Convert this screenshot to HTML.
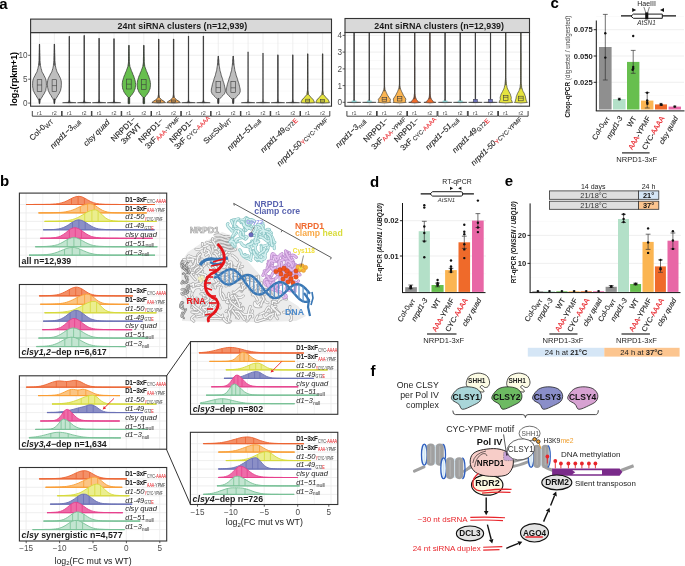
<!DOCTYPE html>
<html><head><meta charset="utf-8"><style>
html,body{margin:0;padding:0;background:#fff;width:685px;height:566px;overflow:hidden}
svg{display:block;will-change:transform;font-family:"Liberation Sans", sans-serif}
</style></head><body>
<svg width="685" height="566" viewBox="0 0 685 566">
<rect width="685" height="566" fill="#fff"/>
<text x="-0.8" y="8.7" font-size="15" font-weight="bold" text-anchor="start" fill="#000">a</text>
<rect x="30.6" y="32.6" width="300.9" height="73.6" fill="#fff" stroke="none" stroke-width="1"/>
<line x1="30.6" y1="103.1" x2="331.5" y2="103.1" stroke="#ebebeb" stroke-width="0.8"/>
<line x1="30.6" y1="91.1" x2="331.5" y2="91.1" stroke="#f2f2f2" stroke-width="0.5"/>
<line x1="30.6" y1="79.2" x2="331.5" y2="79.2" stroke="#ebebeb" stroke-width="0.8"/>
<line x1="30.6" y1="67.2" x2="331.5" y2="67.2" stroke="#f2f2f2" stroke-width="0.5"/>
<line x1="30.6" y1="55.3" x2="331.5" y2="55.3" stroke="#ebebeb" stroke-width="0.8"/>
<line x1="30.6" y1="43.3" x2="331.5" y2="43.3" stroke="#f2f2f2" stroke-width="0.5"/>
<line x1="39.5" y1="32.6" x2="39.5" y2="106.2" stroke="#ebebeb" stroke-width="0.8"/>
<line x1="54.4" y1="32.6" x2="54.4" y2="106.2" stroke="#ebebeb" stroke-width="0.8"/>
<line x1="69.3" y1="32.6" x2="69.3" y2="106.2" stroke="#ebebeb" stroke-width="0.8"/>
<line x1="84.2" y1="32.6" x2="84.2" y2="106.2" stroke="#ebebeb" stroke-width="0.8"/>
<line x1="99.1" y1="32.6" x2="99.1" y2="106.2" stroke="#ebebeb" stroke-width="0.8"/>
<line x1="114" y1="32.6" x2="114" y2="106.2" stroke="#ebebeb" stroke-width="0.8"/>
<line x1="128.9" y1="32.6" x2="128.9" y2="106.2" stroke="#ebebeb" stroke-width="0.8"/>
<line x1="143.8" y1="32.6" x2="143.8" y2="106.2" stroke="#ebebeb" stroke-width="0.8"/>
<line x1="158.7" y1="32.6" x2="158.7" y2="106.2" stroke="#ebebeb" stroke-width="0.8"/>
<line x1="173.6" y1="32.6" x2="173.6" y2="106.2" stroke="#ebebeb" stroke-width="0.8"/>
<line x1="188.5" y1="32.6" x2="188.5" y2="106.2" stroke="#ebebeb" stroke-width="0.8"/>
<line x1="203.4" y1="32.6" x2="203.4" y2="106.2" stroke="#ebebeb" stroke-width="0.8"/>
<line x1="218.3" y1="32.6" x2="218.3" y2="106.2" stroke="#ebebeb" stroke-width="0.8"/>
<line x1="233.2" y1="32.6" x2="233.2" y2="106.2" stroke="#ebebeb" stroke-width="0.8"/>
<line x1="248.1" y1="32.6" x2="248.1" y2="106.2" stroke="#ebebeb" stroke-width="0.8"/>
<line x1="263" y1="32.6" x2="263" y2="106.2" stroke="#ebebeb" stroke-width="0.8"/>
<line x1="277.9" y1="32.6" x2="277.9" y2="106.2" stroke="#ebebeb" stroke-width="0.8"/>
<line x1="292.8" y1="32.6" x2="292.8" y2="106.2" stroke="#ebebeb" stroke-width="0.8"/>
<line x1="307.7" y1="32.6" x2="307.7" y2="106.2" stroke="#ebebeb" stroke-width="0.8"/>
<line x1="322.6" y1="32.6" x2="322.6" y2="106.2" stroke="#ebebeb" stroke-width="0.8"/>
<path d="M39.6 44.1 L39.7 45.8 L39.7 47.4 L39.7 49.1 L39.8 50.7 L39.8 52.4 L39.9 54 L39.9 55.7 L40 57.3 L40 59 L40 60 L40 60.6 L40.2 62.3 L40.4 63.9 L40.5 65.6 L40.5 65.7 L40.8 67.2 L41.1 68.5 L41.2 68.9 L41.7 70.5 L41.9 71.5 L42.2 72.2 L43.2 73.8 L43.8 75 L44 75.5 L44.9 77.2 L45.5 78.5 L45.6 78.8 L46.1 80.5 L46.2 81 L46.3 82.1 L46.4 83.8 L46.4 84 L46.4 85.4 L46.3 87 L46.3 87.1 L46 88.7 L45.8 90.2 L45.8 90.4 L44.9 92 L44.5 93 L44.2 93.7 L43 95.3 L42.7 96 L42.1 97 L41.1 98.5 L41.1 98.6 L40.2 100.3 L40.1 100.7 L39.9 101.9 L39.6 103.6 L39.4 103.6 L39.1 101.9 L38.9 100.7 L38.8 100.3 L37.9 98.6 L37.9 98.5 L36.9 97 L36.3 96 L36 95.3 L34.8 93.7 L34.5 93 L34.1 92 L33.2 90.4 L33.2 90.2 L33 88.7 L32.7 87.1 L32.7 87 L32.6 85.4 L32.6 84 L32.6 83.8 L32.7 82.1 L32.8 81 L32.9 80.5 L33.4 78.8 L33.5 78.5 L34.1 77.2 L35 75.5 L35.2 75 L35.8 73.8 L36.8 72.2 L37.1 71.5 L37.3 70.5 L37.8 68.9 L37.9 68.5 L38.2 67.2 L38.5 65.7 L38.5 65.6 L38.6 63.9 L38.8 62.3 L39 60.6 L39 60 L39 59 L39 57.3 L39.1 55.7 L39.1 54 L39.2 52.4 L39.2 50.7 L39.3 49.1 L39.3 47.4 L39.3 45.8 L39.4 44.1 Z" fill="#bebebe" stroke="#2b2b2b" stroke-width="0.7" stroke-linejoin="round"/>
<line x1="39.5" y1="44.1" x2="39.5" y2="65.6" stroke="#3a3a3a" stroke-width="0.8"/>
<line x1="39.5" y1="98.6" x2="39.5" y2="103.6" stroke="#333" stroke-width="1.3"/>
<rect x="37.2" y="79.7" width="4.6" height="11.7" fill="none" stroke="#3a3a3a" stroke-width="0.6"/>
<line x1="37.2" y1="85" x2="41.8" y2="85" stroke="#3a3a3a" stroke-width="0.6"/>
<path d="M54.5 44.1 L54.6 45.8 L54.6 47.4 L54.6 49.1 L54.7 50.7 L54.7 52.4 L54.8 54 L54.8 55.7 L54.9 57.3 L54.9 59 L54.9 60 L54.9 60.6 L55.1 62.3 L55.3 63.9 L55.4 65.6 L55.4 65.7 L55.7 67.2 L56 68.5 L56.1 68.9 L56.6 70.5 L56.9 71.5 L57.2 72.2 L58.2 73.8 L58.8 75 L59 75.5 L59.9 77.2 L60.5 78.5 L60.6 78.8 L61.1 80.5 L61.2 81 L61.3 82.1 L61.4 83.8 L61.4 84.5 L61.3 85.4 L61.2 87.1 L61.2 87.5 L60.9 88.7 L60.6 90.2 L60.6 90.4 L59.8 92 L59.4 93 L59.1 93.7 L57.9 95.3 L57.6 96 L57 97 L56 98.5 L56 98.6 L55.1 100.3 L55 100.7 L54.8 101.9 L54.5 103.6 L54.2 103.6 L54 101.9 L53.8 100.7 L53.7 100.3 L52.8 98.6 L52.8 98.5 L51.8 97 L51.2 96 L50.9 95.3 L49.7 93.7 L49.4 93 L49 92 L48.2 90.4 L48.2 90.2 L47.9 88.7 L47.6 87.5 L47.6 87.1 L47.5 85.4 L47.4 84.5 L47.4 83.8 L47.5 82.1 L47.6 81 L47.7 80.5 L48.2 78.8 L48.3 78.5 L48.9 77.2 L49.8 75.5 L50 75 L50.6 73.8 L51.6 72.2 L51.9 71.5 L52.2 70.5 L52.7 68.9 L52.8 68.5 L53.1 67.2 L53.4 65.7 L53.4 65.6 L53.5 63.9 L53.7 62.3 L53.9 60.6 L53.9 60 L53.9 59 L53.9 57.3 L54 55.7 L54 54 L54.1 52.4 L54.1 50.7 L54.2 49.1 L54.2 47.4 L54.2 45.8 L54.2 44.1 Z" fill="#bebebe" stroke="#2b2b2b" stroke-width="0.7" stroke-linejoin="round"/>
<line x1="54.4" y1="44.1" x2="54.4" y2="65.6" stroke="#3a3a3a" stroke-width="0.8"/>
<line x1="54.4" y1="98.6" x2="54.4" y2="103.6" stroke="#333" stroke-width="1.3"/>
<rect x="52.1" y="79.7" width="4.6" height="11.7" fill="none" stroke="#3a3a3a" stroke-width="0.6"/>
<line x1="52.1" y1="85.6" x2="56.7" y2="85.6" stroke="#3a3a3a" stroke-width="0.6"/>
<path d="M69.5 36.3 L69.5 38.2 L69.5 40 L69.5 41.9 L69.5 43.7 L69.5 45.6 L69.5 47.4 L69.5 49.3 L69.5 51.1 L69.5 53 L69.5 54.8 L69.5 56.7 L69.5 58.5 L69.5 60.4 L69.5 62.2 L69.5 64.1 L69.5 65.9 L69.5 67.8 L69.5 69.7 L69.5 71.5 L69.5 73.4 L69.5 75.2 L69.5 77.1 L69.5 78.9 L69.5 80.8 L69.5 82.6 L69.5 84.5 L69.5 86.3 L69.5 88.2 L69.5 90 L69.5 91.9 L69.5 93.7 L69.5 95.6 L69.5 97.4 L69.5 98.7 L69.5 99.3 L69.8 101.1 L69.8 101.6 L70.8 102.3 L76.1 102.7 L69.3 103 L69.3 103 L62.5 102.7 L67.8 102.3 L68.8 101.6 L68.8 101.1 L69.1 99.3 L69.1 98.7 L69.1 97.4 L69.1 95.6 L69.1 93.7 L69.1 91.9 L69.1 90 L69.1 88.2 L69.1 86.3 L69.1 84.5 L69.1 82.6 L69.1 80.8 L69.1 78.9 L69.1 77.1 L69.1 75.2 L69.1 73.4 L69.1 71.5 L69.1 69.7 L69.1 67.8 L69.1 65.9 L69.1 64.1 L69.1 62.2 L69.1 60.4 L69.1 58.5 L69.1 56.7 L69.1 54.8 L69.1 53 L69.1 51.1 L69.1 49.3 L69.1 47.4 L69.1 45.6 L69.1 43.7 L69.1 41.9 L69.1 40 L69.1 38.2 L69.1 36.3 Z" fill="#444" stroke="#2b2b2b" stroke-width="0.5" stroke-linejoin="round"/>
<line x1="69.3" y1="36.3" x2="69.3" y2="102.3" stroke="#3a3a3a" stroke-width="0.8"/>
<path d="M84.4 35.4 L84.4 37.3 L84.4 39.2 L84.4 41 L84.4 42.9 L84.4 44.8 L84.4 46.7 L84.4 48.5 L84.4 50.4 L84.4 52.3 L84.4 54.2 L84.4 56.1 L84.4 57.9 L84.4 59.8 L84.4 61.7 L84.4 63.6 L84.4 65.4 L84.4 67.3 L84.4 69.2 L84.4 71.1 L84.4 73 L84.4 74.8 L84.4 76.7 L84.4 78.6 L84.4 80.5 L84.4 82.3 L84.4 84.2 L84.4 86.1 L84.4 88 L84.4 89.9 L84.4 91.7 L84.4 93.6 L84.4 95.5 L84.4 97.4 L84.4 98.7 L84.4 99.2 L84.7 101.1 L84.7 101.6 L85.7 102.3 L91 102.7 L84.2 103 L84.2 103 L77.4 102.7 L82.7 102.3 L83.7 101.6 L83.7 101.1 L84 99.2 L84 98.7 L84 97.4 L84 95.5 L84 93.6 L84 91.7 L84 89.9 L84 88 L84 86.1 L84 84.2 L84 82.3 L84 80.5 L84 78.6 L84 76.7 L84 74.8 L84 73 L84 71.1 L84 69.2 L84 67.3 L84 65.4 L84 63.6 L84 61.7 L84 59.8 L84 57.9 L84 56.1 L84 54.2 L84 52.3 L84 50.4 L84 48.5 L84 46.7 L84 44.8 L84 42.9 L84 41 L84 39.2 L84 37.3 L84 35.4 Z" fill="#444" stroke="#2b2b2b" stroke-width="0.5" stroke-linejoin="round"/>
<line x1="84.2" y1="35.4" x2="84.2" y2="102.3" stroke="#3a3a3a" stroke-width="0.8"/>
<path d="M99.2 38.2 L99.3 40 L99.3 41.8 L99.3 43.6 L99.3 45.4 L99.3 47.2 L99.3 49 L99.3 50.8 L99.3 52.6 L99.3 54.4 L99.3 56.2 L99.3 58 L99.3 59.8 L99.3 61.6 L99.3 63.4 L99.3 65.2 L99.3 67 L99.3 68.8 L99.3 70.6 L99.3 72.4 L99.3 74.2 L99.3 76 L99.3 77.8 L99.3 79.6 L99.3 81.4 L99.3 83.2 L99.3 85 L99.3 86.8 L99.3 88.6 L99.3 90.4 L99.3 92.2 L99.3 94 L99.3 95.8 L99.3 97.6 L99.3 98.7 L99.4 99.4 L99.6 101.2 L99.6 101.6 L100.6 102.3 L105.9 102.7 L99.1 103 L99.1 103 L92.3 102.7 L97.6 102.3 L98.6 101.6 L98.6 101.2 L98.8 99.4 L98.9 98.7 L98.9 97.6 L98.9 95.8 L98.9 94 L98.9 92.2 L98.9 90.4 L98.9 88.6 L98.9 86.8 L98.9 85 L98.9 83.2 L98.9 81.4 L98.9 79.6 L98.9 77.8 L98.9 76 L98.9 74.2 L98.9 72.4 L98.9 70.6 L98.9 68.8 L98.9 67 L98.9 65.2 L98.9 63.4 L98.9 61.6 L98.9 59.8 L98.9 58 L98.9 56.2 L98.9 54.4 L98.9 52.6 L98.9 50.8 L98.9 49 L98.9 47.2 L98.9 45.4 L98.9 43.6 L98.9 41.8 L98.9 40 L98.9 38.2 Z" fill="#444" stroke="#2b2b2b" stroke-width="0.5" stroke-linejoin="round"/>
<line x1="99.1" y1="38.2" x2="99.1" y2="102.3" stroke="#3a3a3a" stroke-width="0.8"/>
<path d="M114.2 38.7 L114.2 40.5 L114.2 42.3 L114.2 44.1 L114.2 45.8 L114.2 47.6 L114.2 49.4 L114.2 51.2 L114.2 53 L114.2 54.8 L114.2 56.6 L114.2 58.3 L114.2 60.1 L114.2 61.9 L114.2 63.7 L114.2 65.5 L114.2 67.3 L114.2 69.1 L114.2 70.8 L114.2 72.6 L114.2 74.4 L114.2 76.2 L114.2 78 L114.2 79.8 L114.2 81.6 L114.2 83.4 L114.2 85.1 L114.2 86.9 L114.2 88.7 L114.2 90.5 L114.2 92.3 L114.2 94.1 L114.2 95.9 L114.2 97.6 L114.2 98.7 L114.3 99.4 L114.5 101.2 L114.5 101.6 L115.5 102.3 L120.8 102.7 L114 103 L114 103 L107.2 102.7 L112.5 102.3 L113.5 101.6 L113.5 101.2 L113.7 99.4 L113.8 98.7 L113.8 97.6 L113.8 95.9 L113.8 94.1 L113.8 92.3 L113.8 90.5 L113.8 88.7 L113.8 86.9 L113.8 85.1 L113.8 83.4 L113.8 81.6 L113.8 79.8 L113.8 78 L113.8 76.2 L113.8 74.4 L113.8 72.6 L113.8 70.8 L113.8 69.1 L113.8 67.3 L113.8 65.5 L113.8 63.7 L113.8 61.9 L113.8 60.1 L113.8 58.3 L113.8 56.6 L113.8 54.8 L113.8 53 L113.8 51.2 L113.8 49.4 L113.8 47.6 L113.8 45.8 L113.8 44.1 L113.8 42.3 L113.8 40.5 L113.8 38.7 Z" fill="#444" stroke="#2b2b2b" stroke-width="0.5" stroke-linejoin="round"/>
<line x1="114" y1="38.7" x2="114" y2="102.3" stroke="#3a3a3a" stroke-width="0.8"/>
<path d="M188.7 36 L188.7 37.9 L188.7 39.7 L188.7 41.6 L188.7 43.4 L188.7 45.3 L188.7 47.2 L188.7 49 L188.7 50.9 L188.7 52.8 L188.7 54.6 L188.7 56.5 L188.7 58.3 L188.7 60.2 L188.7 62.1 L188.7 63.9 L188.7 65.8 L188.7 67.6 L188.7 69.5 L188.7 71.4 L188.7 73.2 L188.7 75.1 L188.7 76.9 L188.7 78.8 L188.7 80.7 L188.7 82.5 L188.7 84.4 L188.7 86.2 L188.7 88.1 L188.7 90 L188.7 91.8 L188.7 93.7 L188.7 95.6 L188.7 97.4 L188.7 98.7 L188.7 99.3 L189 101.1 L189 101.6 L190 102.3 L195.3 102.7 L188.5 103 L188.5 103 L181.7 102.7 L187 102.3 L188 101.6 L188 101.1 L188.3 99.3 L188.3 98.7 L188.3 97.4 L188.3 95.6 L188.3 93.7 L188.3 91.8 L188.3 90 L188.3 88.1 L188.3 86.2 L188.3 84.4 L188.3 82.5 L188.3 80.7 L188.3 78.8 L188.3 76.9 L188.3 75.1 L188.3 73.2 L188.3 71.4 L188.3 69.5 L188.3 67.6 L188.3 65.8 L188.3 63.9 L188.3 62.1 L188.3 60.2 L188.3 58.3 L188.3 56.5 L188.3 54.6 L188.3 52.8 L188.3 50.9 L188.3 49 L188.3 47.2 L188.3 45.3 L188.3 43.4 L188.3 41.6 L188.3 39.7 L188.3 37.9 L188.3 36 Z" fill="#444" stroke="#2b2b2b" stroke-width="0.5" stroke-linejoin="round"/>
<line x1="188.5" y1="36" x2="188.5" y2="102.3" stroke="#3a3a3a" stroke-width="0.8"/>
<path d="M203.6 36 L203.6 37.9 L203.6 39.7 L203.6 41.6 L203.6 43.4 L203.6 45.3 L203.6 47.2 L203.6 49 L203.6 50.9 L203.6 52.8 L203.6 54.6 L203.6 56.5 L203.6 58.3 L203.6 60.2 L203.6 62.1 L203.6 63.9 L203.6 65.8 L203.6 67.6 L203.6 69.5 L203.6 71.4 L203.6 73.2 L203.6 75.1 L203.6 76.9 L203.6 78.8 L203.6 80.7 L203.6 82.5 L203.6 84.4 L203.6 86.2 L203.6 88.1 L203.6 90 L203.6 91.8 L203.6 93.7 L203.6 95.6 L203.6 97.4 L203.6 98.7 L203.6 99.3 L203.9 101.1 L203.9 101.6 L204.9 102.3 L210.2 102.7 L203.4 103 L203.4 103 L196.6 102.7 L201.9 102.3 L202.9 101.6 L202.9 101.1 L203.2 99.3 L203.2 98.7 L203.2 97.4 L203.2 95.6 L203.2 93.7 L203.2 91.8 L203.2 90 L203.2 88.1 L203.2 86.2 L203.2 84.4 L203.2 82.5 L203.2 80.7 L203.2 78.8 L203.2 76.9 L203.2 75.1 L203.2 73.2 L203.2 71.4 L203.2 69.5 L203.2 67.6 L203.2 65.8 L203.2 63.9 L203.2 62.1 L203.2 60.2 L203.2 58.3 L203.2 56.5 L203.2 54.6 L203.2 52.8 L203.2 50.9 L203.2 49 L203.2 47.2 L203.2 45.3 L203.2 43.4 L203.2 41.6 L203.2 39.7 L203.2 37.9 L203.2 36 Z" fill="#444" stroke="#2b2b2b" stroke-width="0.5" stroke-linejoin="round"/>
<line x1="203.4" y1="36" x2="203.4" y2="102.3" stroke="#3a3a3a" stroke-width="0.8"/>
<path d="M248.2 51.9 L248.3 53.3 L248.3 54.7 L248.3 56.2 L248.3 57.6 L248.3 59 L248.3 60.4 L248.3 61.8 L248.3 63.3 L248.3 64.7 L248.3 66.1 L248.3 67.5 L248.3 68.9 L248.3 70.4 L248.3 71.8 L248.3 73.2 L248.3 74.6 L248.3 76 L248.3 77.5 L248.3 78.9 L248.3 80.3 L248.3 81.7 L248.3 83.1 L248.3 84.5 L248.3 86 L248.3 87.4 L248.3 88.8 L248.3 90.2 L248.3 91.6 L248.3 93.1 L248.3 94.5 L248.3 95.9 L248.3 97.3 L248.3 98.7 L248.3 98.7 L248.5 100.2 L248.6 101.6 L248.6 101.6 L249.6 102.3 L254.9 102.7 L248.1 103 L248.1 103 L241.3 102.7 L246.6 102.3 L247.6 101.6 L247.6 101.6 L247.7 100.2 L247.9 98.7 L247.9 98.7 L247.9 97.3 L247.9 95.9 L247.9 94.5 L247.9 93.1 L247.9 91.6 L247.9 90.2 L247.9 88.8 L247.9 87.4 L247.9 86 L247.9 84.5 L247.9 83.1 L247.9 81.7 L247.9 80.3 L247.9 78.9 L247.9 77.5 L247.9 76 L247.9 74.6 L247.9 73.2 L247.9 71.8 L247.9 70.4 L247.9 68.9 L247.9 67.5 L247.9 66.1 L247.9 64.7 L247.9 63.3 L247.9 61.8 L247.9 60.4 L247.9 59 L247.9 57.6 L247.9 56.2 L247.9 54.7 L247.9 53.3 L247.9 51.9 Z" fill="#444" stroke="#2b2b2b" stroke-width="0.5" stroke-linejoin="round"/>
<line x1="248.1" y1="51.9" x2="248.1" y2="102.3" stroke="#7a7a7a" stroke-width="0.8"/>
<path d="M263.1 53 L263.2 54.4 L263.2 55.8 L263.2 57.2 L263.2 58.6 L263.2 59.9 L263.2 61.3 L263.2 62.7 L263.2 64.1 L263.2 65.5 L263.2 66.9 L263.2 68.3 L263.2 69.7 L263.2 71.1 L263.2 72.4 L263.2 73.8 L263.2 75.2 L263.2 76.6 L263.2 78 L263.2 79.4 L263.2 80.8 L263.2 82.2 L263.2 83.6 L263.2 84.9 L263.2 86.3 L263.2 87.7 L263.2 89.1 L263.2 90.5 L263.2 91.9 L263.2 93.3 L263.2 94.7 L263.2 96.1 L263.2 97.4 L263.2 98.7 L263.2 98.8 L263.4 100.2 L263.5 101.6 L263.5 101.6 L264.5 102.3 L269.8 102.7 L263 103 L263 103 L256.2 102.7 L261.5 102.3 L262.5 101.6 L262.5 101.6 L262.6 100.2 L262.8 98.8 L262.8 98.7 L262.8 97.4 L262.8 96.1 L262.8 94.7 L262.8 93.3 L262.8 91.9 L262.8 90.5 L262.8 89.1 L262.8 87.7 L262.8 86.3 L262.8 84.9 L262.8 83.6 L262.8 82.2 L262.8 80.8 L262.8 79.4 L262.8 78 L262.8 76.6 L262.8 75.2 L262.8 73.8 L262.8 72.4 L262.8 71.1 L262.8 69.7 L262.8 68.3 L262.8 66.9 L262.8 65.5 L262.8 64.1 L262.8 62.7 L262.8 61.3 L262.8 59.9 L262.8 58.6 L262.8 57.2 L262.8 55.8 L262.8 54.4 L262.9 53 Z" fill="#444" stroke="#2b2b2b" stroke-width="0.5" stroke-linejoin="round"/>
<line x1="263" y1="53" x2="263" y2="102.3" stroke="#7a7a7a" stroke-width="0.8"/>
<path d="M278 54.8 L278.1 56.1 L278.1 57.5 L278.1 58.8 L278.1 60.2 L278.1 61.5 L278.1 62.8 L278.1 64.2 L278.1 65.5 L278.1 66.8 L278.1 68.2 L278.1 69.5 L278.1 70.9 L278.1 72.2 L278.1 73.5 L278.1 74.9 L278.1 76.2 L278.1 77.6 L278.1 78.9 L278.1 80.2 L278.1 81.6 L278.1 82.9 L278.1 84.3 L278.1 85.6 L278.1 86.9 L278.1 88.3 L278.1 89.6 L278.1 91 L278.1 92.3 L278.1 93.6 L278.1 95 L278.1 96.3 L278.1 97.6 L278.1 98.7 L278.1 99 L278.3 100.3 L278.4 101.6 L278.5 101.7 L279.4 102.3 L284.7 102.7 L277.9 103 L277.9 103 L271.1 102.7 L276.4 102.3 L277.3 101.7 L277.4 101.6 L277.5 100.3 L277.7 99 L277.7 98.7 L277.7 97.6 L277.7 96.3 L277.7 95 L277.7 93.6 L277.7 92.3 L277.7 91 L277.7 89.6 L277.7 88.3 L277.7 86.9 L277.7 85.6 L277.7 84.3 L277.7 82.9 L277.7 81.6 L277.7 80.2 L277.7 78.9 L277.7 77.6 L277.7 76.2 L277.7 74.9 L277.7 73.5 L277.7 72.2 L277.7 70.9 L277.7 69.5 L277.7 68.2 L277.7 66.8 L277.7 65.5 L277.7 64.2 L277.7 62.8 L277.7 61.5 L277.7 60.2 L277.7 58.8 L277.7 57.5 L277.7 56.1 L277.8 54.8 Z" fill="#444" stroke="#2b2b2b" stroke-width="0.5" stroke-linejoin="round"/>
<line x1="277.9" y1="54.8" x2="277.9" y2="102.3" stroke="#3a3a3a" stroke-width="0.8"/>
<path d="M292.9 54.8 L293 56.1 L293 57.5 L293 58.8 L293 60.2 L293 61.5 L293 62.8 L293 64.2 L293 65.5 L293 66.8 L293 68.2 L293 69.5 L293 70.9 L293 72.2 L293 73.5 L293 74.9 L293 76.2 L293 77.6 L293 78.9 L293 80.2 L293 81.6 L293 82.9 L293 84.3 L293 85.6 L293 86.9 L293 88.3 L293 89.6 L293 91 L293 92.3 L293 93.6 L293 95 L293 96.3 L293 97.6 L293 98.7 L293 99 L293.2 100.3 L293.3 101.6 L293.4 101.7 L294.3 102.3 L299.6 102.7 L292.8 103 L292.8 103 L286 102.7 L291.3 102.3 L292.2 101.7 L292.3 101.6 L292.4 100.3 L292.6 99 L292.6 98.7 L292.6 97.6 L292.6 96.3 L292.6 95 L292.6 93.6 L292.6 92.3 L292.6 91 L292.6 89.6 L292.6 88.3 L292.6 86.9 L292.6 85.6 L292.6 84.3 L292.6 82.9 L292.6 81.6 L292.6 80.2 L292.6 78.9 L292.6 77.6 L292.6 76.2 L292.6 74.9 L292.6 73.5 L292.6 72.2 L292.6 70.9 L292.6 69.5 L292.6 68.2 L292.6 66.8 L292.6 65.5 L292.6 64.2 L292.6 62.8 L292.6 61.5 L292.6 60.2 L292.6 58.8 L292.6 57.5 L292.6 56.1 L292.7 54.8 Z" fill="#444" stroke="#2b2b2b" stroke-width="0.5" stroke-linejoin="round"/>
<line x1="292.8" y1="54.8" x2="292.8" y2="102.3" stroke="#3a3a3a" stroke-width="0.8"/>
<path d="M129.1 45.3 L129.1 46.9 L129.1 48.5 L129.1 50.2 L129.1 51.8 L129.2 53.4 L129.2 55 L129.2 56.6 L129.3 58.3 L129.3 59.9 L129.3 61.5 L129.3 62 L129.4 63.1 L129.7 64.7 L129.9 66.3 L129.9 66.4 L130.4 68 L131.1 69.6 L131.3 70.4 L131.6 71.2 L132.4 72.8 L132.8 74 L132.9 74.4 L133.7 76.1 L134.2 77.4 L134.2 77.7 L134.7 79.3 L135.2 80.9 L135.2 81 L135.4 82.5 L135.6 84.2 L135.6 84.5 L135.5 85.8 L135.3 87.4 L135.3 88 L135 89 L134.3 90.6 L134.1 91.4 L133.6 92.3 L132.5 93.9 L132.5 94 L131.2 95.5 L130.9 96 L129.9 97.1 L129.7 97.4 L129.7 98.7 L129.7 100.4 L129.7 102 L129.7 103.6 L128.1 103.6 L128.1 102 L128.1 100.4 L128.1 98.7 L128.1 97.4 L127.9 97.1 L126.9 96 L126.6 95.5 L125.3 94 L125.3 93.9 L124.2 92.3 L123.7 91.4 L123.5 90.6 L122.8 89 L122.5 88 L122.5 87.4 L122.3 85.8 L122.2 84.5 L122.2 84.2 L122.4 82.5 L122.6 81 L122.6 80.9 L123.1 79.3 L123.6 77.7 L123.6 77.4 L124.1 76.1 L124.9 74.4 L125 74 L125.4 72.8 L126.2 71.2 L126.5 70.4 L126.7 69.6 L127.4 68 L127.9 66.4 L127.9 66.3 L128.1 64.7 L128.4 63.1 L128.5 62 L128.5 61.5 L128.5 59.9 L128.5 58.3 L128.6 56.6 L128.6 55 L128.6 53.4 L128.7 51.8 L128.7 50.2 L128.7 48.5 L128.7 46.9 L128.8 45.3 Z" fill="#67bf4e" stroke="#2b2b2b" stroke-width="0.7" stroke-linejoin="round"/>
<line x1="128.9" y1="45.3" x2="128.9" y2="66.3" stroke="#3a3a3a" stroke-width="0.8"/>
<line x1="128.9" y1="97.1" x2="128.9" y2="103.6" stroke="#333" stroke-width="1.3"/>
<rect x="126.6" y="79.1" width="4.6" height="9.9" fill="none" stroke="#3a3a3a" stroke-width="0.6"/>
<line x1="126.6" y1="84.2" x2="131.2" y2="84.2" stroke="#3a3a3a" stroke-width="0.6"/>
<path d="M144 45.3 L144 46.9 L144 48.5 L144 50.2 L144 51.8 L144.1 53.4 L144.1 55 L144.1 56.6 L144.2 58.3 L144.2 59.9 L144.2 61.5 L144.2 62 L144.3 63.1 L144.6 64.7 L144.8 66.3 L144.8 66.4 L145.3 68 L146 69.6 L146.2 70.4 L146.5 71.2 L147.3 72.8 L147.7 74 L147.8 74.4 L148.6 76.1 L149.1 77.4 L149.1 77.7 L149.6 79.3 L150.1 80.9 L150.1 81 L150.3 82.5 L150.5 84.2 L150.5 84.5 L150.4 85.8 L150.2 87.4 L150.2 88 L149.9 89 L149.2 90.6 L149 91.4 L148.5 92.3 L147.4 93.9 L147.4 94 L146.1 95.5 L145.8 96 L144.8 97.1 L144.6 97.4 L144.6 98.7 L144.6 100.4 L144.6 102 L144.6 103.6 L143 103.6 L143 102 L143 100.4 L143 98.7 L143 97.4 L142.8 97.1 L141.8 96 L141.5 95.5 L140.2 94 L140.2 93.9 L139.1 92.3 L138.6 91.4 L138.4 90.6 L137.7 89 L137.4 88 L137.4 87.4 L137.2 85.8 L137.1 84.5 L137.1 84.2 L137.3 82.5 L137.5 81 L137.5 80.9 L138 79.3 L138.5 77.7 L138.5 77.4 L139 76.1 L139.8 74.4 L139.9 74 L140.3 72.8 L141.1 71.2 L141.4 70.4 L141.6 69.6 L142.3 68 L142.8 66.4 L142.8 66.3 L143 64.7 L143.3 63.1 L143.4 62 L143.4 61.5 L143.4 59.9 L143.4 58.3 L143.5 56.6 L143.5 55 L143.5 53.4 L143.6 51.8 L143.6 50.2 L143.6 48.5 L143.6 46.9 L143.7 45.3 Z" fill="#67bf4e" stroke="#2b2b2b" stroke-width="0.7" stroke-linejoin="round"/>
<line x1="143.8" y1="45.3" x2="143.8" y2="66.3" stroke="#3a3a3a" stroke-width="0.8"/>
<line x1="143.8" y1="97.1" x2="143.8" y2="103.6" stroke="#333" stroke-width="1.3"/>
<rect x="141.5" y="79.5" width="4.6" height="9.9" fill="none" stroke="#3a3a3a" stroke-width="0.6"/>
<line x1="141.5" y1="84.6" x2="146.1" y2="84.6" stroke="#3a3a3a" stroke-width="0.6"/>
<path d="M158.8 39 L158.9 40.8 L158.9 42.6 L158.9 44.3 L158.9 46.1 L158.9 47.9 L158.9 49.7 L158.9 51.5 L158.9 53.2 L158.9 55 L158.9 56.8 L158.9 58.6 L158.9 60.4 L158.9 62.1 L158.9 63.9 L158.9 65.7 L158.9 67.5 L158.9 69.3 L158.9 71 L158.9 72.8 L158.9 74.6 L158.9 76.4 L158.9 78.2 L158.9 80 L158.9 81.7 L158.9 83.5 L158.9 85.3 L158.9 87.1 L158.9 88.9 L158.9 90.6 L158.9 92.4 L158.9 94 L158.9 94.2 L159.2 96 L159.5 97.5 L159.6 97.8 L161.4 99.5 L161.5 99.8 L164.1 101.3 L164.3 101.5 L165.5 102.6 L158.7 103.1 L158.7 103.1 L151.9 102.6 L153.1 101.5 L153.3 101.3 L155.9 99.8 L156 99.5 L157.8 97.8 L157.9 97.5 L158.2 96 L158.5 94.2 L158.5 94 L158.5 92.4 L158.5 90.6 L158.5 88.9 L158.5 87.1 L158.5 85.3 L158.5 83.5 L158.5 81.7 L158.5 80 L158.5 78.2 L158.5 76.4 L158.5 74.6 L158.5 72.8 L158.5 71 L158.5 69.3 L158.5 67.5 L158.5 65.7 L158.5 63.9 L158.5 62.1 L158.5 60.4 L158.5 58.6 L158.5 56.8 L158.5 55 L158.5 53.2 L158.5 51.5 L158.5 49.7 L158.5 47.9 L158.5 46.1 L158.5 44.3 L158.5 42.6 L158.5 40.8 L158.5 39 Z" fill="#e9a352" stroke="#2b2b2b" stroke-width="0.7" stroke-linejoin="round"/>
<line x1="158.7" y1="39" x2="158.7" y2="97.8" stroke="#3a3a3a" stroke-width="0.8"/>
<rect x="156.7" y="100.2" width="4" height="2.4" fill="none" stroke="#3a3a3a" stroke-width="0.6"/>
<line x1="156.7" y1="101.4" x2="160.7" y2="101.4" stroke="#3a3a3a" stroke-width="0.6"/>
<path d="M173.8 39 L173.8 40.8 L173.8 42.6 L173.8 44.3 L173.8 46.1 L173.8 47.9 L173.8 49.7 L173.8 51.5 L173.8 53.2 L173.8 55 L173.8 56.8 L173.8 58.6 L173.8 60.4 L173.8 62.1 L173.8 63.9 L173.8 65.7 L173.8 67.5 L173.8 69.3 L173.8 71 L173.8 72.8 L173.8 74.6 L173.8 76.4 L173.8 78.2 L173.8 80 L173.8 81.7 L173.8 83.5 L173.8 85.3 L173.8 87.1 L173.8 88.9 L173.8 90.6 L173.8 92.4 L173.8 94 L173.8 94.2 L174.1 96 L174.4 97.5 L174.5 97.8 L176.3 99.5 L176.4 99.8 L179 101.3 L179.2 101.5 L180.4 102.6 L173.6 103.1 L173.6 103.1 L166.8 102.6 L168 101.5 L168.2 101.3 L170.8 99.8 L170.9 99.5 L172.7 97.8 L172.8 97.5 L173.1 96 L173.4 94.2 L173.4 94 L173.4 92.4 L173.4 90.6 L173.4 88.9 L173.4 87.1 L173.4 85.3 L173.4 83.5 L173.4 81.7 L173.4 80 L173.4 78.2 L173.4 76.4 L173.4 74.6 L173.4 72.8 L173.4 71 L173.4 69.3 L173.4 67.5 L173.4 65.7 L173.4 63.9 L173.4 62.1 L173.4 60.4 L173.4 58.6 L173.4 56.8 L173.4 55 L173.4 53.2 L173.4 51.5 L173.4 49.7 L173.4 47.9 L173.4 46.1 L173.4 44.3 L173.4 42.6 L173.4 40.8 L173.4 39 Z" fill="#e9a352" stroke="#2b2b2b" stroke-width="0.7" stroke-linejoin="round"/>
<line x1="173.6" y1="39" x2="173.6" y2="97.8" stroke="#3a3a3a" stroke-width="0.8"/>
<rect x="171.6" y="100" width="4" height="2.6" fill="none" stroke="#3a3a3a" stroke-width="0.6"/>
<line x1="171.6" y1="101.2" x2="175.6" y2="101.2" stroke="#3a3a3a" stroke-width="0.6"/>
<path d="M218.5 56.1 L218.5 57.4 L218.6 58.7 L218.8 60 L218.9 61.4 L218.9 62 L218.9 62.7 L219.1 64 L219.2 65.3 L219.3 66 L219.4 66.6 L219.6 67.9 L219.8 69.2 L219.9 69.8 L220 70.6 L220.4 71.9 L220.8 73.2 L221.1 74.5 L221.1 74.5 L221.4 75.8 L221.9 77.1 L222.4 78.4 L222.7 79.6 L222.7 79.8 L223.1 81.1 L223.6 82.4 L224 83.7 L224.2 84.5 L224.3 85 L224.6 86.3 L224.9 87.6 L225.2 88.9 L225.2 89 L225.3 90.3 L225.3 91.5 L225.3 91.6 L224.8 92.9 L224.6 93.5 L224.1 94.2 L222.9 95.5 L222.9 95.5 L221.5 96.8 L220.9 97.5 L220.4 98.1 L219.1 99.4 L219.1 99.5 L219 100.8 L218.9 102.1 L218.8 103.4 L217.8 103.4 L217.7 102.1 L217.6 100.8 L217.5 99.5 L217.5 99.4 L216.2 98.1 L215.7 97.5 L215.1 96.8 L213.7 95.5 L213.7 95.5 L212.5 94.2 L212 93.5 L211.8 92.9 L211.3 91.6 L211.3 91.5 L211.3 90.3 L211.4 89 L211.4 88.9 L211.7 87.6 L212 86.3 L212.3 85 L212.4 84.5 L212.6 83.7 L213 82.4 L213.5 81.1 L213.9 79.8 L213.9 79.6 L214.2 78.4 L214.7 77.1 L215.2 75.8 L215.5 74.5 L215.5 74.5 L215.8 73.2 L216.2 71.9 L216.6 70.6 L216.7 69.8 L216.8 69.2 L217 67.9 L217.2 66.6 L217.3 66 L217.4 65.3 L217.5 64 L217.7 62.7 L217.7 62 L217.7 61.4 L217.8 60 L218 58.7 L218.1 57.4 L218.2 56.1 Z" fill="#bebebe" stroke="#2b2b2b" stroke-width="0.7" stroke-linejoin="round"/>
<line x1="218.3" y1="56.1" x2="218.3" y2="65.3" stroke="#3a3a3a" stroke-width="0.8"/>
<line x1="218.3" y1="98.1" x2="218.3" y2="103.4" stroke="#333" stroke-width="1.3"/>
<rect x="216" y="81.6" width="4.6" height="10.7" fill="none" stroke="#3a3a3a" stroke-width="0.6"/>
<line x1="216" y1="87.6" x2="220.6" y2="87.6" stroke="#3a3a3a" stroke-width="0.6"/>
<path d="M233.4 56.1 L233.4 57.4 L233.5 58.7 L233.7 60 L233.8 61.4 L233.8 62 L233.8 62.7 L234 64 L234.1 65.3 L234.2 66 L234.3 66.6 L234.5 67.9 L234.7 69.2 L234.8 69.8 L234.9 70.6 L235.3 71.9 L235.7 73.2 L236 74.5 L236 74.5 L236.3 75.8 L236.8 77.1 L237.3 78.4 L237.6 79.6 L237.6 79.8 L238 81.1 L238.5 82.4 L238.9 83.7 L239.1 84.5 L239.2 85 L239.5 86.3 L239.8 87.6 L240.1 88.9 L240.1 89 L240.2 90.3 L240.2 91.5 L240.2 91.6 L239.7 92.9 L239.5 93.5 L239 94.2 L237.8 95.5 L237.8 95.5 L236.4 96.8 L235.8 97.5 L235.3 98.1 L234 99.4 L234 99.5 L233.9 100.8 L233.8 102.1 L233.7 103.4 L232.7 103.4 L232.6 102.1 L232.5 100.8 L232.4 99.5 L232.4 99.4 L231.1 98.1 L230.6 97.5 L230 96.8 L228.6 95.5 L228.6 95.5 L227.4 94.2 L226.9 93.5 L226.7 92.9 L226.2 91.6 L226.2 91.5 L226.2 90.3 L226.3 89 L226.3 88.9 L226.6 87.6 L226.9 86.3 L227.2 85 L227.3 84.5 L227.5 83.7 L227.9 82.4 L228.4 81.1 L228.8 79.8 L228.8 79.6 L229.1 78.4 L229.6 77.1 L230.1 75.8 L230.4 74.5 L230.4 74.5 L230.7 73.2 L231.1 71.9 L231.5 70.6 L231.6 69.8 L231.7 69.2 L231.9 67.9 L232.1 66.6 L232.2 66 L232.3 65.3 L232.4 64 L232.6 62.7 L232.6 62 L232.6 61.4 L232.7 60 L232.9 58.7 L233 57.4 L233.1 56.1 Z" fill="#bebebe" stroke="#2b2b2b" stroke-width="0.7" stroke-linejoin="round"/>
<line x1="233.2" y1="56.1" x2="233.2" y2="65.3" stroke="#3a3a3a" stroke-width="0.8"/>
<line x1="233.2" y1="98.1" x2="233.2" y2="103.4" stroke="#333" stroke-width="1.3"/>
<rect x="230.9" y="81.6" width="4.6" height="10.7" fill="none" stroke="#3a3a3a" stroke-width="0.6"/>
<line x1="230.9" y1="87.8" x2="235.5" y2="87.8" stroke="#3a3a3a" stroke-width="0.6"/>
<path d="M307.8 53.8 L307.9 55.2 L307.9 56.5 L307.9 57.9 L307.9 59.3 L307.9 60.6 L307.9 62 L307.9 63.4 L307.9 64.8 L307.9 66.1 L307.9 67.5 L307.9 68.9 L307.9 70.2 L307.9 71.6 L307.9 73 L307.9 74.3 L307.9 75.7 L307.9 77.1 L307.9 78.4 L307.9 79.8 L307.9 81.2 L307.9 82.6 L307.9 83.9 L307.9 85.3 L307.9 86.7 L307.9 88 L307.9 89.4 L307.9 90 L308 90.8 L308.2 92.1 L308.5 93.5 L308.6 94.5 L308.8 94.9 L310.1 96.3 L311.1 97.5 L311.2 97.6 L312.6 99 L313.5 100 L313.6 100.4 L314.2 101.7 L314.5 102.7 L307.7 103.1 L307.7 103.1 L300.9 102.7 L301.2 101.7 L301.8 100.4 L301.9 100 L302.8 99 L304.2 97.6 L304.3 97.5 L305.3 96.3 L306.6 94.9 L306.8 94.5 L306.9 93.5 L307.2 92.1 L307.4 90.8 L307.5 90 L307.5 89.4 L307.5 88 L307.5 86.7 L307.5 85.3 L307.5 83.9 L307.5 82.6 L307.5 81.2 L307.5 79.8 L307.5 78.4 L307.5 77.1 L307.5 75.7 L307.5 74.3 L307.5 73 L307.5 71.6 L307.5 70.2 L307.5 68.9 L307.5 67.5 L307.5 66.1 L307.5 64.8 L307.5 63.4 L307.5 62 L307.5 60.6 L307.5 59.3 L307.5 57.9 L307.5 56.5 L307.5 55.2 L307.6 53.8 Z" fill="#e5e33f" stroke="#2b2b2b" stroke-width="0.7" stroke-linejoin="round"/>
<line x1="307.7" y1="53.8" x2="307.7" y2="94.9" stroke="#3a3a3a" stroke-width="0.8"/>
<rect x="305.7" y="99.2" width="4" height="3.2" fill="none" stroke="#3a3a3a" stroke-width="0.6"/>
<line x1="305.7" y1="100.9" x2="309.7" y2="100.9" stroke="#3a3a3a" stroke-width="0.6"/>
<path d="M322.8 53.8 L322.8 55.2 L322.8 56.5 L322.8 57.9 L322.8 59.3 L322.8 60.6 L322.8 62 L322.8 63.4 L322.8 64.8 L322.8 66.1 L322.8 67.5 L322.8 68.9 L322.8 70.2 L322.8 71.6 L322.8 73 L322.8 74.3 L322.8 75.7 L322.8 77.1 L322.8 78.4 L322.8 79.8 L322.8 81.2 L322.8 82.6 L322.8 83.9 L322.8 85.3 L322.8 86.7 L322.8 88 L322.8 89.4 L322.8 90 L322.9 90.8 L323.1 92.1 L323.4 93.5 L323.5 94.5 L323.7 94.9 L325 96.3 L326 97.5 L326.1 97.6 L327.5 99 L328.4 100 L328.5 100.4 L329.1 101.7 L329.4 102.7 L322.6 103.1 L322.6 103.1 L315.8 102.7 L316.1 101.7 L316.7 100.4 L316.8 100 L317.7 99 L319.1 97.6 L319.2 97.5 L320.2 96.3 L321.5 94.9 L321.7 94.5 L321.8 93.5 L322.1 92.1 L322.3 90.8 L322.4 90 L322.4 89.4 L322.4 88 L322.4 86.7 L322.4 85.3 L322.4 83.9 L322.4 82.6 L322.4 81.2 L322.4 79.8 L322.4 78.4 L322.4 77.1 L322.4 75.7 L322.4 74.3 L322.4 73 L322.4 71.6 L322.4 70.2 L322.4 68.9 L322.4 67.5 L322.4 66.1 L322.4 64.8 L322.4 63.4 L322.4 62 L322.4 60.6 L322.4 59.3 L322.4 57.9 L322.4 56.5 L322.4 55.2 L322.5 53.8 Z" fill="#e5e33f" stroke="#2b2b2b" stroke-width="0.7" stroke-linejoin="round"/>
<line x1="322.6" y1="53.8" x2="322.6" y2="94.9" stroke="#3a3a3a" stroke-width="0.8"/>
<rect x="320.6" y="99.4" width="4" height="3" fill="none" stroke="#3a3a3a" stroke-width="0.6"/>
<line x1="320.6" y1="101" x2="324.6" y2="101" stroke="#3a3a3a" stroke-width="0.6"/>
<rect x="30.6" y="32.6" width="300.9" height="73.6" fill="none" stroke="#333" stroke-width="1.1"/>
<rect x="30.6" y="19.1" width="300.9" height="13.5" fill="#d9d9d9" stroke="#333" stroke-width="1.1"/>
<text x="182.4" y="29.2" font-size="8.9" font-weight="bold" text-anchor="middle" fill="#1a1a1a">24nt siRNA clusters (n=12,939)</text>
<line x1="28.2" y1="103.1" x2="30.6" y2="103.1" stroke="#333" stroke-width="0.8"/>
<text x="27.6" y="106" font-size="8.2" text-anchor="end" fill="#4d4d4d">0</text>
<line x1="28.2" y1="79.2" x2="30.6" y2="79.2" stroke="#333" stroke-width="0.8"/>
<text x="27.6" y="82.1" font-size="8.2" text-anchor="end" fill="#4d4d4d">5</text>
<line x1="28.2" y1="55.3" x2="30.6" y2="55.3" stroke="#333" stroke-width="0.8"/>
<text x="27.6" y="58.2" font-size="8.2" text-anchor="end" fill="#4d4d4d">10</text>
<text x="16.6" y="79" font-size="8.8" font-weight="bold" text-anchor="middle" transform="rotate(-90 16.6 79)">log<tspan font-size="6" dy="1.5">2</tspan><tspan dy="-1.5">(rpkm+1)</tspan></text>
<path d="M32.3 111 L32.3 116.2 L61.6 116.2 L61.6 111" fill="none" stroke="#333" stroke-width="0.9"/>
<text x="39.5" y="115" font-size="5.4" text-anchor="middle" fill="#4d4d4d">r1</text>
<text x="54.4" y="115" font-size="5.4" text-anchor="middle" fill="#4d4d4d">r2</text>
<path d="M62.1 111 L62.1 116.2 L91.4 116.2 L91.4 111" fill="none" stroke="#333" stroke-width="0.9"/>
<text x="69.3" y="115" font-size="5.4" text-anchor="middle" fill="#4d4d4d">r1</text>
<text x="84.2" y="115" font-size="5.4" text-anchor="middle" fill="#4d4d4d">r2</text>
<path d="M91.9 111 L91.9 116.2 L121.2 116.2 L121.2 111" fill="none" stroke="#333" stroke-width="0.9"/>
<text x="99.1" y="115" font-size="5.4" text-anchor="middle" fill="#4d4d4d">r1</text>
<text x="114" y="115" font-size="5.4" text-anchor="middle" fill="#4d4d4d">r2</text>
<path d="M121.7 111 L121.7 116.2 L151 116.2 L151 111" fill="none" stroke="#333" stroke-width="0.9"/>
<text x="128.9" y="115" font-size="5.4" text-anchor="middle" fill="#4d4d4d">r1</text>
<text x="143.8" y="115" font-size="5.4" text-anchor="middle" fill="#4d4d4d">r2</text>
<path d="M151.5 111 L151.5 116.2 L180.8 116.2 L180.8 111" fill="none" stroke="#333" stroke-width="0.9"/>
<text x="158.7" y="115" font-size="5.4" text-anchor="middle" fill="#4d4d4d">r1</text>
<text x="173.6" y="115" font-size="5.4" text-anchor="middle" fill="#4d4d4d">r2</text>
<path d="M181.3 111 L181.3 116.2 L210.6 116.2 L210.6 111" fill="none" stroke="#333" stroke-width="0.9"/>
<text x="188.5" y="115" font-size="5.4" text-anchor="middle" fill="#4d4d4d">r1</text>
<text x="203.4" y="115" font-size="5.4" text-anchor="middle" fill="#4d4d4d">r2</text>
<path d="M211.1 111 L211.1 116.2 L240.4 116.2 L240.4 111" fill="none" stroke="#333" stroke-width="0.9"/>
<text x="218.3" y="115" font-size="5.4" text-anchor="middle" fill="#4d4d4d">r1</text>
<text x="233.2" y="115" font-size="5.4" text-anchor="middle" fill="#4d4d4d">r2</text>
<path d="M240.9 111 L240.9 116.2 L270.2 116.2 L270.2 111" fill="none" stroke="#333" stroke-width="0.9"/>
<text x="248.1" y="115" font-size="5.4" text-anchor="middle" fill="#4d4d4d">r1</text>
<text x="263" y="115" font-size="5.4" text-anchor="middle" fill="#4d4d4d">r2</text>
<path d="M270.7 111 L270.7 116.2 L300 116.2 L300 111" fill="none" stroke="#333" stroke-width="0.9"/>
<text x="277.9" y="115" font-size="5.4" text-anchor="middle" fill="#4d4d4d">r1</text>
<text x="292.8" y="115" font-size="5.4" text-anchor="middle" fill="#4d4d4d">r2</text>
<path d="M300.5 111 L300.5 116.2 L329.8 116.2 L329.8 111" fill="none" stroke="#333" stroke-width="0.9"/>
<text x="307.7" y="115" font-size="5.4" text-anchor="middle" fill="#4d4d4d">r1</text>
<text x="322.6" y="115" font-size="5.4" text-anchor="middle" fill="#4d4d4d">r2</text>
<text x="52.5" y="121" font-size="7.9" text-anchor="end" fill="#1c1c1c" stroke="#1c1c1c" stroke-width="0.12" transform="rotate(-45 52.5 121)">Col-0<tspan font-size="6.0" dy="1.8" fill="#333" stroke="#333">WT</tspan></text>
<text x="80.4" y="121.8" font-size="7.9" text-anchor="end" fill="#1c1c1c" stroke="#1c1c1c" stroke-width="0.12" transform="rotate(-45 80.4 121.8)"><tspan font-style="italic">nrpd1−3</tspan><tspan font-size="6.0" dy="1.8" fill="#333" stroke="#333">null</tspan></text>
<text x="110.2" y="123" font-size="7.9" text-anchor="end" fill="#1c1c1c" stroke="#1c1c1c" stroke-width="0.12" transform="rotate(-45 110.2 123)"><tspan font-style="italic">clsy quad</tspan></text>
<text x="136.3" y="119.8" font-size="7.9" text-anchor="end" fill="#1c1c1c" stroke="#1c1c1c" stroke-width="0.12" transform="rotate(-45 136.3 119.8)">NRPD1−</text>
<text x="141.9" y="126.6" font-size="7.9" text-anchor="end" fill="#1c1c1c" stroke="#1c1c1c" stroke-width="0.12" transform="rotate(-45 141.9 126.6)">3xFWT</text>
<text x="163.8" y="121.2" font-size="7.9" text-anchor="end" fill="#1c1c1c" stroke="#1c1c1c" stroke-width="0.12" transform="rotate(-45 163.8 121.2)">NRPD1−</text>
<text x="179.2" y="118.2" font-size="7.9" text-anchor="end" fill="#1c1c1c" stroke="#1c1c1c" stroke-width="0.12" transform="rotate(-45 179.2 118.2)">3xF<tspan font-size="6.0" dy="1.2" fill="#333" stroke="#333"><tspan fill="#e8262c" stroke="#e8262c" font-size="6">AAA</tspan>-YPMF</tspan></text>
<text x="194.6" y="121.2" font-size="7.9" text-anchor="end" fill="#1c1c1c" stroke="#1c1c1c" stroke-width="0.12" transform="rotate(-45 194.6 121.2)">NRPD1−</text>
<text x="209.6" y="117.6" font-size="7.9" text-anchor="end" fill="#1c1c1c" stroke="#1c1c1c" stroke-width="0.12" transform="rotate(-45 209.6 117.6)">3xF<tspan font-size="6.0" dy="1.2" fill="#333" stroke="#333"> CYC-<tspan fill="#e8262c" stroke="#e8262c" font-size="6">AAAA</tspan></tspan></text>
<text x="230.9" y="120" font-size="7.9" text-anchor="end" fill="#1c1c1c" stroke="#1c1c1c" stroke-width="0.12" transform="rotate(-45 230.9 120)">SucSul<tspan font-size="6.0" dy="1.8" fill="#333" stroke="#333">WT</tspan></text>
<text x="260.5" y="120.6" font-size="7.9" text-anchor="end" fill="#1c1c1c" stroke="#1c1c1c" stroke-width="0.12" transform="rotate(-45 260.5 120.6)"><tspan font-style="italic">nrpd1−51</tspan><tspan font-size="6.0" dy="1.8" fill="#333" stroke="#333">null</tspan></text>
<text x="297" y="119.6" font-size="7.9" text-anchor="end" fill="#1c1c1c" stroke="#1c1c1c" stroke-width="0.12" transform="rotate(-45 297 119.6)"><tspan font-style="italic">nrpd1-49</tspan><tspan font-size="6.0" dy="1.8" fill="#333" stroke="#333">G72</tspan><tspan fill="#e8262c" stroke="#e8262c" font-size="6.6">E</tspan></text>
<text x="327.4" y="119.2" font-size="7.9" text-anchor="end" fill="#1c1c1c" stroke="#1c1c1c" stroke-width="0.12" transform="rotate(-45 327.4 119.2)"><tspan font-style="italic">nrpd1-50</tspan><tspan font-size="6.0" dy="1.2" fill="#333" stroke="#333"><tspan fill="#e8262c" stroke="#e8262c" font-size="6">Y</tspan>CYC-YPMF</tspan></text>
<rect x="345" y="32.5" width="184.5" height="73.7" fill="#fff" stroke="none" stroke-width="1"/>
<line x1="345" y1="102.3" x2="529.5" y2="102.3" stroke="#ebebeb" stroke-width="0.8"/>
<line x1="345" y1="93.9" x2="529.5" y2="93.9" stroke="#f2f2f2" stroke-width="0.5"/>
<line x1="345" y1="85.6" x2="529.5" y2="85.6" stroke="#ebebeb" stroke-width="0.8"/>
<line x1="345" y1="77.2" x2="529.5" y2="77.2" stroke="#f2f2f2" stroke-width="0.5"/>
<line x1="345" y1="68.9" x2="529.5" y2="68.9" stroke="#ebebeb" stroke-width="0.8"/>
<line x1="345" y1="60.5" x2="529.5" y2="60.5" stroke="#f2f2f2" stroke-width="0.5"/>
<line x1="345" y1="52.1" x2="529.5" y2="52.1" stroke="#ebebeb" stroke-width="0.8"/>
<line x1="345" y1="43.8" x2="529.5" y2="43.8" stroke="#f2f2f2" stroke-width="0.5"/>
<line x1="345" y1="35.4" x2="529.5" y2="35.4" stroke="#ebebeb" stroke-width="0.8"/>
<line x1="354.1" y1="32.5" x2="354.1" y2="106.2" stroke="#ebebeb" stroke-width="0.8"/>
<line x1="369.3" y1="32.5" x2="369.3" y2="106.2" stroke="#ebebeb" stroke-width="0.8"/>
<line x1="384.4" y1="32.5" x2="384.4" y2="106.2" stroke="#ebebeb" stroke-width="0.8"/>
<line x1="399.6" y1="32.5" x2="399.6" y2="106.2" stroke="#ebebeb" stroke-width="0.8"/>
<line x1="414.7" y1="32.5" x2="414.7" y2="106.2" stroke="#ebebeb" stroke-width="0.8"/>
<line x1="429.9" y1="32.5" x2="429.9" y2="106.2" stroke="#ebebeb" stroke-width="0.8"/>
<line x1="445.1" y1="32.5" x2="445.1" y2="106.2" stroke="#ebebeb" stroke-width="0.8"/>
<line x1="460.2" y1="32.5" x2="460.2" y2="106.2" stroke="#ebebeb" stroke-width="0.8"/>
<line x1="475.4" y1="32.5" x2="475.4" y2="106.2" stroke="#ebebeb" stroke-width="0.8"/>
<line x1="490.5" y1="32.5" x2="490.5" y2="106.2" stroke="#ebebeb" stroke-width="0.8"/>
<line x1="505.7" y1="32.5" x2="505.7" y2="106.2" stroke="#ebebeb" stroke-width="0.8"/>
<line x1="520.9" y1="32.5" x2="520.9" y2="106.2" stroke="#ebebeb" stroke-width="0.8"/>
<path d="M354.2 32.6 L354.3 34.5 L354.3 36.5 L354.3 38.4 L354.3 40.4 L354.3 42.3 L354.3 44.3 L354.3 46.2 L354.3 48.2 L354.3 50.1 L354.3 52.1 L354.3 54 L354.3 56 L354.3 57.9 L354.3 59.9 L354.3 61.8 L354.3 63.8 L354.3 65.7 L354.3 67.7 L354.3 69.6 L354.3 71.5 L354.3 73.5 L354.3 75.4 L354.3 77.4 L354.3 79.3 L354.3 81.3 L354.3 83.2 L354.3 85.2 L354.3 87.1 L354.3 89.1 L354.3 91 L354.3 93 L354.3 94.9 L354.3 96.9 L354.3 98.4 L354.3 98.8 L354.6 100.8 L354.6 101.3 L355.6 102 L360.9 102.4 L354.1 102.7 L354.1 102.7 L354.1 102.7 L354.1 102.7 L347.3 102.4 L352.6 102 L353.6 101.3 L353.6 100.8 L353.9 98.8 L353.9 98.4 L353.9 96.9 L353.9 94.9 L353.9 93 L353.9 91 L353.9 89.1 L353.9 87.1 L353.9 85.2 L353.9 83.2 L353.9 81.3 L353.9 79.3 L353.9 77.4 L353.9 75.4 L353.9 73.5 L353.9 71.5 L353.9 69.6 L353.9 67.7 L353.9 65.7 L353.9 63.8 L353.9 61.8 L353.9 59.9 L353.9 57.9 L353.9 56 L353.9 54 L353.9 52.1 L353.9 50.1 L353.9 48.2 L353.9 46.2 L353.9 44.3 L353.9 42.3 L353.9 40.4 L353.9 38.4 L353.9 36.5 L353.9 34.5 L354 32.6 Z" fill="#444" stroke="#2b2b2b" stroke-width="0.5" stroke-linejoin="round"/>
<line x1="354.1" y1="32.6" x2="354.1" y2="102" stroke="#3a3a3a" stroke-width="0.8"/>
<path d="M369.4 32.6 L369.4 34.5 L369.4 36.5 L369.4 38.4 L369.4 40.4 L369.4 42.3 L369.4 44.3 L369.4 46.2 L369.4 48.2 L369.4 50.1 L369.4 52.1 L369.4 54 L369.4 56 L369.4 57.9 L369.4 59.9 L369.4 61.8 L369.4 63.8 L369.4 65.7 L369.4 67.7 L369.4 69.6 L369.4 71.5 L369.4 73.5 L369.4 75.4 L369.4 77.4 L369.4 79.3 L369.4 81.3 L369.5 83.2 L369.5 85.2 L369.5 87.1 L369.5 89.1 L369.5 91 L369.5 93 L369.5 94.9 L369.5 96.9 L369.5 98.4 L369.5 98.8 L369.7 100.8 L369.8 101.3 L370.8 102 L376.1 102.4 L369.3 102.7 L369.3 102.7 L369.3 102.7 L369.3 102.7 L362.5 102.4 L367.8 102 L368.8 101.3 L368.8 100.8 L369 98.8 L369.1 98.4 L369.1 96.9 L369.1 94.9 L369.1 93 L369.1 91 L369.1 89.1 L369.1 87.1 L369.1 85.2 L369.1 83.2 L369.1 81.3 L369.1 79.3 L369.1 77.4 L369.1 75.4 L369.1 73.5 L369.1 71.5 L369.1 69.6 L369.1 67.7 L369.1 65.7 L369.1 63.8 L369.1 61.8 L369.1 59.9 L369.1 57.9 L369.1 56 L369.1 54 L369.1 52.1 L369.1 50.1 L369.1 48.2 L369.1 46.2 L369.1 44.3 L369.1 42.3 L369.1 40.4 L369.1 38.4 L369.1 36.5 L369.1 34.5 L369.1 32.6 Z" fill="#444" stroke="#2b2b2b" stroke-width="0.5" stroke-linejoin="round"/>
<line x1="369.3" y1="32.6" x2="369.3" y2="102" stroke="#3a3a3a" stroke-width="0.8"/>
<path d="M445.2 32.6 L445.2 34.5 L445.2 36.5 L445.2 38.4 L445.2 40.4 L445.2 42.3 L445.2 44.3 L445.2 46.2 L445.2 48.2 L445.2 50.1 L445.2 52.1 L445.2 54 L445.2 56 L445.2 57.9 L445.2 59.9 L445.2 61.8 L445.2 63.8 L445.2 65.7 L445.2 67.7 L445.2 69.6 L445.2 71.5 L445.2 73.5 L445.2 75.4 L445.2 77.4 L445.2 79.3 L445.2 81.3 L445.3 83.2 L445.3 85.2 L445.3 87.1 L445.3 89.1 L445.3 91 L445.3 93 L445.3 94.9 L445.3 96.9 L445.3 98.4 L445.3 98.8 L445.5 100.8 L445.6 101.3 L446.6 102 L451.9 102.4 L445.1 102.7 L445.1 102.7 L445.1 102.7 L445.1 102.7 L438.3 102.4 L443.6 102 L444.6 101.3 L444.6 100.8 L444.8 98.8 L444.9 98.4 L444.9 96.9 L444.9 94.9 L444.9 93 L444.9 91 L444.9 89.1 L444.9 87.1 L444.9 85.2 L444.9 83.2 L444.9 81.3 L444.9 79.3 L444.9 77.4 L444.9 75.4 L444.9 73.5 L444.9 71.5 L444.9 69.6 L444.9 67.7 L444.9 65.7 L444.9 63.8 L444.9 61.8 L444.9 59.9 L444.9 57.9 L444.9 56 L444.9 54 L444.9 52.1 L444.9 50.1 L444.9 48.2 L444.9 46.2 L444.9 44.3 L444.9 42.3 L444.9 40.4 L444.9 38.4 L444.9 36.5 L444.9 34.5 L444.9 32.6 Z" fill="#444" stroke="#2b2b2b" stroke-width="0.5" stroke-linejoin="round"/>
<line x1="445.1" y1="32.6" x2="445.1" y2="102" stroke="#3a3a3a" stroke-width="0.8"/>
<path d="M460.4 32.6 L460.4 34.5 L460.4 36.5 L460.4 38.4 L460.4 40.4 L460.4 42.3 L460.4 44.3 L460.4 46.2 L460.4 48.2 L460.4 50.1 L460.4 52.1 L460.4 54 L460.4 56 L460.4 57.9 L460.4 59.9 L460.4 61.8 L460.4 63.8 L460.4 65.7 L460.4 67.7 L460.4 69.6 L460.4 71.5 L460.4 73.5 L460.4 75.4 L460.4 77.4 L460.4 79.3 L460.4 81.3 L460.4 83.2 L460.4 85.2 L460.4 87.1 L460.4 89.1 L460.4 91 L460.4 93 L460.4 94.9 L460.4 96.9 L460.4 98.4 L460.4 98.8 L460.7 100.8 L460.7 101.3 L461.7 102 L467 102.4 L460.2 102.7 L460.2 102.7 L460.2 102.7 L460.2 102.7 L453.4 102.4 L458.7 102 L459.7 101.3 L459.8 100.8 L460 98.8 L460 98.4 L460 96.9 L460 94.9 L460 93 L460 91 L460 89.1 L460 87.1 L460 85.2 L460 83.2 L460 81.3 L460 79.3 L460 77.4 L460 75.4 L460 73.5 L460 71.5 L460 69.6 L460 67.7 L460 65.7 L460 63.8 L460 61.8 L460.1 59.9 L460.1 57.9 L460.1 56 L460.1 54 L460.1 52.1 L460.1 50.1 L460.1 48.2 L460.1 46.2 L460.1 44.3 L460.1 42.3 L460.1 40.4 L460.1 38.4 L460.1 36.5 L460.1 34.5 L460.1 32.6 Z" fill="#444" stroke="#2b2b2b" stroke-width="0.5" stroke-linejoin="round"/>
<line x1="460.2" y1="32.6" x2="460.2" y2="102" stroke="#3a3a3a" stroke-width="0.8"/>
<path d="M475.5 32.6 L475.5 34.5 L475.5 36.5 L475.5 38.4 L475.5 40.4 L475.5 42.3 L475.5 44.3 L475.5 46.2 L475.5 48.2 L475.5 50.1 L475.5 52.1 L475.5 54 L475.5 56 L475.5 57.9 L475.5 59.9 L475.6 61.8 L475.6 63.8 L475.6 65.7 L475.6 67.7 L475.6 69.6 L475.6 71.5 L475.6 73.5 L475.6 75.4 L475.6 77.4 L475.6 79.3 L475.6 81.3 L475.6 83.2 L475.6 85.2 L475.6 87.1 L475.6 89.1 L475.6 91 L475.6 93 L475.6 94.9 L475.6 96.9 L475.6 98.4 L475.6 98.8 L475.8 100.8 L475.9 101.3 L476.9 102 L482.2 102.4 L475.4 102.7 L475.4 102.7 L475.4 102.7 L475.4 102.7 L468.6 102.4 L473.9 102 L474.9 101.3 L474.9 100.8 L475.2 98.8 L475.2 98.4 L475.2 96.9 L475.2 94.9 L475.2 93 L475.2 91 L475.2 89.1 L475.2 87.1 L475.2 85.2 L475.2 83.2 L475.2 81.3 L475.2 79.3 L475.2 77.4 L475.2 75.4 L475.2 73.5 L475.2 71.5 L475.2 69.6 L475.2 67.7 L475.2 65.7 L475.2 63.8 L475.2 61.8 L475.2 59.9 L475.2 57.9 L475.2 56 L475.2 54 L475.2 52.1 L475.2 50.1 L475.2 48.2 L475.2 46.2 L475.2 44.3 L475.2 42.3 L475.2 40.4 L475.2 38.4 L475.2 36.5 L475.2 34.5 L475.2 32.6 Z" fill="#444" stroke="#2b2b2b" stroke-width="0.5" stroke-linejoin="round"/>
<line x1="475.4" y1="32.6" x2="475.4" y2="102" stroke="#3a3a3a" stroke-width="0.8"/>
<path d="M490.7 32.6 L490.7 34.5 L490.7 36.5 L490.7 38.4 L490.7 40.4 L490.7 42.3 L490.7 44.3 L490.7 46.2 L490.7 48.2 L490.7 50.1 L490.7 52.1 L490.7 54 L490.7 56 L490.7 57.9 L490.7 59.9 L490.7 61.8 L490.7 63.8 L490.7 65.7 L490.7 67.7 L490.7 69.6 L490.7 71.5 L490.7 73.5 L490.7 75.4 L490.7 77.4 L490.7 79.3 L490.7 81.3 L490.7 83.2 L490.7 85.2 L490.7 87.1 L490.7 89.1 L490.7 91 L490.7 93 L490.7 94.9 L490.7 96.9 L490.7 98.4 L490.8 98.8 L491 100.8 L491 101.3 L492 102 L497.3 102.4 L490.5 102.7 L490.5 102.7 L490.5 102.7 L490.5 102.7 L483.7 102.4 L489 102 L490 101.3 L490.1 100.8 L490.3 98.8 L490.3 98.4 L490.3 96.9 L490.3 94.9 L490.3 93 L490.3 91 L490.3 89.1 L490.3 87.1 L490.3 85.2 L490.3 83.2 L490.4 81.3 L490.4 79.3 L490.4 77.4 L490.4 75.4 L490.4 73.5 L490.4 71.5 L490.4 69.6 L490.4 67.7 L490.4 65.7 L490.4 63.8 L490.4 61.8 L490.4 59.9 L490.4 57.9 L490.4 56 L490.4 54 L490.4 52.1 L490.4 50.1 L490.4 48.2 L490.4 46.2 L490.4 44.3 L490.4 42.3 L490.4 40.4 L490.4 38.4 L490.4 36.5 L490.4 34.5 L490.4 32.6 Z" fill="#444" stroke="#2b2b2b" stroke-width="0.5" stroke-linejoin="round"/>
<line x1="490.5" y1="32.6" x2="490.5" y2="102" stroke="#3a3a3a" stroke-width="0.8"/>
<rect x="351.7" y="100.6" width="4.8" height="1.6" fill="#86c9c9" stroke="none" stroke-width="1"/>
<rect x="366.9" y="100.6" width="4.8" height="1.6" fill="#86c9c9" stroke="none" stroke-width="1"/>
<rect x="442.7" y="100.6" width="4.8" height="1.6" fill="#86c9c9" stroke="none" stroke-width="1"/>
<rect x="457.8" y="100.6" width="4.8" height="1.6" fill="#86c9c9" stroke="none" stroke-width="1"/>
<rect x="473.2" y="99.2" width="4.4" height="3" fill="#6c70b8" stroke="#333" stroke-width="0.4"/>
<rect x="488.3" y="99.2" width="4.4" height="3" fill="#6c70b8" stroke="#333" stroke-width="0.4"/>
<path d="M384.6 32.6 L384.6 34.6 L384.6 36.5 L384.6 38.5 L384.6 40.4 L384.6 42.4 L384.6 44.3 L384.6 46.3 L384.6 48.2 L384.6 50.2 L384.6 52.2 L384.6 54.1 L384.6 56.1 L384.6 58 L384.6 60 L384.6 61.9 L384.6 63.9 L384.6 65.8 L384.6 67.8 L384.6 69.8 L384.6 71.7 L384.6 73.7 L384.6 75.6 L384.6 77.6 L384.6 79.5 L384.6 81.5 L384.6 83.4 L384.6 85.4 L384.6 86 L384.8 87.4 L385 89.3 L385 89.5 L385.8 91.3 L386 92 L386.6 93.2 L387.4 95 L387.5 95.2 L388.9 97.1 L389 97.5 L390.3 99.1 L390.5 99.4 L390.1 101 L390 101.3 L391 102.4 L384.4 103 L384.4 103 L377.8 102.4 L378.8 101.3 L378.8 101 L378.3 99.4 L378.5 99.1 L379.8 97.5 L380 97.1 L381.4 95.2 L381.4 95 L382.3 93.2 L382.8 92 L383.1 91.3 L383.8 89.5 L383.8 89.3 L384.1 87.4 L384.2 86 L384.2 85.4 L384.2 83.4 L384.2 81.5 L384.2 79.5 L384.2 77.6 L384.2 75.6 L384.2 73.7 L384.2 71.7 L384.2 69.8 L384.2 67.8 L384.2 65.8 L384.2 63.9 L384.2 61.9 L384.2 60 L384.2 58 L384.2 56.1 L384.3 54.1 L384.3 52.2 L384.3 50.2 L384.3 48.2 L384.3 46.3 L384.3 44.3 L384.3 42.4 L384.3 40.4 L384.3 38.5 L384.3 36.5 L384.3 34.6 L384.3 32.6 Z" fill="#fbb552" stroke="#2b2b2b" stroke-width="0.6" stroke-linejoin="round"/>
<line x1="384.4" y1="32.6" x2="384.4" y2="91.3" stroke="#3a3a3a" stroke-width="0.8"/>
<rect x="382.1" y="97.5" width="4.6" height="3.7" fill="none" stroke="#3a3a3a" stroke-width="0.6"/>
<line x1="382.1" y1="99.4" x2="386.7" y2="99.4" stroke="#3a3a3a" stroke-width="0.6"/>
<path d="M399.7 32.6 L399.7 34.6 L399.7 36.5 L399.7 38.5 L399.7 40.4 L399.7 42.4 L399.7 44.3 L399.7 46.3 L399.7 48.2 L399.7 50.2 L399.7 52.2 L399.7 54.1 L399.8 56.1 L399.8 58 L399.8 60 L399.8 61.9 L399.8 63.9 L399.8 65.8 L399.8 67.8 L399.8 69.8 L399.8 71.7 L399.8 73.7 L399.8 75.6 L399.8 77.6 L399.8 79.5 L399.8 81.5 L399.8 83.4 L399.8 84 L399.9 85.4 L400.2 87.4 L400.3 88 L400.7 89.3 L401.4 91 L401.5 91.3 L402.5 93.2 L402.8 94 L403.4 95.2 L404.6 97 L404.6 97.1 L405.9 99 L405.9 99.1 L405.4 101 L405.4 101.3 L406.2 102.4 L399.6 103 L399.6 103 L393 102.4 L393.8 101.3 L393.7 101 L393.3 99.1 L393.3 99 L394.5 97.1 L394.6 97 L395.7 95.2 L396.4 94 L396.7 93.2 L397.7 91.3 L397.8 91 L398.4 89.3 L398.9 88 L398.9 87.4 L399.2 85.4 L399.4 84 L399.4 83.4 L399.4 81.5 L399.4 79.5 L399.4 77.6 L399.4 75.6 L399.4 73.7 L399.4 71.7 L399.4 69.8 L399.4 67.8 L399.4 65.8 L399.4 63.9 L399.4 61.9 L399.4 60 L399.4 58 L399.4 56.1 L399.4 54.1 L399.4 52.2 L399.4 50.2 L399.4 48.2 L399.4 46.3 L399.4 44.3 L399.4 42.4 L399.4 40.4 L399.4 38.5 L399.4 36.5 L399.4 34.6 L399.4 32.6 Z" fill="#fbb552" stroke="#2b2b2b" stroke-width="0.6" stroke-linejoin="round"/>
<line x1="399.6" y1="32.6" x2="399.6" y2="89.3" stroke="#3a3a3a" stroke-width="0.8"/>
<rect x="397.3" y="96.5" width="4.6" height="4.5" fill="none" stroke="#3a3a3a" stroke-width="0.6"/>
<line x1="397.3" y1="98.6" x2="401.9" y2="98.6" stroke="#3a3a3a" stroke-width="0.6"/>
<path d="M414.9 32.6 L414.9 34.6 L414.9 36.5 L414.9 38.5 L414.9 40.4 L414.9 42.4 L414.9 44.3 L414.9 46.3 L414.9 48.2 L414.9 50.2 L414.9 52.2 L414.9 54.1 L414.9 56.1 L414.9 58 L414.9 60 L414.9 61.9 L414.9 63.9 L414.9 65.8 L415 67.8 L415 69.8 L415 71.7 L415 73.7 L415 75.6 L415 77.6 L415 79.5 L415 81.5 L415 83.4 L415 85.4 L415 87.4 L415 89.3 L415 91.3 L415 93 L415 93.2 L415.2 95.2 L415.4 97 L415.5 97.1 L416.3 99.1 L416.3 99.3 L417.5 100.7 L417.7 101 L418.1 101.8 L420.7 102.4 L414.7 103 L414.7 103 L408.7 102.4 L411.3 101.8 L411.8 101 L411.9 100.7 L413.1 99.3 L413.2 99.1 L414 97.1 L414 97 L414.2 95.2 L414.5 93.2 L414.5 93 L414.5 91.3 L414.5 89.3 L414.5 87.4 L414.5 85.4 L414.5 83.4 L414.5 81.5 L414.5 79.5 L414.5 77.6 L414.5 75.6 L414.5 73.7 L414.5 71.7 L414.5 69.8 L414.5 67.8 L414.5 65.8 L414.5 63.9 L414.5 61.9 L414.5 60 L414.5 58 L414.6 56.1 L414.6 54.1 L414.6 52.2 L414.6 50.2 L414.6 48.2 L414.6 46.3 L414.6 44.3 L414.6 42.4 L414.6 40.4 L414.6 38.5 L414.6 36.5 L414.6 34.6 L414.6 32.6 Z" fill="#ef6a2a" stroke="#2b2b2b" stroke-width="0.6" stroke-linejoin="round"/>
<line x1="414.7" y1="32.6" x2="414.7" y2="99.1" stroke="#3a3a3a" stroke-width="0.8"/>
<path d="M430.1 32.6 L430.1 34.6 L430.1 36.5 L430.1 38.5 L430.1 40.4 L430.1 42.4 L430.1 44.3 L430.1 46.3 L430.1 48.2 L430.1 50.2 L430.1 52.2 L430.1 54.1 L430.1 56.1 L430.1 58 L430.1 60 L430.1 61.9 L430.1 63.9 L430.1 65.8 L430.1 67.8 L430.1 69.8 L430.1 71.7 L430.1 73.7 L430.1 75.6 L430.1 77.6 L430.1 79.5 L430.1 81.5 L430.1 83.4 L430.1 85.4 L430.1 87.4 L430.1 89.3 L430.1 91.3 L430.2 93 L430.2 93.2 L430.4 95.2 L430.6 97 L430.6 97.1 L431.4 99.1 L431.5 99.3 L432.7 100.7 L432.9 101 L433.3 101.8 L435.9 102.4 L429.9 103 L429.9 103 L423.9 102.4 L426.5 101.8 L426.9 101 L427.1 100.7 L428.3 99.3 L428.4 99.1 L429.2 97.1 L429.2 97 L429.4 95.2 L429.6 93.2 L429.7 93 L429.7 91.3 L429.7 89.3 L429.7 87.4 L429.7 85.4 L429.7 83.4 L429.7 81.5 L429.7 79.5 L429.7 77.6 L429.7 75.6 L429.7 73.7 L429.7 71.7 L429.7 69.8 L429.7 67.8 L429.7 65.8 L429.7 63.9 L429.7 61.9 L429.7 60 L429.7 58 L429.7 56.1 L429.7 54.1 L429.7 52.2 L429.7 50.2 L429.7 48.2 L429.7 46.3 L429.7 44.3 L429.7 42.4 L429.7 40.4 L429.7 38.5 L429.7 36.5 L429.7 34.6 L429.8 32.6 Z" fill="#ef6a2a" stroke="#2b2b2b" stroke-width="0.6" stroke-linejoin="round"/>
<line x1="429.9" y1="32.6" x2="429.9" y2="99.1" stroke="#3a3a3a" stroke-width="0.8"/>
<path d="M505.9 32.6 L505.9 34.6 L505.9 36.5 L505.9 38.5 L505.9 40.4 L505.9 42.4 L505.9 44.3 L505.9 46.3 L505.9 48.2 L505.9 50.2 L505.9 52.2 L505.9 54.1 L505.9 56.1 L505.9 58 L505.9 60 L505.9 61.9 L505.9 63.9 L505.9 65.8 L505.9 67.8 L505.9 69.8 L505.9 71.7 L505.9 73.7 L505.9 75.6 L505.9 77.6 L506 78 L506 79.5 L506.2 81.5 L506.4 83.4 L506.4 84 L506.7 85.4 L507.1 87.4 L507.2 88 L507.8 89.3 L508.8 91.3 L508.9 91.5 L509.8 93.2 L510.5 94.5 L510.6 95.2 L511.2 97.1 L511.3 97.5 L511.1 99.1 L511.1 99.5 L511.9 101 L511.9 101.2 L512.5 102.5 L505.7 103 L505.7 103 L498.9 102.5 L499.5 101.2 L499.5 101 L500.3 99.5 L500.3 99.1 L500.1 97.5 L500.2 97.1 L500.8 95.2 L500.9 94.5 L501.6 93.2 L502.5 91.5 L502.6 91.3 L503.6 89.3 L504.2 88 L504.3 87.4 L504.7 85.4 L505 84 L505 83.4 L505.2 81.5 L505.4 79.5 L505.5 78 L505.5 77.6 L505.5 75.6 L505.5 73.7 L505.5 71.7 L505.5 69.8 L505.5 67.8 L505.5 65.8 L505.5 63.9 L505.5 61.9 L505.5 60 L505.5 58 L505.5 56.1 L505.5 54.1 L505.5 52.2 L505.5 50.2 L505.5 48.2 L505.5 46.3 L505.5 44.3 L505.5 42.4 L505.5 40.4 L505.5 38.5 L505.5 36.5 L505.5 34.6 L505.6 32.6 Z" fill="#e5e33f" stroke="#2b2b2b" stroke-width="0.6" stroke-linejoin="round"/>
<line x1="505.7" y1="32.6" x2="505.7" y2="85.4" stroke="#3a3a3a" stroke-width="0.8"/>
<rect x="503.4" y="95.4" width="4.6" height="5.2" fill="none" stroke="#3a3a3a" stroke-width="0.6"/>
<line x1="503.4" y1="97.3" x2="508" y2="97.3" stroke="#3a3a3a" stroke-width="0.6"/>
<path d="M521 32.6 L521 34.6 L521 36.5 L521 38.5 L521 40.4 L521 42.4 L521 44.3 L521 46.3 L521 48.2 L521 50.2 L521 52.2 L521.1 54.1 L521.1 56.1 L521.1 58 L521.1 60 L521.1 61.9 L521.1 63.9 L521.1 65.8 L521.1 67.8 L521.1 69.8 L521.1 71.7 L521.1 73.7 L521.1 75.6 L521.1 77.6 L521.1 79.5 L521.1 81.5 L521.1 82 L521.2 83.4 L521.5 85.4 L521.7 87 L521.7 87.4 L522.4 89.3 L522.7 90.5 L523 91.3 L524.2 93.2 L524.3 93.5 L524.9 95.2 L525.5 96.5 L525.5 97.1 L525.9 99 L525.9 99.1 L526.4 101 L526.5 101.2 L527.3 102.5 L520.9 103 L520.9 103 L514.5 102.5 L515.3 101.2 L515.3 101 L515.8 99.1 L515.9 99 L516.2 97.1 L516.3 96.5 L516.8 95.2 L517.5 93.5 L517.6 93.2 L518.7 91.3 L519.1 90.5 L519.4 89.3 L520 87.4 L520.1 87 L520.2 85.4 L520.5 83.4 L520.6 82 L520.6 81.5 L520.6 79.5 L520.6 77.6 L520.6 75.6 L520.6 73.7 L520.6 71.7 L520.6 69.8 L520.6 67.8 L520.6 65.8 L520.6 63.9 L520.6 61.9 L520.7 60 L520.7 58 L520.7 56.1 L520.7 54.1 L520.7 52.2 L520.7 50.2 L520.7 48.2 L520.7 46.3 L520.7 44.3 L520.7 42.4 L520.7 40.4 L520.7 38.5 L520.7 36.5 L520.7 34.6 L520.7 32.6 Z" fill="#e5e33f" stroke="#2b2b2b" stroke-width="0.6" stroke-linejoin="round"/>
<line x1="520.9" y1="32.6" x2="520.9" y2="89.3" stroke="#3a3a3a" stroke-width="0.8"/>
<rect x="518.6" y="96.2" width="4.6" height="4.6" fill="none" stroke="#3a3a3a" stroke-width="0.6"/>
<line x1="518.6" y1="98.2" x2="523.2" y2="98.2" stroke="#3a3a3a" stroke-width="0.6"/>
<rect x="345" y="32.5" width="184.5" height="73.7" fill="none" stroke="#333" stroke-width="1.1"/>
<rect x="345" y="18.5" width="184.5" height="14" fill="#d9d9d9" stroke="#333" stroke-width="1.1"/>
<text x="439.2" y="28.8" font-size="8.9" font-weight="bold" text-anchor="middle" fill="#1a1a1a">24nt siRNA clusters (n=12,939)</text>
<line x1="342.6" y1="102.3" x2="345" y2="102.3" stroke="#333" stroke-width="0.8"/>
<text x="342" y="105.2" font-size="8.2" text-anchor="end" fill="#4d4d4d">0</text>
<line x1="342.6" y1="85.6" x2="345" y2="85.6" stroke="#333" stroke-width="0.8"/>
<text x="342" y="88.5" font-size="8.2" text-anchor="end" fill="#4d4d4d">1</text>
<line x1="342.6" y1="68.9" x2="345" y2="68.9" stroke="#333" stroke-width="0.8"/>
<text x="342" y="71.8" font-size="8.2" text-anchor="end" fill="#4d4d4d">2</text>
<line x1="342.6" y1="52.1" x2="345" y2="52.1" stroke="#333" stroke-width="0.8"/>
<text x="342" y="55" font-size="8.2" text-anchor="end" fill="#4d4d4d">3</text>
<line x1="342.6" y1="35.4" x2="345" y2="35.4" stroke="#333" stroke-width="0.8"/>
<text x="342" y="38.3" font-size="8.2" text-anchor="end" fill="#4d4d4d">4</text>
<path d="M346.9 111 L346.9 116.2 L376.5 116.2 L376.5 111" fill="none" stroke="#333" stroke-width="0.9"/>
<text x="354.1" y="115" font-size="5.4" text-anchor="middle" fill="#4d4d4d">r1</text>
<text x="369.3" y="115" font-size="5.4" text-anchor="middle" fill="#4d4d4d">r2</text>
<path d="M377.2 111 L377.2 116.2 L406.8 116.2 L406.8 111" fill="none" stroke="#333" stroke-width="0.9"/>
<text x="384.4" y="115" font-size="5.4" text-anchor="middle" fill="#4d4d4d">r1</text>
<text x="399.6" y="115" font-size="5.4" text-anchor="middle" fill="#4d4d4d">r2</text>
<path d="M407.5 111 L407.5 116.2 L437.1 116.2 L437.1 111" fill="none" stroke="#333" stroke-width="0.9"/>
<text x="414.7" y="115" font-size="5.4" text-anchor="middle" fill="#4d4d4d">r1</text>
<text x="429.9" y="115" font-size="5.4" text-anchor="middle" fill="#4d4d4d">r2</text>
<path d="M437.9 111 L437.9 116.2 L467.4 116.2 L467.4 111" fill="none" stroke="#333" stroke-width="0.9"/>
<text x="445.1" y="115" font-size="5.4" text-anchor="middle" fill="#4d4d4d">r1</text>
<text x="460.2" y="115" font-size="5.4" text-anchor="middle" fill="#4d4d4d">r2</text>
<path d="M468.2 111 L468.2 116.2 L497.7 116.2 L497.7 111" fill="none" stroke="#333" stroke-width="0.9"/>
<text x="475.4" y="115" font-size="5.4" text-anchor="middle" fill="#4d4d4d">r1</text>
<text x="490.5" y="115" font-size="5.4" text-anchor="middle" fill="#4d4d4d">r2</text>
<path d="M498.5 111 L498.5 116.2 L528.1 116.2 L528.1 111" fill="none" stroke="#333" stroke-width="0.9"/>
<text x="505.7" y="115" font-size="5.4" text-anchor="middle" fill="#4d4d4d">r1</text>
<text x="520.9" y="115" font-size="5.4" text-anchor="middle" fill="#4d4d4d">r2</text>
<text x="365.8" y="121" font-size="7.9" text-anchor="end" fill="#1c1c1c" stroke="#1c1c1c" stroke-width="0.12" transform="rotate(-45 365.8 121)"><tspan font-style="italic">nrpd1−3</tspan><tspan font-size="6.0" dy="1.8" fill="#333" stroke="#333">null</tspan></text>
<text x="388.8" y="120.6" font-size="7.9" text-anchor="end" fill="#1c1c1c" stroke="#1c1c1c" stroke-width="0.12" transform="rotate(-45 388.8 120.6)">NRPD1−</text>
<text x="405.4" y="118.9" font-size="7.9" text-anchor="end" fill="#1c1c1c" stroke="#1c1c1c" stroke-width="0.12" transform="rotate(-45 405.4 118.9)">3xF<tspan font-size="6.0" dy="1.2" fill="#333" stroke="#333"><tspan fill="#e8262c" stroke="#e8262c" font-size="6">AAA</tspan>-YPMF</tspan></text>
<text x="419.4" y="120.6" font-size="7.9" text-anchor="end" fill="#1c1c1c" stroke="#1c1c1c" stroke-width="0.12" transform="rotate(-45 419.4 120.6)">NRPD1−</text>
<text x="435.8" y="118.8" font-size="7.9" text-anchor="end" fill="#1c1c1c" stroke="#1c1c1c" stroke-width="0.12" transform="rotate(-45 435.8 118.8)">3xF<tspan font-size="6.0" dy="1.2" fill="#333" stroke="#333"> CYC-<tspan fill="#e8262c" stroke="#e8262c" font-size="6">AAAA</tspan></tspan></text>
<text x="458.8" y="119.9" font-size="7.9" text-anchor="end" fill="#1c1c1c" stroke="#1c1c1c" stroke-width="0.12" transform="rotate(-45 458.8 119.9)"><tspan font-style="italic">nrpd1−51</tspan><tspan font-size="6.0" dy="1.8" fill="#333" stroke="#333">null</tspan></text>
<text x="488.8" y="119.8" font-size="7.9" text-anchor="end" fill="#1c1c1c" stroke="#1c1c1c" stroke-width="0.12" transform="rotate(-45 488.8 119.8)"><tspan font-style="italic">nrpd1-49</tspan><tspan font-size="6.0" dy="1.8" fill="#333" stroke="#333">G72</tspan><tspan fill="#e8262c" stroke="#e8262c" font-size="6.6">E</tspan></text>
<text x="521.4" y="118.6" font-size="7.9" text-anchor="end" fill="#1c1c1c" stroke="#1c1c1c" stroke-width="0.12" transform="rotate(-45 521.4 118.6)"><tspan font-style="italic">nrpd1-50</tspan><tspan font-size="6.0" dy="1.2" fill="#333" stroke="#333"><tspan fill="#e8262c" stroke="#e8262c" font-size="6">Y</tspan>CYC-YPMF</tspan></text>
<text x="0" y="186" font-size="15" font-weight="bold" text-anchor="start" fill="#000">b</text>
<rect x="19.4" y="193.1" width="147.3" height="73.7" fill="#fff" stroke="none" stroke-width="1"/>
<line x1="26.1" y1="193.1" x2="26.1" y2="266.8" stroke="#ebebeb" stroke-width="0.8"/>
<line x1="42.8" y1="193.1" x2="42.8" y2="266.8" stroke="#ebebeb" stroke-width="0.5"/>
<line x1="59.5" y1="193.1" x2="59.5" y2="266.8" stroke="#ebebeb" stroke-width="0.8"/>
<line x1="76.2" y1="193.1" x2="76.2" y2="266.8" stroke="#ebebeb" stroke-width="0.5"/>
<line x1="92.9" y1="193.1" x2="92.9" y2="266.8" stroke="#ebebeb" stroke-width="0.8"/>
<line x1="109.6" y1="193.1" x2="109.6" y2="266.8" stroke="#ebebeb" stroke-width="0.5"/>
<line x1="126.3" y1="193.1" x2="126.3" y2="266.8" stroke="#ebebeb" stroke-width="0.8"/>
<line x1="143" y1="193.1" x2="143" y2="266.8" stroke="#ebebeb" stroke-width="0.5"/>
<line x1="159.7" y1="193.1" x2="159.7" y2="266.8" stroke="#ebebeb" stroke-width="0.8"/>
<line x1="19.4" y1="204.5" x2="166.7" y2="204.5" stroke="#ebebeb" stroke-width="0.8"/>
<line x1="19.4" y1="212.9" x2="166.7" y2="212.9" stroke="#ebebeb" stroke-width="0.8"/>
<line x1="19.4" y1="221.4" x2="166.7" y2="221.4" stroke="#ebebeb" stroke-width="0.8"/>
<line x1="19.4" y1="229.8" x2="166.7" y2="229.8" stroke="#ebebeb" stroke-width="0.8"/>
<line x1="19.4" y1="238.3" x2="166.7" y2="238.3" stroke="#ebebeb" stroke-width="0.8"/>
<line x1="19.4" y1="246.8" x2="166.7" y2="246.8" stroke="#ebebeb" stroke-width="0.8"/>
<line x1="19.4" y1="255.2" x2="166.7" y2="255.2" stroke="#ebebeb" stroke-width="0.8"/>
<path d="M26.2 204.5 L26.2 204.5 L29.1 204.5 L32.1 204.5 L35 204.4 L37.9 204.4 L40.8 204.4 L43.8 204.4 L46.7 204.3 L49.6 204.3 L52.5 204.1 L55.5 203.9 L58.4 203.6 L61.3 202.9 L64.3 202 L67.2 200.7 L70.1 199.2 L73 197.7 L76 196.7 L78.9 196.3 L81.8 196.8 L84.7 198.2 L87.7 199.9 L90.6 201.5 L93.5 202.7 L96.5 203.5 L99.4 203.9 L102.3 204.1 L105.2 204.3 L108.2 204.3 L111.1 204.4 L114 204.4 L116.9 204.4 L119.9 204.5 L122.8 204.5 L125.7 204.5 L128.7 204.5 L131.6 204.5 L134.5 204.5 L137.4 204.5 L140.4 204.5 L143.3 204.5 L146.2 204.5 L149.1 204.5 L152.1 204.5 L155 204.5 L155 204.5 Z" fill="#f39068" stroke="#ec6331" stroke-width="0.9" stroke-linejoin="round"/>
<line x1="71.5" y1="204.5" x2="71.5" y2="198.5" stroke="#ec6331" stroke-width="0.8"/>
<line x1="78.1" y1="204.5" x2="78.1" y2="196.4" stroke="#ec6331" stroke-width="0.8"/>
<line x1="84.4" y1="204.5" x2="84.4" y2="198" stroke="#ec6331" stroke-width="0.8"/>
<line x1="26.2" y1="204.5" x2="155" y2="204.5" stroke="#ec6331" stroke-width="0.9"/>
<path d="M38.5 212.9 L38.5 212.9 L41 212.9 L43.4 212.8 L45.9 212.8 L48.3 212.8 L50.8 212.8 L53.3 212.7 L55.7 212.6 L58.2 212.5 L60.6 212.4 L63.1 212.2 L65.5 211.8 L68 211.3 L70.5 210.7 L72.9 209.9 L75.4 208.9 L77.8 207.7 L80.3 206.5 L82.8 205.4 L85.2 204.5 L87.7 203.9 L90.1 203.8 L92.6 204.3 L95.1 205.5 L97.5 207.2 L100 208.9 L102.4 210.3 L104.9 211.3 L107.4 212 L109.8 212.4 L112.3 212.6 L114.7 212.7 L117.2 212.8 L119.6 212.8 L122.1 212.8 L124.6 212.9 L127 212.9 L129.5 212.9 L131.9 212.9 L134.4 212.9 L136.9 212.9 L139.3 212.9 L141.8 212.9 L144.2 212.9 L146.7 212.9 L146.7 212.9 Z" fill="#fbc584" stroke="#f99d32" stroke-width="0.9" stroke-linejoin="round"/>
<line x1="80.3" y1="212.9" x2="80.3" y2="206.6" stroke="#f99d32" stroke-width="0.8"/>
<line x1="87.6" y1="212.9" x2="87.6" y2="204" stroke="#f99d32" stroke-width="0.8"/>
<line x1="94.2" y1="212.9" x2="94.2" y2="205.1" stroke="#f99d32" stroke-width="0.8"/>
<line x1="38.5" y1="212.9" x2="146.7" y2="212.9" stroke="#f99d32" stroke-width="0.9"/>
<path d="M44.6 221.4 L44.6 221.3 L47.1 221.3 L49.7 221.2 L52.2 221.2 L54.8 221.2 L57.3 221.1 L59.9 221 L62.4 220.9 L65 220.7 L67.5 220.5 L70.1 220.1 L72.6 219.5 L75.1 218.7 L77.7 217.6 L80.2 216.3 L82.8 214.8 L85.3 213.3 L87.9 211.8 L90.4 210.7 L93 210 L95.5 209.8 L98.1 210.9 L100.6 213.2 L103.1 215.8 L105.7 218 L108.2 219.5 L110.8 220.4 L113.3 220.8 L115.9 221 L118.4 221.2 L121 221.2 L123.5 221.3 L126.1 221.3 L128.6 221.3 L131.1 221.4 L133.7 221.4 L136.2 221.4 L138.8 221.4 L141.3 221.4 L143.9 221.4 L146.4 221.4 L149 221.4 L151.5 221.4 L154.1 221.4 L156.6 221.4 L156.6 221.4 Z" fill="#ebee8e" stroke="#d6da3a" stroke-width="0.9" stroke-linejoin="round"/>
<line x1="84.7" y1="221.4" x2="84.7" y2="213.7" stroke="#d6da3a" stroke-width="0.8"/>
<line x1="91.9" y1="221.4" x2="91.9" y2="210.3" stroke="#d6da3a" stroke-width="0.8"/>
<line x1="98.1" y1="221.4" x2="98.1" y2="210.9" stroke="#d6da3a" stroke-width="0.8"/>
<line x1="44.6" y1="221.4" x2="156.6" y2="221.4" stroke="#d6da3a" stroke-width="0.9"/>
<path d="M43.2 229.8 L43.2 229.7 L45.7 229.7 L48.3 229.6 L50.8 229.6 L53.3 229.5 L55.8 229.3 L58.4 228.9 L60.9 228.4 L63.4 227.5 L66 226.3 L68.5 224.8 L71 223.1 L73.6 221.5 L76.1 220.3 L78.6 219.8 L81.1 220.2 L83.7 221.3 L86.2 222.8 L88.7 224.5 L91.3 226.1 L93.8 227.4 L96.3 228.3 L98.8 228.9 L101.4 229.2 L103.9 229.4 L106.4 229.6 L109 229.6 L111.5 229.7 L114 229.7 L116.6 229.8 L119.1 229.8 L121.6 229.8 L124.1 229.8 L126.7 229.8 L129.2 229.8 L131.7 229.8 L134.3 229.8 L136.8 229.8 L139.3 229.8 L141.9 229.8 L144.4 229.8 L146.9 229.8 L149.4 229.8 L152 229.8 L154.5 229.8 L154.5 229.8 Z" fill="#8b8fc6" stroke="#6a70b6" stroke-width="0.9" stroke-linejoin="round"/>
<line x1="72.5" y1="229.8" x2="72.5" y2="222.2" stroke="#6a70b6" stroke-width="0.8"/>
<line x1="78.9" y1="229.8" x2="78.9" y2="219.9" stroke="#6a70b6" stroke-width="0.8"/>
<line x1="85.2" y1="229.8" x2="85.2" y2="222.2" stroke="#6a70b6" stroke-width="0.8"/>
<line x1="43.2" y1="229.8" x2="154.5" y2="229.8" stroke="#6a70b6" stroke-width="0.9"/>
<path d="M40.3 238.3 L40.3 238.2 L42.9 238.2 L45.4 238.1 L48 238.1 L50.5 238 L53.1 237.8 L55.6 237.5 L58.2 236.9 L60.7 236 L63.3 234.5 L65.8 232.7 L68.4 230.6 L70.9 228.8 L73.5 227.8 L76 227.8 L78.6 228.7 L81.1 230.3 L83.7 232.1 L86.2 233.8 L88.8 235.3 L91.3 236.4 L93.9 237.1 L96.4 237.5 L99 237.8 L101.6 238 L104.1 238 L106.7 238.1 L109.2 238.2 L111.8 238.2 L114.3 238.2 L116.9 238.2 L119.4 238.3 L122 238.3 L124.5 238.3 L127.1 238.3 L129.6 238.3 L132.2 238.3 L134.7 238.3 L137.3 238.3 L139.8 238.3 L142.4 238.3 L144.9 238.3 L147.5 238.3 L150 238.3 L152.6 238.3 L152.6 238.3 Z" fill="#ee6ca8" stroke="#e7408c" stroke-width="0.9" stroke-linejoin="round"/>
<line x1="69.4" y1="238.3" x2="69.4" y2="229.9" stroke="#e7408c" stroke-width="0.8"/>
<line x1="75.3" y1="238.3" x2="75.3" y2="227.8" stroke="#e7408c" stroke-width="0.8"/>
<line x1="81.4" y1="238.3" x2="81.4" y2="230.5" stroke="#e7408c" stroke-width="0.8"/>
<line x1="40.3" y1="238.3" x2="152.6" y2="238.3" stroke="#e7408c" stroke-width="0.9"/>
<path d="M35.3 246.8 L35.3 246.6 L38.1 246.6 L40.8 246.6 L43.6 246.5 L46.4 246.4 L49.2 246.2 L51.9 245.9 L54.7 245.4 L57.5 244.7 L60.3 243.5 L63 242.1 L65.8 240.4 L68.6 238.9 L71.3 237.9 L74.1 237.6 L76.9 238 L79.7 239.2 L82.4 240.7 L85.2 242.3 L88 243.7 L90.8 244.8 L93.5 245.5 L96.3 246 L99.1 246.3 L101.8 246.4 L104.6 246.5 L107.4 246.6 L110.2 246.6 L112.9 246.7 L115.7 246.7 L118.5 246.7 L121.3 246.7 L124 246.7 L126.8 246.7 L129.6 246.7 L132.3 246.7 L135.1 246.7 L137.9 246.7 L140.7 246.7 L143.4 246.7 L146.2 246.7 L149 246.7 L151.8 246.7 L154.5 246.7 L157.3 246.7 L157.3 246.8 Z" fill="#c3e5d1" stroke="#78c196" stroke-width="0.9" stroke-linejoin="round"/>
<line x1="67.2" y1="246.8" x2="67.2" y2="239.7" stroke="#78c196" stroke-width="0.8"/>
<line x1="73.9" y1="246.8" x2="73.9" y2="237.6" stroke="#78c196" stroke-width="0.8"/>
<line x1="80.7" y1="246.8" x2="80.7" y2="239.7" stroke="#78c196" stroke-width="0.8"/>
<line x1="35.3" y1="246.8" x2="157.3" y2="246.8" stroke="#78c196" stroke-width="0.9"/>
<path d="M29 255.2 L29 255.1 L31.9 255.1 L34.7 255 L37.6 255 L40.5 254.9 L43.3 254.8 L46.2 254.6 L49 254.3 L51.9 253.8 L54.8 253 L57.6 252.1 L60.5 250.9 L63.4 249.7 L66.2 248.6 L69.1 247.8 L72 247.4 L74.8 247.6 L77.7 248.3 L80.5 249.4 L83.4 250.7 L86.3 251.9 L89.1 253 L92 253.7 L94.9 254.3 L97.7 254.6 L100.6 254.8 L103.5 254.9 L106.3 255 L109.2 255 L112 255.1 L114.9 255.1 L117.8 255.1 L120.6 255.1 L123.5 255.2 L126.4 255.2 L129.2 255.2 L132.1 255.2 L135 255.2 L137.8 255.2 L140.7 255.2 L143.5 255.2 L146.4 255.2 L149.3 255.2 L152.1 255.2 L155 255.2 L155 255.2 Z" fill="#c3e5d1" stroke="#78c196" stroke-width="0.9" stroke-linejoin="round"/>
<line x1="64.5" y1="255.2" x2="64.5" y2="249.3" stroke="#78c196" stroke-width="0.8"/>
<line x1="72.2" y1="255.2" x2="72.2" y2="247.4" stroke="#78c196" stroke-width="0.8"/>
<line x1="79.8" y1="255.2" x2="79.8" y2="249.1" stroke="#78c196" stroke-width="0.8"/>
<line x1="29" y1="255.2" x2="155" y2="255.2" stroke="#78c196" stroke-width="0.9"/>
<text x="125.2" y="201.8" font-size="8.1" fill="#262626" stroke-width="0.12" textLength="21.6" lengthAdjust="spacingAndGlyphs"><tspan font-weight="bold" stroke="#1e1e1e">D1−3xF</tspan></text>
<text x="147.1" y="203.4" font-size="4.6" fill="#555" stroke-width="0.08" textLength="19" lengthAdjust="spacingAndGlyphs"><tspan font-size="4.6" fill="#555" stroke="#555">CYC-<tspan fill="#e8262c" stroke="#e8262c">AAAA</tspan></tspan></text>
<text x="125.2" y="210.6" font-size="8.1" fill="#262626" stroke-width="0.12" textLength="21.6" lengthAdjust="spacingAndGlyphs"><tspan font-weight="bold" stroke="#1e1e1e">D1−3xF</tspan></text>
<text x="147.1" y="212.2" font-size="4.6" fill="#555" stroke-width="0.08" textLength="18" lengthAdjust="spacingAndGlyphs"><tspan font-size="4.6" fill="#555" stroke="#555"><tspan fill="#e8262c" stroke="#e8262c">AAA</tspan>-YPMF</tspan></text>
<text x="125.2" y="219.4" font-size="8.1" fill="#262626" stroke-width="0.12" textLength="19.3" lengthAdjust="spacingAndGlyphs"><tspan font-style="italic">d1-50</tspan></text>
<text x="144.8" y="221" font-size="4.6" fill="#555" stroke-width="0.08" textLength="17.8" lengthAdjust="spacingAndGlyphs"><tspan font-size="4.6" fill="#555" stroke="#555"><tspan fill="#e8262c" stroke="#e8262c">Y</tspan>CYC-YPMF</tspan></text>
<text x="125.2" y="228.2" font-size="8.1" fill="#262626" stroke-width="0.12" textLength="19" lengthAdjust="spacingAndGlyphs"><tspan font-style="italic">d1-49</tspan></text>
<text x="144.5" y="229.8" font-size="4.6" fill="#555" stroke-width="0.08" textLength="9.2" lengthAdjust="spacingAndGlyphs"><tspan font-size="4.6" fill="#555" stroke="#555">G72<tspan fill="#e8262c" stroke="#e8262c">E</tspan></tspan></text>
<text x="125.2" y="237" font-size="8.1" fill="#262626" stroke-width="0.12" textLength="31.8" lengthAdjust="spacingAndGlyphs"><tspan font-style="italic">clsy quad</tspan></text>
<text x="125.2" y="245.8" font-size="8.1" fill="#262626" stroke-width="0.12" textLength="20" lengthAdjust="spacingAndGlyphs"><tspan font-style="italic">d1−51</tspan></text>
<text x="145.5" y="247.4" font-size="4.6" fill="#555" stroke-width="0.08" textLength="8.3" lengthAdjust="spacingAndGlyphs"><tspan font-size="4.6" fill="#555" stroke="#555">null</tspan></text>
<text x="125.2" y="254.6" font-size="8.1" fill="#262626" stroke-width="0.12" textLength="16.6" lengthAdjust="spacingAndGlyphs"><tspan font-style="italic">d1−3</tspan></text>
<text x="142.1" y="256.2" font-size="4.6" fill="#555" stroke-width="0.08" textLength="7.2" lengthAdjust="spacingAndGlyphs"><tspan font-size="4.6" fill="#555" stroke="#555">null</tspan></text>
<text x="21.6" y="264.2" font-size="8.8" font-weight="bold" fill="#1a1a1a">all n=12,939</text>
<rect x="19.4" y="193.1" width="147.3" height="73.7" fill="none" stroke="#333" stroke-width="1.1"/>
<rect x="19.4" y="284.5" width="147.3" height="73.2" fill="#fff" stroke="none" stroke-width="1"/>
<line x1="26.1" y1="284.5" x2="26.1" y2="357.7" stroke="#ebebeb" stroke-width="0.8"/>
<line x1="42.8" y1="284.5" x2="42.8" y2="357.7" stroke="#ebebeb" stroke-width="0.5"/>
<line x1="59.5" y1="284.5" x2="59.5" y2="357.7" stroke="#ebebeb" stroke-width="0.8"/>
<line x1="76.2" y1="284.5" x2="76.2" y2="357.7" stroke="#ebebeb" stroke-width="0.5"/>
<line x1="92.9" y1="284.5" x2="92.9" y2="357.7" stroke="#ebebeb" stroke-width="0.8"/>
<line x1="109.6" y1="284.5" x2="109.6" y2="357.7" stroke="#ebebeb" stroke-width="0.5"/>
<line x1="126.3" y1="284.5" x2="126.3" y2="357.7" stroke="#ebebeb" stroke-width="0.8"/>
<line x1="143" y1="284.5" x2="143" y2="357.7" stroke="#ebebeb" stroke-width="0.5"/>
<line x1="159.7" y1="284.5" x2="159.7" y2="357.7" stroke="#ebebeb" stroke-width="0.8"/>
<line x1="19.4" y1="295.9" x2="166.7" y2="295.9" stroke="#ebebeb" stroke-width="0.8"/>
<line x1="19.4" y1="304.3" x2="166.7" y2="304.3" stroke="#ebebeb" stroke-width="0.8"/>
<line x1="19.4" y1="312.8" x2="166.7" y2="312.8" stroke="#ebebeb" stroke-width="0.8"/>
<line x1="19.4" y1="321.2" x2="166.7" y2="321.2" stroke="#ebebeb" stroke-width="0.8"/>
<line x1="19.4" y1="329.7" x2="166.7" y2="329.7" stroke="#ebebeb" stroke-width="0.8"/>
<line x1="19.4" y1="338.1" x2="166.7" y2="338.1" stroke="#ebebeb" stroke-width="0.8"/>
<line x1="19.4" y1="346.6" x2="166.7" y2="346.6" stroke="#ebebeb" stroke-width="0.8"/>
<path d="M39.2 295.9 L39.2 295.8 L41.3 295.8 L43.5 295.7 L45.6 295.7 L47.7 295.6 L49.8 295.5 L52 295.4 L54.1 295.2 L56.2 294.9 L58.3 294.5 L60.5 293.8 L62.6 293 L64.7 292 L66.9 290.9 L69 289.7 L71.1 288.6 L73.2 287.7 L75.4 287.2 L77.5 287.2 L79.6 287.8 L81.7 288.8 L83.9 290.2 L86 291.6 L88.1 292.9 L90.3 293.9 L92.4 294.6 L94.5 295.1 L96.6 295.4 L98.8 295.5 L100.9 295.6 L103 295.7 L105.1 295.7 L107.3 295.8 L109.4 295.8 L111.5 295.8 L113.7 295.8 L115.8 295.9 L117.9 295.9 L120 295.9 L122.2 295.9 L124.3 295.9 L126.4 295.9 L128.5 295.9 L130.7 295.9 L132.8 295.9 L132.8 295.9 Z" fill="#f39068" stroke="#ec6331" stroke-width="0.9" stroke-linejoin="round"/>
<line x1="69.4" y1="295.9" x2="69.4" y2="289.5" stroke="#ec6331" stroke-width="0.8"/>
<line x1="75.7" y1="295.9" x2="75.7" y2="287.2" stroke="#ec6331" stroke-width="0.8"/>
<line x1="81.7" y1="295.9" x2="81.7" y2="288.8" stroke="#ec6331" stroke-width="0.8"/>
<line x1="39.2" y1="295.9" x2="132.8" y2="295.9" stroke="#ec6331" stroke-width="0.9"/>
<path d="M40.3 304.3 L40.3 304.2 L42.3 304.2 L44.3 304.2 L46.3 304.2 L48.4 304.1 L50.4 304.1 L52.4 304 L54.4 303.9 L56.4 303.8 L58.4 303.7 L60.4 303.5 L62.5 303.2 L64.5 302.8 L66.5 302.3 L68.5 301.6 L70.5 300.8 L72.5 299.9 L74.5 298.9 L76.5 297.8 L78.6 296.7 L80.6 295.8 L82.6 295 L84.6 294.4 L86.6 294.1 L88.6 294.3 L90.6 295.2 L92.7 296.6 L94.7 298.2 L96.7 299.9 L98.7 301.3 L100.7 302.3 L102.7 303.1 L104.7 303.5 L106.8 303.8 L108.8 304 L110.8 304.1 L112.8 304.1 L114.8 304.2 L116.8 304.2 L118.8 304.3 L120.8 304.3 L122.9 304.3 L124.9 304.3 L126.9 304.3 L128.9 304.3 L128.9 304.3 Z" fill="#fbc584" stroke="#f99d32" stroke-width="0.9" stroke-linejoin="round"/>
<line x1="77.3" y1="304.3" x2="77.3" y2="297.4" stroke="#f99d32" stroke-width="0.8"/>
<line x1="84.6" y1="304.3" x2="84.6" y2="294.4" stroke="#f99d32" stroke-width="0.8"/>
<line x1="90.9" y1="304.3" x2="90.9" y2="295.4" stroke="#f99d32" stroke-width="0.8"/>
<line x1="40.3" y1="304.3" x2="128.9" y2="304.3" stroke="#f99d32" stroke-width="0.9"/>
<path d="M44.6 312.8 L44.6 312.7 L47.1 312.6 L49.7 312.6 L52.2 312.5 L54.8 312.5 L57.3 312.4 L59.8 312.3 L62.4 312.1 L64.9 311.8 L67.5 311.4 L70 310.9 L72.6 310.2 L75.1 309.2 L77.6 308.1 L80.2 306.8 L82.7 305.4 L85.3 304 L87.8 302.8 L90.3 301.9 L92.9 301.4 L95.4 301.5 L98 303.1 L100.5 305.7 L103 308.3 L105.6 310.3 L108.1 311.5 L110.7 312.1 L113.2 312.4 L115.7 312.6 L118.3 312.6 L120.8 312.7 L123.4 312.7 L125.9 312.8 L128.5 312.8 L131 312.8 L133.5 312.8 L136.1 312.8 L138.6 312.8 L141.2 312.8 L143.7 312.8 L146.2 312.8 L148.8 312.8 L151.3 312.8 L153.9 312.8 L156.4 312.8 L156.4 312.8 Z" fill="#ebee8e" stroke="#d6da3a" stroke-width="0.9" stroke-linejoin="round"/>
<line x1="82.7" y1="312.8" x2="82.7" y2="305.4" stroke="#d6da3a" stroke-width="0.8"/>
<line x1="90.3" y1="312.8" x2="90.3" y2="301.9" stroke="#d6da3a" stroke-width="0.8"/>
<line x1="96.6" y1="312.8" x2="96.6" y2="302.2" stroke="#d6da3a" stroke-width="0.8"/>
<line x1="44.6" y1="312.8" x2="156.4" y2="312.8" stroke="#d6da3a" stroke-width="0.9"/>
<path d="M43.2 321.2 L43.2 321.1 L45.5 321.1 L47.7 321 L50 320.9 L52.2 320.8 L54.5 320.6 L56.8 320.2 L59 319.7 L61.3 318.8 L63.5 317.6 L65.8 316.1 L68 314.3 L70.3 312.6 L72.6 311.2 L74.8 310.4 L77.1 310.4 L79.3 311.1 L81.6 312.5 L83.9 314.2 L86.1 316 L88.4 317.5 L90.6 318.8 L92.9 319.6 L95.2 320.2 L97.4 320.6 L99.7 320.8 L101.9 320.9 L104.2 321 L106.5 321.1 L108.7 321.1 L111 321.1 L113.2 321.2 L115.5 321.2 L117.8 321.2 L120 321.2 L122.3 321.2 L124.5 321.2 L126.8 321.2 L129 321.2 L131.3 321.2 L133.6 321.2 L135.8 321.2 L138.1 321.2 L140.3 321.2 L142.6 321.2 L142.6 321.2 Z" fill="#8b8fc6" stroke="#6a70b6" stroke-width="0.9" stroke-linejoin="round"/>
<line x1="70.1" y1="321.2" x2="70.1" y2="312.7" stroke="#6a70b6" stroke-width="0.8"/>
<line x1="76.1" y1="321.2" x2="76.1" y2="310.4" stroke="#6a70b6" stroke-width="0.8"/>
<line x1="82" y1="321.2" x2="82" y2="312.8" stroke="#6a70b6" stroke-width="0.8"/>
<line x1="43.2" y1="321.2" x2="142.6" y2="321.2" stroke="#6a70b6" stroke-width="0.9"/>
<path d="M42.3 329.7 L42.3 329.6 L44.3 329.6 L46.4 329.5 L48.4 329.5 L50.5 329.4 L52.5 329.3 L54.5 329.1 L56.6 328.8 L58.6 328.2 L60.7 327.4 L62.7 326.1 L64.8 324.5 L66.8 322.7 L68.8 320.9 L70.9 319.4 L72.9 318.5 L75 318.5 L77 319.2 L79 320.4 L81.1 321.9 L83.1 323.6 L85.2 325.1 L87.2 326.4 L89.2 327.5 L91.3 328.2 L93.3 328.7 L95.4 329 L97.4 329.2 L99.4 329.3 L101.5 329.4 L103.5 329.5 L105.6 329.5 L107.6 329.6 L109.7 329.6 L111.7 329.6 L113.7 329.6 L115.8 329.7 L117.8 329.7 L119.9 329.7 L121.9 329.7 L123.9 329.7 L126 329.7 L128 329.7 L130.1 329.7 L132.1 329.7 L132.1 329.7 Z" fill="#ee6ca8" stroke="#e7408c" stroke-width="0.9" stroke-linejoin="round"/>
<line x1="69.1" y1="329.7" x2="69.1" y2="320.6" stroke="#e7408c" stroke-width="0.8"/>
<line x1="74.6" y1="329.7" x2="74.6" y2="318.5" stroke="#e7408c" stroke-width="0.8"/>
<line x1="80.4" y1="329.7" x2="80.4" y2="321.4" stroke="#e7408c" stroke-width="0.8"/>
<line x1="42.3" y1="329.7" x2="132.1" y2="329.7" stroke="#e7408c" stroke-width="0.9"/>
<path d="M38.5 338.1 L38.5 338 L41 338 L43.5 337.9 L46 337.8 L48.5 337.7 L51 337.5 L53.5 337.1 L56 336.5 L58.4 335.5 L60.9 334.2 L63.4 332.6 L65.9 330.9 L68.4 329.4 L70.9 328.3 L73.4 327.9 L75.9 328.4 L78.4 329.4 L80.9 330.9 L83.4 332.5 L85.9 334 L88.4 335.3 L90.9 336.3 L93.3 336.9 L95.8 337.4 L98.3 337.6 L100.8 337.8 L103.3 337.9 L105.8 337.9 L108.3 338 L110.8 338 L113.3 338.1 L115.8 338.1 L118.3 338.1 L120.8 338.1 L123.3 338.1 L125.8 338.1 L128.3 338.1 L130.7 338.1 L133.2 338.1 L135.7 338.1 L138.2 338.1 L140.7 338.1 L143.2 338.1 L145.7 338.1 L148.2 338.1 L148.2 338.1 Z" fill="#c3e5d1" stroke="#78c196" stroke-width="0.9" stroke-linejoin="round"/>
<line x1="67.1" y1="338.1" x2="67.1" y2="330.2" stroke="#78c196" stroke-width="0.8"/>
<line x1="73.6" y1="338.1" x2="73.6" y2="328" stroke="#78c196" stroke-width="0.8"/>
<line x1="80.2" y1="338.1" x2="80.2" y2="330.5" stroke="#78c196" stroke-width="0.8"/>
<line x1="38.5" y1="338.1" x2="148.2" y2="338.1" stroke="#78c196" stroke-width="0.9"/>
<path d="M36.4 346.6 L36.4 346.4 L38.4 346.4 L40.5 346.3 L42.5 346.3 L44.5 346.2 L46.6 346 L48.6 345.8 L50.7 345.4 L52.7 345 L54.7 344.3 L56.8 343.5 L58.8 342.6 L60.8 341.5 L62.9 340.3 L64.9 339.2 L66.9 338.2 L69 337.5 L71 337.2 L73.1 337.3 L75.1 337.7 L77.1 338.5 L79.2 339.5 L81.2 340.7 L83.2 341.8 L85.3 342.9 L87.3 343.8 L89.3 344.6 L91.4 345.1 L93.4 345.6 L95.5 345.9 L97.5 346.1 L99.5 346.2 L101.6 346.3 L103.6 346.4 L105.6 346.4 L107.7 346.4 L109.7 346.5 L111.7 346.5 L113.8 346.5 L115.8 346.5 L117.9 346.5 L119.9 346.6 L121.9 346.6 L124 346.6 L126 346.6 L126 346.6 Z" fill="#c3e5d1" stroke="#78c196" stroke-width="0.9" stroke-linejoin="round"/>
<line x1="64.8" y1="346.6" x2="64.8" y2="339.2" stroke="#78c196" stroke-width="0.8"/>
<line x1="71.8" y1="346.6" x2="71.8" y2="337.2" stroke="#78c196" stroke-width="0.8"/>
<line x1="78.8" y1="346.6" x2="78.8" y2="339.4" stroke="#78c196" stroke-width="0.8"/>
<line x1="36.4" y1="346.6" x2="126" y2="346.6" stroke="#78c196" stroke-width="0.9"/>
<text x="125.2" y="293.2" font-size="8.1" fill="#262626" stroke-width="0.12" textLength="21.6" lengthAdjust="spacingAndGlyphs"><tspan font-weight="bold" stroke="#1e1e1e">D1−3xF</tspan></text>
<text x="147.1" y="294.8" font-size="4.6" fill="#555" stroke-width="0.08" textLength="19" lengthAdjust="spacingAndGlyphs"><tspan font-size="4.6" fill="#555" stroke="#555">CYC-<tspan fill="#e8262c" stroke="#e8262c">AAAA</tspan></tspan></text>
<text x="125.2" y="302" font-size="8.1" fill="#262626" stroke-width="0.12" textLength="21.6" lengthAdjust="spacingAndGlyphs"><tspan font-weight="bold" stroke="#1e1e1e">D1−3xF</tspan></text>
<text x="147.1" y="303.6" font-size="4.6" fill="#555" stroke-width="0.08" textLength="18" lengthAdjust="spacingAndGlyphs"><tspan font-size="4.6" fill="#555" stroke="#555"><tspan fill="#e8262c" stroke="#e8262c">AAA</tspan>-YPMF</tspan></text>
<text x="125.2" y="310.8" font-size="8.1" fill="#262626" stroke-width="0.12" textLength="19.3" lengthAdjust="spacingAndGlyphs"><tspan font-style="italic">d1-50</tspan></text>
<text x="144.8" y="312.4" font-size="4.6" fill="#555" stroke-width="0.08" textLength="17.8" lengthAdjust="spacingAndGlyphs"><tspan font-size="4.6" fill="#555" stroke="#555"><tspan fill="#e8262c" stroke="#e8262c">Y</tspan>CYC-YPMF</tspan></text>
<text x="125.2" y="319.6" font-size="8.1" fill="#262626" stroke-width="0.12" textLength="19" lengthAdjust="spacingAndGlyphs"><tspan font-style="italic">d1-49</tspan></text>
<text x="144.5" y="321.2" font-size="4.6" fill="#555" stroke-width="0.08" textLength="9.2" lengthAdjust="spacingAndGlyphs"><tspan font-size="4.6" fill="#555" stroke="#555">G72<tspan fill="#e8262c" stroke="#e8262c">E</tspan></tspan></text>
<text x="125.2" y="328.4" font-size="8.1" fill="#262626" stroke-width="0.12" textLength="31.8" lengthAdjust="spacingAndGlyphs"><tspan font-style="italic">clsy quad</tspan></text>
<text x="125.2" y="337.2" font-size="8.1" fill="#262626" stroke-width="0.12" textLength="20" lengthAdjust="spacingAndGlyphs"><tspan font-style="italic">d1−51</tspan></text>
<text x="145.5" y="338.8" font-size="4.6" fill="#555" stroke-width="0.08" textLength="8.3" lengthAdjust="spacingAndGlyphs"><tspan font-size="4.6" fill="#555" stroke="#555">null</tspan></text>
<text x="125.2" y="346" font-size="8.1" fill="#262626" stroke-width="0.12" textLength="16.6" lengthAdjust="spacingAndGlyphs"><tspan font-style="italic">d1−3</tspan></text>
<text x="142.1" y="347.6" font-size="4.6" fill="#555" stroke-width="0.08" textLength="7.2" lengthAdjust="spacingAndGlyphs"><tspan font-size="4.6" fill="#555" stroke="#555">null</tspan></text>
<text x="21.6" y="355.1" font-size="8.8" font-weight="bold" fill="#1a1a1a"><tspan font-style="italic">clsy1,2</tspan>−dep n=6,617</text>
<rect x="19.4" y="284.5" width="147.3" height="73.2" fill="none" stroke="#333" stroke-width="1.1"/>
<rect x="19.4" y="375.8" width="147.3" height="73.4" fill="#fff" stroke="none" stroke-width="1"/>
<line x1="26.1" y1="375.8" x2="26.1" y2="449.2" stroke="#ebebeb" stroke-width="0.8"/>
<line x1="42.8" y1="375.8" x2="42.8" y2="449.2" stroke="#ebebeb" stroke-width="0.5"/>
<line x1="59.5" y1="375.8" x2="59.5" y2="449.2" stroke="#ebebeb" stroke-width="0.8"/>
<line x1="76.2" y1="375.8" x2="76.2" y2="449.2" stroke="#ebebeb" stroke-width="0.5"/>
<line x1="92.9" y1="375.8" x2="92.9" y2="449.2" stroke="#ebebeb" stroke-width="0.8"/>
<line x1="109.6" y1="375.8" x2="109.6" y2="449.2" stroke="#ebebeb" stroke-width="0.5"/>
<line x1="126.3" y1="375.8" x2="126.3" y2="449.2" stroke="#ebebeb" stroke-width="0.8"/>
<line x1="143" y1="375.8" x2="143" y2="449.2" stroke="#ebebeb" stroke-width="0.5"/>
<line x1="159.7" y1="375.8" x2="159.7" y2="449.2" stroke="#ebebeb" stroke-width="0.8"/>
<line x1="19.4" y1="387.2" x2="166.7" y2="387.2" stroke="#ebebeb" stroke-width="0.8"/>
<line x1="19.4" y1="395.6" x2="166.7" y2="395.6" stroke="#ebebeb" stroke-width="0.8"/>
<line x1="19.4" y1="404.1" x2="166.7" y2="404.1" stroke="#ebebeb" stroke-width="0.8"/>
<line x1="19.4" y1="412.6" x2="166.7" y2="412.6" stroke="#ebebeb" stroke-width="0.8"/>
<line x1="19.4" y1="421" x2="166.7" y2="421" stroke="#ebebeb" stroke-width="0.8"/>
<line x1="19.4" y1="429.4" x2="166.7" y2="429.4" stroke="#ebebeb" stroke-width="0.8"/>
<line x1="19.4" y1="437.9" x2="166.7" y2="437.9" stroke="#ebebeb" stroke-width="0.8"/>
<path d="M26.2 387.2 L26.2 387.1 L28.6 387.1 L31 387 L33.3 386.9 L35.7 386.8 L38.1 386.5 L40.5 386.1 L42.9 385.6 L45.3 384.8 L47.6 384 L50 383.1 L52.4 382.2 L54.8 381.5 L57.2 381 L59.5 380.9 L61.9 381.1 L64.3 381.4 L66.7 381.5 L69.1 381.3 L71.5 380.8 L73.8 380.4 L76.2 380.4 L78.6 381 L81 382 L83.4 383.3 L85.7 384.5 L88.1 385.5 L90.5 386.2 L92.9 386.6 L95.3 386.9 L97.7 387 L100 387 L102.4 387.1 L104.8 387.1 L107.2 387.1 L109.6 387.1 L111.9 387.2 L114.3 387.2 L116.7 387.2 L119.1 387.2 L121.5 387.2 L123.9 387.2 L126.2 387.2 L128.6 387.2 L131 387.2 L131 387.2 Z" fill="#f39068" stroke="#ec6331" stroke-width="0.9" stroke-linejoin="round"/>
<line x1="56.3" y1="387.2" x2="56.3" y2="381.2" stroke="#ec6331" stroke-width="0.8"/>
<line x1="66.5" y1="387.2" x2="66.5" y2="381.5" stroke="#ec6331" stroke-width="0.8"/>
<line x1="76.3" y1="387.2" x2="76.3" y2="380.4" stroke="#ec6331" stroke-width="0.8"/>
<line x1="26.2" y1="387.2" x2="131" y2="387.2" stroke="#ec6331" stroke-width="0.9"/>
<path d="M38.1 395.6 L38.1 395.6 L40 395.6 L41.8 395.5 L43.7 395.5 L45.5 395.5 L47.4 395.5 L49.3 395.4 L51.1 395.4 L53 395.2 L54.9 395.1 L56.7 394.8 L58.6 394.4 L60.4 393.8 L62.3 393 L64.2 392.2 L66 391.3 L67.9 390.4 L69.7 389.8 L71.6 389.4 L73.5 389.4 L75.3 389.7 L77.2 390 L79.1 389.9 L80.9 389.6 L82.8 389.3 L84.6 389.5 L86.5 390 L88.4 390.7 L90.2 391.5 L92.1 392.4 L93.9 393.3 L95.8 394 L97.7 394.5 L99.5 394.9 L101.4 395.1 L103.2 395.3 L105.1 395.4 L107 395.4 L108.8 395.5 L110.7 395.5 L112.6 395.5 L114.4 395.5 L116.3 395.6 L118.1 395.6 L120 395.6 L120 395.6 Z" fill="#fbc584" stroke="#f99d32" stroke-width="0.9" stroke-linejoin="round"/>
<line x1="70" y1="395.6" x2="70" y2="389.8" stroke="#f99d32" stroke-width="0.8"/>
<line x1="77.9" y1="395.6" x2="77.9" y2="389.9" stroke="#f99d32" stroke-width="0.8"/>
<line x1="85.8" y1="395.6" x2="85.8" y2="389.8" stroke="#f99d32" stroke-width="0.8"/>
<line x1="38.1" y1="395.6" x2="120" y2="395.6" stroke="#f99d32" stroke-width="0.9"/>
<path d="M52 404.1 L52 403.9 L54.4 403.8 L56.7 403.8 L59.1 403.7 L61.5 403.5 L63.9 403.3 L66.2 403 L68.6 402.6 L71 402.1 L73.4 401.4 L75.7 400.6 L78.1 399.7 L80.5 398.7 L82.8 397.7 L85.2 396.8 L87.6 396 L90 395.5 L92.3 395.2 L94.7 395.6 L97.1 397.2 L99.5 399.4 L101.8 401.3 L104.2 402.6 L106.6 403.4 L108.9 403.7 L111.3 403.9 L113.7 403.9 L116.1 404 L118.4 404 L120.8 404.1 L123.2 404.1 L125.6 404.1 L127.9 404.1 L130.3 404.1 L132.7 404.1 L135 404.1 L137.4 404.1 L139.8 404.1 L142.2 404.1 L144.5 404.1 L146.9 404.1 L149.3 404.1 L151.7 404.1 L154 404.1 L156.4 404.1 L156.4 404.1 Z" fill="#ebee8e" stroke="#d6da3a" stroke-width="0.9" stroke-linejoin="round"/>
<line x1="81.2" y1="404.1" x2="81.2" y2="398.4" stroke="#d6da3a" stroke-width="0.8"/>
<line x1="88.6" y1="404.1" x2="88.6" y2="395.8" stroke="#d6da3a" stroke-width="0.8"/>
<line x1="94.7" y1="404.1" x2="94.7" y2="395.6" stroke="#d6da3a" stroke-width="0.8"/>
<line x1="52" y1="404.1" x2="156.4" y2="404.1" stroke="#d6da3a" stroke-width="0.9"/>
<path d="M47 412.6 L47 412.4 L49.2 412.4 L51.3 412.3 L53.5 412.3 L55.7 412.2 L57.9 412 L60 411.8 L62.2 411.6 L64.4 411.3 L66.6 410.9 L68.7 410.5 L70.9 409.9 L73.1 409.4 L75.2 408.8 L77.4 408.2 L79.6 407.6 L81.8 407.1 L83.9 406.6 L86.1 405.9 L88.3 405 L90.5 404.8 L92.6 405 L94.8 406 L97 407.4 L99.1 409 L101.3 410.4 L103.5 411.4 L105.7 412 L107.8 412.3 L110 412.4 L112.2 412.4 L114.4 412.4 L116.5 412.5 L118.7 412.5 L120.9 412.5 L123 412.5 L125.2 412.5 L127.4 412.5 L129.6 412.5 L131.7 412.5 L133.9 412.5 L136.1 412.5 L138.3 412.5 L140.4 412.5 L142.6 412.5 L142.6 412.6 Z" fill="#8b8fc6" stroke="#6a70b6" stroke-width="0.9" stroke-linejoin="round"/>
<line x1="78.3" y1="412.6" x2="78.3" y2="407.9" stroke="#6a70b6" stroke-width="0.8"/>
<line x1="86.8" y1="412.6" x2="86.8" y2="405.7" stroke="#6a70b6" stroke-width="0.8"/>
<line x1="93.2" y1="412.6" x2="93.2" y2="405.3" stroke="#6a70b6" stroke-width="0.8"/>
<line x1="47" y1="412.6" x2="142.6" y2="412.6" stroke="#6a70b6" stroke-width="0.9"/>
<path d="M40.3 421 L40.3 421 L42.1 421 L43.9 420.9 L45.7 420.9 L47.5 420.9 L49.3 420.8 L51.1 420.7 L52.9 420.6 L54.7 420.3 L56.5 419.7 L58.3 418.6 L60.1 416.7 L62 414.2 L63.8 411.6 L65.6 409.8 L67.4 409.4 L69.2 410.2 L71 411.7 L72.8 413.7 L74.6 415.6 L76.4 417.3 L78.2 418.6 L80 419.5 L81.8 420.1 L83.6 420.4 L85.4 420.6 L87.2 420.7 L89 420.8 L90.8 420.8 L92.6 420.9 L94.4 420.9 L96.2 420.9 L98 420.9 L99.8 421 L101.7 421 L103.5 421 L105.3 421 L107.1 421 L108.9 421 L110.7 421 L112.5 421 L114.3 421 L116.1 421 L117.9 421 L119.7 421 L119.7 421 Z" fill="#ee6ca8" stroke="#e7408c" stroke-width="0.9" stroke-linejoin="round"/>
<line x1="64" y1="421" x2="64" y2="411.3" stroke="#e7408c" stroke-width="0.8"/>
<line x1="67.9" y1="421" x2="67.9" y2="409.6" stroke="#e7408c" stroke-width="0.8"/>
<line x1="72" y1="421" x2="72" y2="412.8" stroke="#e7408c" stroke-width="0.8"/>
<line x1="40.3" y1="421" x2="119.7" y2="421" stroke="#e7408c" stroke-width="0.9"/>
<path d="M35.3 429.4 L35.3 429.4 L37.9 429.4 L40.4 429.4 L43 429.4 L45.5 429.3 L48.1 429.2 L50.7 429 L53.2 428.3 L55.8 426.7 L58.4 423.8 L60.9 420.6 L63.5 419.1 L66 419.8 L68.6 421.4 L71.2 423.5 L73.7 425.6 L76.3 427.1 L78.8 428.1 L81.4 428.7 L84 429 L86.5 429.2 L89.1 429.2 L91.7 429.3 L94.2 429.3 L96.8 429.4 L99.3 429.4 L101.9 429.4 L104.5 429.4 L107 429.4 L109.6 429.4 L112.1 429.4 L114.7 429.4 L117.3 429.4 L119.8 429.4 L122.4 429.4 L124.9 429.4 L127.5 429.4 L130.1 429.4 L132.6 429.4 L135.2 429.4 L137.8 429.4 L140.3 429.4 L142.9 429.4 L145.4 429.4 L148 429.4 L148 429.4 Z" fill="#c3e5d1" stroke="#78c196" stroke-width="0.9" stroke-linejoin="round"/>
<line x1="61.1" y1="429.4" x2="61.1" y2="420.5" stroke="#78c196" stroke-width="0.8"/>
<line x1="65.3" y1="429.4" x2="65.3" y2="419.6" stroke="#78c196" stroke-width="0.8"/>
<line x1="70" y1="429.4" x2="70" y2="422.6" stroke="#78c196" stroke-width="0.8"/>
<line x1="35.3" y1="429.4" x2="148" y2="429.4" stroke="#78c196" stroke-width="0.9"/>
<path d="M29 437.9 L29 437.5 L31.1 437.3 L33.2 437.1 L35.3 436.9 L37.3 436.6 L39.4 436.2 L41.5 435.8 L43.6 435.3 L45.7 434.7 L47.8 434.2 L49.9 433.6 L52 433.1 L54 432.7 L56.1 432.4 L58.2 432.3 L60.3 432.3 L62.4 432.5 L64.5 432.8 L66.6 433.2 L68.6 433.7 L70.7 434.3 L72.8 434.9 L74.9 435.4 L77 435.9 L79.1 436.3 L81.2 436.7 L83.2 437 L85.3 437.2 L87.4 437.4 L89.5 437.5 L91.6 437.6 L93.7 437.6 L95.8 437.7 L97.9 437.7 L99.9 437.8 L102 437.8 L104.1 437.8 L106.2 437.8 L108.3 437.8 L110.4 437.8 L112.5 437.8 L114.5 437.9 L116.6 437.9 L118.7 437.9 L120.8 437.9 L120.8 437.9 Z" fill="#c3e5d1" stroke="#78c196" stroke-width="0.9" stroke-linejoin="round"/>
<line x1="50.8" y1="437.9" x2="50.8" y2="433.4" stroke="#78c196" stroke-width="0.8"/>
<line x1="59.4" y1="437.9" x2="59.4" y2="432.3" stroke="#78c196" stroke-width="0.8"/>
<line x1="68.2" y1="437.9" x2="68.2" y2="433.6" stroke="#78c196" stroke-width="0.8"/>
<line x1="29" y1="437.9" x2="120.8" y2="437.9" stroke="#78c196" stroke-width="0.9"/>
<text x="125.2" y="384.5" font-size="8.1" fill="#262626" stroke-width="0.12" textLength="21.6" lengthAdjust="spacingAndGlyphs"><tspan font-weight="bold" stroke="#1e1e1e">D1−3xF</tspan></text>
<text x="147.1" y="386.1" font-size="4.6" fill="#555" stroke-width="0.08" textLength="19" lengthAdjust="spacingAndGlyphs"><tspan font-size="4.6" fill="#555" stroke="#555">CYC-<tspan fill="#e8262c" stroke="#e8262c">AAAA</tspan></tspan></text>
<text x="125.2" y="393.3" font-size="8.1" fill="#262626" stroke-width="0.12" textLength="21.6" lengthAdjust="spacingAndGlyphs"><tspan font-weight="bold" stroke="#1e1e1e">D1−3xF</tspan></text>
<text x="147.1" y="394.9" font-size="4.6" fill="#555" stroke-width="0.08" textLength="18" lengthAdjust="spacingAndGlyphs"><tspan font-size="4.6" fill="#555" stroke="#555"><tspan fill="#e8262c" stroke="#e8262c">AAA</tspan>-YPMF</tspan></text>
<text x="125.2" y="402.1" font-size="8.1" fill="#262626" stroke-width="0.12" textLength="19.3" lengthAdjust="spacingAndGlyphs"><tspan font-style="italic">d1-50</tspan></text>
<text x="144.8" y="403.7" font-size="4.6" fill="#555" stroke-width="0.08" textLength="17.8" lengthAdjust="spacingAndGlyphs"><tspan font-size="4.6" fill="#555" stroke="#555"><tspan fill="#e8262c" stroke="#e8262c">Y</tspan>CYC-YPMF</tspan></text>
<text x="125.2" y="410.9" font-size="8.1" fill="#262626" stroke-width="0.12" textLength="19" lengthAdjust="spacingAndGlyphs"><tspan font-style="italic">d1-49</tspan></text>
<text x="144.5" y="412.5" font-size="4.6" fill="#555" stroke-width="0.08" textLength="9.2" lengthAdjust="spacingAndGlyphs"><tspan font-size="4.6" fill="#555" stroke="#555">G72<tspan fill="#e8262c" stroke="#e8262c">E</tspan></tspan></text>
<text x="125.2" y="419.7" font-size="8.1" fill="#262626" stroke-width="0.12" textLength="31.8" lengthAdjust="spacingAndGlyphs"><tspan font-style="italic">clsy quad</tspan></text>
<text x="125.2" y="428.5" font-size="8.1" fill="#262626" stroke-width="0.12" textLength="20" lengthAdjust="spacingAndGlyphs"><tspan font-style="italic">d1−51</tspan></text>
<text x="145.5" y="430.1" font-size="4.6" fill="#555" stroke-width="0.08" textLength="8.3" lengthAdjust="spacingAndGlyphs"><tspan font-size="4.6" fill="#555" stroke="#555">null</tspan></text>
<text x="125.2" y="437.3" font-size="8.1" fill="#262626" stroke-width="0.12" textLength="16.6" lengthAdjust="spacingAndGlyphs"><tspan font-style="italic">d1−3</tspan></text>
<text x="142.1" y="438.9" font-size="4.6" fill="#555" stroke-width="0.08" textLength="7.2" lengthAdjust="spacingAndGlyphs"><tspan font-size="4.6" fill="#555" stroke="#555">null</tspan></text>
<text x="21.6" y="446.6" font-size="8.8" font-weight="bold" fill="#1a1a1a"><tspan font-style="italic">clsy3,4</tspan>−dep n=1,634</text>
<rect x="19.4" y="375.8" width="147.3" height="73.4" fill="none" stroke="#333" stroke-width="1.1"/>
<rect x="19.4" y="467.5" width="147.3" height="73.5" fill="#fff" stroke="none" stroke-width="1"/>
<line x1="26.1" y1="467.5" x2="26.1" y2="541" stroke="#ebebeb" stroke-width="0.8"/>
<line x1="42.8" y1="467.5" x2="42.8" y2="541" stroke="#ebebeb" stroke-width="0.5"/>
<line x1="59.5" y1="467.5" x2="59.5" y2="541" stroke="#ebebeb" stroke-width="0.8"/>
<line x1="76.2" y1="467.5" x2="76.2" y2="541" stroke="#ebebeb" stroke-width="0.5"/>
<line x1="92.9" y1="467.5" x2="92.9" y2="541" stroke="#ebebeb" stroke-width="0.8"/>
<line x1="109.6" y1="467.5" x2="109.6" y2="541" stroke="#ebebeb" stroke-width="0.5"/>
<line x1="126.3" y1="467.5" x2="126.3" y2="541" stroke="#ebebeb" stroke-width="0.8"/>
<line x1="143" y1="467.5" x2="143" y2="541" stroke="#ebebeb" stroke-width="0.5"/>
<line x1="159.7" y1="467.5" x2="159.7" y2="541" stroke="#ebebeb" stroke-width="0.8"/>
<line x1="19.4" y1="478.9" x2="166.7" y2="478.9" stroke="#ebebeb" stroke-width="0.8"/>
<line x1="19.4" y1="487.3" x2="166.7" y2="487.3" stroke="#ebebeb" stroke-width="0.8"/>
<line x1="19.4" y1="495.8" x2="166.7" y2="495.8" stroke="#ebebeb" stroke-width="0.8"/>
<line x1="19.4" y1="504.2" x2="166.7" y2="504.2" stroke="#ebebeb" stroke-width="0.8"/>
<line x1="19.4" y1="512.7" x2="166.7" y2="512.7" stroke="#ebebeb" stroke-width="0.8"/>
<line x1="19.4" y1="521.1" x2="166.7" y2="521.1" stroke="#ebebeb" stroke-width="0.8"/>
<line x1="19.4" y1="529.6" x2="166.7" y2="529.6" stroke="#ebebeb" stroke-width="0.8"/>
<path d="M39.2 478.9 L39.2 478.8 L41.2 478.8 L43.2 478.8 L45.2 478.8 L47.2 478.7 L49.2 478.7 L51.2 478.7 L53.2 478.6 L55.2 478.5 L57.2 478.4 L59.2 478.3 L61.2 478.1 L63.1 477.7 L65.1 477.3 L67.1 476.8 L69.1 476.1 L71.1 475.3 L73.1 474.4 L75.1 473.4 L77.1 472.5 L79.1 471.7 L81.1 471.1 L83.1 470.8 L85.1 470.7 L87.1 471.1 L89.1 471.9 L91.1 472.9 L93.1 474.1 L95.1 475.2 L97.1 476.2 L99.1 477 L101.1 477.6 L103.1 478 L105.1 478.3 L107 478.5 L109 478.6 L111 478.7 L113 478.7 L115 478.8 L117 478.8 L119 478.8 L121 478.8 L123 478.8 L125 478.9 L127 478.9 L127 478.9 Z" fill="#f39068" stroke="#ec6331" stroke-width="0.9" stroke-linejoin="round"/>
<line x1="76.2" y1="478.9" x2="76.2" y2="473" stroke="#ec6331" stroke-width="0.8"/>
<line x1="83.2" y1="478.9" x2="83.2" y2="470.8" stroke="#ec6331" stroke-width="0.8"/>
<line x1="89.6" y1="478.9" x2="89.6" y2="472.1" stroke="#ec6331" stroke-width="0.8"/>
<line x1="39.2" y1="478.9" x2="127" y2="478.9" stroke="#ec6331" stroke-width="0.9"/>
<path d="M45.6 487.3 L45.6 487.2 L47.3 487.2 L49.1 487.2 L50.8 487.2 L52.6 487.1 L54.3 487.1 L56 487 L57.8 487 L59.5 486.9 L61.3 486.8 L63 486.7 L64.8 486.6 L66.5 486.4 L68.2 486.1 L70 485.8 L71.7 485.4 L73.5 484.9 L75.2 484.4 L76.9 483.7 L78.7 483 L80.4 482.2 L82.2 481.4 L83.9 480.5 L85.6 479.7 L87.4 478.9 L89.1 478.3 L90.9 477.7 L92.6 477.3 L94.3 477.1 L96.1 477.2 L97.8 477.9 L99.6 479.2 L101.3 480.7 L103 482.2 L104.8 483.6 L106.5 484.8 L108.3 485.6 L110 486.2 L111.8 486.6 L113.5 486.8 L115.2 487 L117 487.1 L118.7 487.1 L120.5 487.2 L122.2 487.2 L122.2 487.3 Z" fill="#fbc584" stroke="#f99d32" stroke-width="0.9" stroke-linejoin="round"/>
<line x1="83.7" y1="487.3" x2="83.7" y2="480.6" stroke="#f99d32" stroke-width="0.8"/>
<line x1="91.3" y1="487.3" x2="91.3" y2="477.6" stroke="#f99d32" stroke-width="0.8"/>
<line x1="97.7" y1="487.3" x2="97.7" y2="477.9" stroke="#f99d32" stroke-width="0.8"/>
<line x1="45.6" y1="487.3" x2="122.2" y2="487.3" stroke="#f99d32" stroke-width="0.9"/>
<path d="M57.3 495.8 L57.3 495.6 L58.9 495.6 L60.6 495.6 L62.2 495.5 L63.8 495.5 L65.5 495.4 L67.1 495.3 L68.8 495.2 L70.4 495.1 L72 494.9 L73.7 494.6 L75.3 494.3 L76.9 493.8 L78.6 493.3 L80.2 492.6 L81.8 491.8 L83.5 490.8 L85.1 489.8 L86.8 488.7 L88.4 487.6 L90 486.6 L91.7 485.6 L93.3 484.9 L94.9 484.4 L96.6 484.1 L98.2 484.2 L99.8 485 L101.5 486.2 L103.1 487.8 L104.8 489.5 L106.4 491.1 L108 492.4 L109.7 493.5 L111.3 494.2 L112.9 494.7 L114.6 495.1 L116.2 495.3 L117.8 495.4 L119.5 495.5 L121.1 495.6 L122.8 495.6 L124.4 495.7 L126 495.7 L127.7 495.7 L129.3 495.7 L129.3 495.8 Z" fill="#ebee8e" stroke="#d6da3a" stroke-width="0.9" stroke-linejoin="round"/>
<line x1="88.3" y1="495.8" x2="88.3" y2="487.7" stroke="#d6da3a" stroke-width="0.8"/>
<line x1="94.8" y1="495.8" x2="94.8" y2="484.4" stroke="#d6da3a" stroke-width="0.8"/>
<line x1="100.6" y1="495.8" x2="100.6" y2="485.6" stroke="#d6da3a" stroke-width="0.8"/>
<line x1="57.3" y1="495.8" x2="129.3" y2="495.8" stroke="#d6da3a" stroke-width="0.9"/>
<path d="M50.2 504.2 L50.2 504.1 L52.1 504.1 L53.9 504.1 L55.8 504 L57.6 504 L59.5 503.9 L61.4 503.7 L63.2 503.5 L65.1 503.2 L67 502.7 L68.8 502.1 L70.7 501.2 L72.5 500.1 L74.4 498.9 L76.3 497.5 L78.1 496.2 L80 495.1 L81.8 494.3 L83.7 494.1 L85.6 494.3 L87.4 495.1 L89.3 496.3 L91.2 497.7 L93 499.2 L94.9 500.5 L96.7 501.6 L98.6 502.4 L100.5 503 L102.3 503.4 L104.2 503.7 L106 503.8 L107.9 503.9 L109.8 504 L111.6 504.1 L113.5 504.1 L115.3 504.1 L117.2 504.2 L119.1 504.2 L120.9 504.2 L122.8 504.2 L124.7 504.2 L126.5 504.2 L128.4 504.2 L130.2 504.2 L132.1 504.2 L132.1 504.2 Z" fill="#8b8fc6" stroke="#6a70b6" stroke-width="0.9" stroke-linejoin="round"/>
<line x1="77.7" y1="504.2" x2="77.7" y2="496.5" stroke="#6a70b6" stroke-width="0.8"/>
<line x1="83.5" y1="504.2" x2="83.5" y2="494.1" stroke="#6a70b6" stroke-width="0.8"/>
<line x1="89.2" y1="504.2" x2="89.2" y2="496.3" stroke="#6a70b6" stroke-width="0.8"/>
<line x1="50.2" y1="504.2" x2="132.1" y2="504.2" stroke="#6a70b6" stroke-width="0.9"/>
<path d="M47 512.7 L47 512.6 L48.7 512.5 L50.4 512.5 L52.2 512.4 L53.9 512.3 L55.6 512.2 L57.3 512 L59.1 511.7 L60.8 511.2 L62.5 510.5 L64.2 509.6 L66 508.4 L67.7 507 L69.4 505.6 L71.1 504.2 L72.8 503.1 L74.6 502.4 L76.3 502.3 L78 502.7 L79.7 503.4 L81.5 504.5 L83.2 505.8 L84.9 507 L86.6 508.3 L88.3 509.3 L90.1 510.2 L91.8 510.9 L93.5 511.4 L95.2 511.8 L97 512 L98.7 512.2 L100.4 512.3 L102.1 512.4 L103.8 512.5 L105.6 512.5 L107.3 512.5 L109 512.6 L110.7 512.6 L112.5 512.6 L114.2 512.6 L115.9 512.6 L117.6 512.7 L119.4 512.7 L121.1 512.7 L122.8 512.7 L122.8 512.7 Z" fill="#ee6ca8" stroke="#e7408c" stroke-width="0.9" stroke-linejoin="round"/>
<line x1="71" y1="512.7" x2="71" y2="504.3" stroke="#e7408c" stroke-width="0.8"/>
<line x1="76.4" y1="512.7" x2="76.4" y2="502.3" stroke="#e7408c" stroke-width="0.8"/>
<line x1="82.2" y1="512.7" x2="82.2" y2="505" stroke="#e7408c" stroke-width="0.8"/>
<line x1="47" y1="512.7" x2="122.8" y2="512.7" stroke="#e7408c" stroke-width="0.9"/>
<path d="M43.5 521.1 L43.5 521.1 L45.7 521.1 L47.9 521 L50.1 521 L52.3 521 L54.5 520.9 L56.7 520.8 L58.9 520.6 L61.1 520.2 L63.3 519.6 L65.5 518.6 L67.7 517.3 L69.9 515.7 L72.1 514.1 L74.3 512.7 L76.5 511.9 L78.7 512 L80.9 512.7 L83.1 513.8 L85.3 515.2 L87.5 516.7 L89.7 518 L91.8 519 L94 519.7 L96.2 520.2 L98.4 520.5 L100.6 520.7 L102.8 520.9 L105 520.9 L107.2 521 L109.4 521 L111.6 521 L113.8 521.1 L116 521.1 L118.2 521.1 L120.4 521.1 L122.6 521.1 L124.8 521.1 L127 521.1 L129.2 521.1 L131.4 521.1 L133.6 521.1 L135.8 521.1 L138 521.1 L140.2 521.1 L140.2 521.1 Z" fill="#c3e5d1" stroke="#78c196" stroke-width="0.9" stroke-linejoin="round"/>
<line x1="72.6" y1="521.1" x2="72.6" y2="513.7" stroke="#78c196" stroke-width="0.8"/>
<line x1="78.1" y1="521.1" x2="78.1" y2="512" stroke="#78c196" stroke-width="0.8"/>
<line x1="83.9" y1="521.1" x2="83.9" y2="514.3" stroke="#78c196" stroke-width="0.8"/>
<line x1="43.5" y1="521.1" x2="140.2" y2="521.1" stroke="#78c196" stroke-width="0.9"/>
<path d="M32.6 529.6 L32.6 529.6 L34.7 529.6 L36.8 529.5 L38.9 529.5 L41 529.5 L43.1 529.5 L45.1 529.4 L47.2 529.4 L49.3 529.4 L51.4 529.3 L53.5 529.1 L55.6 528.9 L57.7 528.6 L59.8 528.1 L61.9 527.3 L64 526.3 L66.1 525.1 L68.1 523.7 L70.2 522.4 L72.3 521.3 L74.4 520.6 L76.5 520.4 L78.6 520.8 L80.7 521.6 L82.8 522.8 L84.9 524 L87 525.3 L89.1 526.4 L91.1 527.4 L93.2 528.1 L95.3 528.6 L97.4 528.9 L99.5 529.1 L101.6 529.2 L103.7 529.3 L105.8 529.4 L107.9 529.4 L110 529.5 L112.1 529.5 L114.1 529.5 L116.2 529.5 L118.3 529.5 L120.4 529.6 L122.5 529.6 L124.6 529.6 L124.6 529.6 Z" fill="#c3e5d1" stroke="#78c196" stroke-width="0.9" stroke-linejoin="round"/>
<line x1="70.3" y1="529.6" x2="70.3" y2="522.4" stroke="#78c196" stroke-width="0.8"/>
<line x1="76.3" y1="529.6" x2="76.3" y2="520.4" stroke="#78c196" stroke-width="0.8"/>
<line x1="82.6" y1="529.6" x2="82.6" y2="522.6" stroke="#78c196" stroke-width="0.8"/>
<line x1="32.6" y1="529.6" x2="124.6" y2="529.6" stroke="#78c196" stroke-width="0.9"/>
<text x="125.2" y="476.2" font-size="8.1" fill="#262626" stroke-width="0.12" textLength="21.6" lengthAdjust="spacingAndGlyphs"><tspan font-weight="bold" stroke="#1e1e1e">D1−3xF</tspan></text>
<text x="147.1" y="477.8" font-size="4.6" fill="#555" stroke-width="0.08" textLength="19" lengthAdjust="spacingAndGlyphs"><tspan font-size="4.6" fill="#555" stroke="#555">CYC-<tspan fill="#e8262c" stroke="#e8262c">AAAA</tspan></tspan></text>
<text x="125.2" y="485" font-size="8.1" fill="#262626" stroke-width="0.12" textLength="21.6" lengthAdjust="spacingAndGlyphs"><tspan font-weight="bold" stroke="#1e1e1e">D1−3xF</tspan></text>
<text x="147.1" y="486.6" font-size="4.6" fill="#555" stroke-width="0.08" textLength="18" lengthAdjust="spacingAndGlyphs"><tspan font-size="4.6" fill="#555" stroke="#555"><tspan fill="#e8262c" stroke="#e8262c">AAA</tspan>-YPMF</tspan></text>
<text x="125.2" y="493.8" font-size="8.1" fill="#262626" stroke-width="0.12" textLength="19.3" lengthAdjust="spacingAndGlyphs"><tspan font-style="italic">d1-50</tspan></text>
<text x="144.8" y="495.4" font-size="4.6" fill="#555" stroke-width="0.08" textLength="17.8" lengthAdjust="spacingAndGlyphs"><tspan font-size="4.6" fill="#555" stroke="#555"><tspan fill="#e8262c" stroke="#e8262c">Y</tspan>CYC-YPMF</tspan></text>
<text x="125.2" y="502.6" font-size="8.1" fill="#262626" stroke-width="0.12" textLength="19" lengthAdjust="spacingAndGlyphs"><tspan font-style="italic">d1-49</tspan></text>
<text x="144.5" y="504.2" font-size="4.6" fill="#555" stroke-width="0.08" textLength="9.2" lengthAdjust="spacingAndGlyphs"><tspan font-size="4.6" fill="#555" stroke="#555">G72<tspan fill="#e8262c" stroke="#e8262c">E</tspan></tspan></text>
<text x="125.2" y="511.4" font-size="8.1" fill="#262626" stroke-width="0.12" textLength="31.8" lengthAdjust="spacingAndGlyphs"><tspan font-style="italic">clsy quad</tspan></text>
<text x="125.2" y="520.2" font-size="8.1" fill="#262626" stroke-width="0.12" textLength="20" lengthAdjust="spacingAndGlyphs"><tspan font-style="italic">d1−51</tspan></text>
<text x="145.5" y="521.8" font-size="4.6" fill="#555" stroke-width="0.08" textLength="8.3" lengthAdjust="spacingAndGlyphs"><tspan font-size="4.6" fill="#555" stroke="#555">null</tspan></text>
<text x="125.2" y="529" font-size="8.1" fill="#262626" stroke-width="0.12" textLength="16.6" lengthAdjust="spacingAndGlyphs"><tspan font-style="italic">d1−3</tspan></text>
<text x="142.1" y="530.6" font-size="4.6" fill="#555" stroke-width="0.08" textLength="7.2" lengthAdjust="spacingAndGlyphs"><tspan font-size="4.6" fill="#555" stroke="#555">null</tspan></text>
<text x="21.6" y="538.4" font-size="8.8" font-weight="bold" fill="#1a1a1a"><tspan font-style="italic">clsy</tspan> synergistic n=4,577</text>
<rect x="19.4" y="467.5" width="147.3" height="73.5" fill="none" stroke="#333" stroke-width="1.1"/>
<rect x="190.5" y="341.6" width="147.3" height="72.7" fill="#fff" stroke="none" stroke-width="1"/>
<line x1="197.4" y1="341.6" x2="197.4" y2="414.3" stroke="#ebebeb" stroke-width="0.8"/>
<line x1="214.1" y1="341.6" x2="214.1" y2="414.3" stroke="#ebebeb" stroke-width="0.5"/>
<line x1="230.8" y1="341.6" x2="230.8" y2="414.3" stroke="#ebebeb" stroke-width="0.8"/>
<line x1="247.5" y1="341.6" x2="247.5" y2="414.3" stroke="#ebebeb" stroke-width="0.5"/>
<line x1="264.2" y1="341.6" x2="264.2" y2="414.3" stroke="#ebebeb" stroke-width="0.8"/>
<line x1="280.9" y1="341.6" x2="280.9" y2="414.3" stroke="#ebebeb" stroke-width="0.5"/>
<line x1="297.6" y1="341.6" x2="297.6" y2="414.3" stroke="#ebebeb" stroke-width="0.8"/>
<line x1="314.3" y1="341.6" x2="314.3" y2="414.3" stroke="#ebebeb" stroke-width="0.5"/>
<line x1="331" y1="341.6" x2="331" y2="414.3" stroke="#ebebeb" stroke-width="0.8"/>
<line x1="190.5" y1="353" x2="337.8" y2="353" stroke="#ebebeb" stroke-width="0.8"/>
<line x1="190.5" y1="361.4" x2="337.8" y2="361.4" stroke="#ebebeb" stroke-width="0.8"/>
<line x1="190.5" y1="369.9" x2="337.8" y2="369.9" stroke="#ebebeb" stroke-width="0.8"/>
<line x1="190.5" y1="378.4" x2="337.8" y2="378.4" stroke="#ebebeb" stroke-width="0.8"/>
<line x1="190.5" y1="386.8" x2="337.8" y2="386.8" stroke="#ebebeb" stroke-width="0.8"/>
<line x1="190.5" y1="395.2" x2="337.8" y2="395.2" stroke="#ebebeb" stroke-width="0.8"/>
<line x1="190.5" y1="403.7" x2="337.8" y2="403.7" stroke="#ebebeb" stroke-width="0.8"/>
<path d="M199 353 L199 352.6 L201.4 352.5 L203.8 352.3 L206.1 352.1 L208.5 351.7 L210.9 351.3 L213.3 350.8 L215.7 350.2 L218.1 349.6 L220.4 348.9 L222.8 348.4 L225.2 347.9 L227.6 347.5 L230 347.4 L232.3 347.5 L234.7 347.7 L237.1 348.2 L239.5 348.7 L241.9 349.3 L244.3 350 L246.6 350.6 L249 351.1 L251.4 351.6 L253.8 351.9 L256.2 352.2 L258.5 352.4 L260.9 352.6 L263.3 352.7 L265.7 352.8 L268.1 352.8 L270.5 352.8 L272.8 352.9 L275.2 352.9 L277.6 352.9 L280 352.9 L282.4 352.9 L284.7 352.9 L287.1 353 L289.5 353 L291.9 353 L294.3 353 L296.7 353 L299 353 L301.4 353 L303.8 353 L303.8 353 Z" fill="#f39068" stroke="#ec6331" stroke-width="0.9" stroke-linejoin="round"/>
<line x1="222.1" y1="353" x2="222.1" y2="348.5" stroke="#ec6331" stroke-width="0.8"/>
<line x1="230.7" y1="353" x2="230.7" y2="347.4" stroke="#ec6331" stroke-width="0.8"/>
<line x1="239.5" y1="353" x2="239.5" y2="348.7" stroke="#ec6331" stroke-width="0.8"/>
<line x1="199" y1="353" x2="303.8" y2="353" stroke="#ec6331" stroke-width="0.9"/>
<path d="M209.5 361.4 L209.5 361.4 L211.4 361.4 L213.4 361.4 L215.3 361.4 L217.3 361.4 L219.2 361.4 L221.2 361.4 L223.1 361.3 L225 361.3 L227 361.2 L228.9 361 L230.9 360.6 L232.8 360 L234.8 358.8 L236.7 357.1 L238.6 355.1 L240.6 353.2 L242.5 352.2 L244.5 352.4 L246.4 353.3 L248.4 354.6 L250.3 356.2 L252.2 357.7 L254.2 358.9 L256.1 359.9 L258.1 360.5 L260 360.8 L262 361 L263.9 361.2 L265.9 361.2 L267.8 361.3 L269.7 361.3 L271.7 361.4 L273.6 361.4 L275.6 361.4 L277.5 361.4 L279.5 361.4 L281.4 361.4 L283.3 361.4 L285.3 361.4 L287.2 361.4 L289.2 361.4 L291.1 361.4 L293.1 361.4 L295 361.4 L295 361.4 Z" fill="#fbc584" stroke="#f99d32" stroke-width="0.9" stroke-linejoin="round"/>
<line x1="239.9" y1="361.4" x2="239.9" y2="353.8" stroke="#f99d32" stroke-width="0.8"/>
<line x1="244.1" y1="361.4" x2="244.1" y2="352.4" stroke="#f99d32" stroke-width="0.8"/>
<line x1="248.7" y1="361.4" x2="248.7" y2="354.9" stroke="#f99d32" stroke-width="0.8"/>
<line x1="209.5" y1="361.4" x2="295" y2="361.4" stroke="#f99d32" stroke-width="0.9"/>
<path d="M225.9 369.9 L225.9 369.7 L228.2 369.7 L230.5 369.6 L232.8 369.5 L235.1 369.3 L237.5 369 L239.8 368.6 L242.1 368 L244.4 367.2 L246.7 366.3 L249 365.3 L251.3 364.3 L253.6 363.5 L255.9 363.1 L258.3 363.1 L260.6 363.8 L262.9 365 L265.2 366.4 L267.5 367.7 L269.8 368.6 L272.1 369.1 L274.4 369.5 L276.8 369.6 L279.1 369.7 L281.4 369.8 L283.7 369.8 L286 369.8 L288.3 369.9 L290.6 369.9 L292.9 369.9 L295.2 369.9 L297.6 369.9 L299.9 369.9 L302.2 369.9 L304.5 369.9 L306.8 369.9 L309.1 369.9 L311.4 369.9 L313.7 369.9 L316 369.9 L318.4 369.9 L320.7 369.9 L323 369.9 L325.3 369.9 L327.6 369.9 L327.6 369.9 Z" fill="#ebee8e" stroke="#d6da3a" stroke-width="0.9" stroke-linejoin="round"/>
<line x1="249.6" y1="369.9" x2="249.6" y2="365" stroke="#d6da3a" stroke-width="0.8"/>
<line x1="255.7" y1="369.9" x2="255.7" y2="363.2" stroke="#d6da3a" stroke-width="0.8"/>
<line x1="261.2" y1="369.9" x2="261.2" y2="364.1" stroke="#d6da3a" stroke-width="0.8"/>
<line x1="225.9" y1="369.9" x2="327.6" y2="369.9" stroke="#d6da3a" stroke-width="0.9"/>
<path d="M224 378.4 L224 378.2 L226 378.2 L228.1 378.1 L230.1 378.1 L232.2 378 L234.2 377.8 L236.2 377.6 L238.3 377.2 L240.3 376.8 L242.3 376.2 L244.4 375.4 L246.4 374.6 L248.5 373.7 L250.5 372.9 L252.5 372.2 L254.6 371.7 L256.6 371.6 L258.7 371.9 L260.7 372.9 L262.7 374.2 L264.8 375.4 L266.8 376.5 L268.9 377.2 L270.9 377.7 L272.9 378 L275 378.1 L277 378.2 L279 378.2 L281.1 378.3 L283.1 378.3 L285.2 378.3 L287.2 378.3 L289.2 378.3 L291.3 378.3 L293.3 378.3 L295.4 378.3 L297.4 378.3 L299.4 378.3 L301.5 378.3 L303.5 378.3 L305.5 378.3 L307.6 378.3 L309.6 378.3 L311.7 378.3 L313.7 378.3 L313.7 378.4 Z" fill="#8b8fc6" stroke="#6a70b6" stroke-width="0.9" stroke-linejoin="round"/>
<line x1="248.7" y1="378.4" x2="248.7" y2="373.6" stroke="#6a70b6" stroke-width="0.8"/>
<line x1="254.6" y1="378.4" x2="254.6" y2="371.7" stroke="#6a70b6" stroke-width="0.8"/>
<line x1="259.9" y1="378.4" x2="259.9" y2="372.5" stroke="#6a70b6" stroke-width="0.8"/>
<line x1="224" y1="378.4" x2="313.7" y2="378.4" stroke="#6a70b6" stroke-width="0.9"/>
<path d="M211.3 386.8 L211.3 386.8 L213.3 386.7 L215.2 386.7 L217.2 386.7 L219.2 386.6 L221.2 386.5 L223.2 386.4 L225.1 386 L227.1 385.2 L229.1 383.7 L231.1 381.2 L233 378.3 L235 375.8 L237 375 L238.9 375.7 L240.9 377.3 L242.9 379.5 L244.9 381.7 L246.8 383.5 L248.8 384.8 L250.8 385.6 L252.8 386.1 L254.8 386.3 L256.7 386.5 L258.7 386.6 L260.7 386.6 L262.6 386.7 L264.6 386.7 L266.6 386.7 L268.6 386.8 L270.6 386.8 L272.5 386.8 L274.5 386.8 L276.5 386.8 L278.4 386.8 L280.4 386.8 L282.4 386.8 L284.4 386.8 L286.3 386.8 L288.3 386.8 L290.3 386.8 L292.3 386.8 L294.2 386.8 L296.2 386.8 L298.2 386.8 L298.2 386.8 Z" fill="#ee6ca8" stroke="#e7408c" stroke-width="0.9" stroke-linejoin="round"/>
<line x1="234" y1="386.8" x2="234" y2="377.1" stroke="#e7408c" stroke-width="0.8"/>
<line x1="237.9" y1="386.8" x2="237.9" y2="375.3" stroke="#e7408c" stroke-width="0.8"/>
<line x1="242" y1="386.8" x2="242" y2="378.6" stroke="#e7408c" stroke-width="0.8"/>
<line x1="211.3" y1="386.8" x2="298.2" y2="386.8" stroke="#e7408c" stroke-width="0.9"/>
<path d="M206.1 395.2 L206.1 395.2 L208.7 395.2 L211.2 395.2 L213.8 395.2 L216.4 395.1 L218.9 395 L221.5 394.9 L224.1 394.3 L226.6 392.6 L229.2 389.2 L231.8 385.3 L234.3 383.9 L236.9 385 L239.5 387.2 L242.1 389.8 L244.6 391.9 L247.2 393.4 L249.8 394.3 L252.3 394.7 L254.9 394.9 L257.5 395 L260 395.1 L262.6 395.1 L265.2 395.2 L267.7 395.2 L270.3 395.2 L272.9 395.2 L275.4 395.2 L278 395.2 L280.6 395.2 L283.1 395.2 L285.7 395.2 L288.3 395.2 L290.9 395.2 L293.4 395.2 L296 395.2 L298.6 395.2 L301.1 395.2 L303.7 395.2 L306.3 395.2 L308.8 395.2 L311.4 395.2 L314 395.2 L316.5 395.2 L319.1 395.2 L319.1 395.2 Z" fill="#c3e5d1" stroke="#78c196" stroke-width="0.9" stroke-linejoin="round"/>
<line x1="231.9" y1="395.2" x2="231.9" y2="385.3" stroke="#78c196" stroke-width="0.8"/>
<line x1="235.7" y1="395.2" x2="235.7" y2="384.5" stroke="#78c196" stroke-width="0.8"/>
<line x1="240" y1="395.2" x2="240" y2="387.8" stroke="#78c196" stroke-width="0.8"/>
<line x1="206.1" y1="395.2" x2="319.1" y2="395.2" stroke="#78c196" stroke-width="0.9"/>
<path d="M200.4 403.7 L200.4 402.8 L202.5 402.4 L204.7 402.1 L206.8 401.6 L209 401.1 L211.1 400.5 L213.2 400 L215.4 399.5 L217.5 399.1 L219.7 398.8 L221.8 398.7 L224 398.8 L226.1 399 L228.2 399.4 L230.4 399.9 L232.5 400.5 L234.7 401 L236.8 401.5 L238.9 402 L241.1 402.4 L243.2 402.7 L245.4 403 L247.5 403.2 L249.6 403.3 L251.8 403.4 L253.9 403.5 L256.1 403.5 L258.2 403.6 L260.3 403.6 L262.5 403.6 L264.6 403.6 L266.8 403.6 L268.9 403.6 L271.1 403.7 L273.2 403.7 L275.3 403.7 L277.5 403.7 L279.6 403.7 L281.8 403.7 L283.9 403.7 L286 403.7 L288.2 403.7 L290.3 403.7 L292.5 403.7 L294.6 403.7 L294.6 403.7 Z" fill="#c3e5d1" stroke="#78c196" stroke-width="0.9" stroke-linejoin="round"/>
<line x1="215.1" y1="403.7" x2="215.1" y2="399.5" stroke="#78c196" stroke-width="0.8"/>
<line x1="222.7" y1="403.7" x2="222.7" y2="398.7" stroke="#78c196" stroke-width="0.8"/>
<line x1="230.6" y1="403.7" x2="230.6" y2="400" stroke="#78c196" stroke-width="0.8"/>
<line x1="200.4" y1="403.7" x2="294.6" y2="403.7" stroke="#78c196" stroke-width="0.9"/>
<text x="296.3" y="350.3" font-size="8.1" fill="#262626" stroke-width="0.12" textLength="21.6" lengthAdjust="spacingAndGlyphs"><tspan font-weight="bold" stroke="#1e1e1e">D1−3xF</tspan></text>
<text x="318.2" y="351.9" font-size="4.6" fill="#555" stroke-width="0.08" textLength="19" lengthAdjust="spacingAndGlyphs"><tspan font-size="4.6" fill="#555" stroke="#555">CYC-<tspan fill="#e8262c" stroke="#e8262c">AAAA</tspan></tspan></text>
<text x="296.3" y="359.1" font-size="8.1" fill="#262626" stroke-width="0.12" textLength="21.6" lengthAdjust="spacingAndGlyphs"><tspan font-weight="bold" stroke="#1e1e1e">D1−3xF</tspan></text>
<text x="318.2" y="360.7" font-size="4.6" fill="#555" stroke-width="0.08" textLength="18" lengthAdjust="spacingAndGlyphs"><tspan font-size="4.6" fill="#555" stroke="#555"><tspan fill="#e8262c" stroke="#e8262c">AAA</tspan>-YPMF</tspan></text>
<text x="296.3" y="367.9" font-size="8.1" fill="#262626" stroke-width="0.12" textLength="19.3" lengthAdjust="spacingAndGlyphs"><tspan font-style="italic">d1-50</tspan></text>
<text x="315.9" y="369.5" font-size="4.6" fill="#555" stroke-width="0.08" textLength="17.8" lengthAdjust="spacingAndGlyphs"><tspan font-size="4.6" fill="#555" stroke="#555"><tspan fill="#e8262c" stroke="#e8262c">Y</tspan>CYC-YPMF</tspan></text>
<text x="296.3" y="376.7" font-size="8.1" fill="#262626" stroke-width="0.12" textLength="19" lengthAdjust="spacingAndGlyphs"><tspan font-style="italic">d1-49</tspan></text>
<text x="315.6" y="378.3" font-size="4.6" fill="#555" stroke-width="0.08" textLength="9.2" lengthAdjust="spacingAndGlyphs"><tspan font-size="4.6" fill="#555" stroke="#555">G72<tspan fill="#e8262c" stroke="#e8262c">E</tspan></tspan></text>
<text x="296.3" y="385.5" font-size="8.1" fill="#262626" stroke-width="0.12" textLength="31.8" lengthAdjust="spacingAndGlyphs"><tspan font-style="italic">clsy quad</tspan></text>
<text x="296.3" y="394.3" font-size="8.1" fill="#262626" stroke-width="0.12" textLength="20" lengthAdjust="spacingAndGlyphs"><tspan font-style="italic">d1−51</tspan></text>
<text x="316.6" y="395.9" font-size="4.6" fill="#555" stroke-width="0.08" textLength="8.3" lengthAdjust="spacingAndGlyphs"><tspan font-size="4.6" fill="#555" stroke="#555">null</tspan></text>
<text x="296.3" y="403.1" font-size="8.1" fill="#262626" stroke-width="0.12" textLength="16.6" lengthAdjust="spacingAndGlyphs"><tspan font-style="italic">d1−3</tspan></text>
<text x="313.2" y="404.7" font-size="4.6" fill="#555" stroke-width="0.08" textLength="7.2" lengthAdjust="spacingAndGlyphs"><tspan font-size="4.6" fill="#555" stroke="#555">null</tspan></text>
<text x="192.7" y="411.7" font-size="8.8" font-weight="bold" fill="#1a1a1a"><tspan font-style="italic">clsy3</tspan>−dep n=802</text>
<rect x="190.5" y="341.6" width="147.3" height="72.7" fill="none" stroke="#333" stroke-width="1.1"/>
<rect x="190.4" y="432.3" width="147.4" height="72.2" fill="#fff" stroke="none" stroke-width="1"/>
<line x1="197.4" y1="432.3" x2="197.4" y2="504.5" stroke="#ebebeb" stroke-width="0.8"/>
<line x1="214.1" y1="432.3" x2="214.1" y2="504.5" stroke="#ebebeb" stroke-width="0.5"/>
<line x1="230.8" y1="432.3" x2="230.8" y2="504.5" stroke="#ebebeb" stroke-width="0.8"/>
<line x1="247.5" y1="432.3" x2="247.5" y2="504.5" stroke="#ebebeb" stroke-width="0.5"/>
<line x1="264.2" y1="432.3" x2="264.2" y2="504.5" stroke="#ebebeb" stroke-width="0.8"/>
<line x1="280.9" y1="432.3" x2="280.9" y2="504.5" stroke="#ebebeb" stroke-width="0.5"/>
<line x1="297.6" y1="432.3" x2="297.6" y2="504.5" stroke="#ebebeb" stroke-width="0.8"/>
<line x1="314.3" y1="432.3" x2="314.3" y2="504.5" stroke="#ebebeb" stroke-width="0.5"/>
<line x1="331" y1="432.3" x2="331" y2="504.5" stroke="#ebebeb" stroke-width="0.8"/>
<line x1="190.4" y1="443.7" x2="337.8" y2="443.7" stroke="#ebebeb" stroke-width="0.8"/>
<line x1="190.4" y1="452.1" x2="337.8" y2="452.1" stroke="#ebebeb" stroke-width="0.8"/>
<line x1="190.4" y1="460.6" x2="337.8" y2="460.6" stroke="#ebebeb" stroke-width="0.8"/>
<line x1="190.4" y1="469.1" x2="337.8" y2="469.1" stroke="#ebebeb" stroke-width="0.8"/>
<line x1="190.4" y1="477.5" x2="337.8" y2="477.5" stroke="#ebebeb" stroke-width="0.8"/>
<line x1="190.4" y1="485.9" x2="337.8" y2="485.9" stroke="#ebebeb" stroke-width="0.8"/>
<line x1="190.4" y1="494.4" x2="337.8" y2="494.4" stroke="#ebebeb" stroke-width="0.8"/>
<path d="M203.3 443.7 L203.3 443.5 L205.6 443.5 L207.9 443.4 L210.2 443.4 L212.4 443.3 L214.7 443.2 L217 443 L219.3 442.8 L221.6 442.5 L223.9 442.1 L226.1 441.7 L228.4 441.1 L230.7 440.5 L233 439.8 L235.3 439.2 L237.6 438.5 L239.8 437.9 L242.1 437.4 L244.4 437.1 L246.7 436.9 L249 437 L251.3 437.4 L253.6 438 L255.8 438.8 L258.1 439.7 L260.4 440.6 L262.7 441.3 L265 442 L267.3 442.5 L269.5 442.9 L271.8 443.1 L274.1 443.3 L276.4 443.4 L278.7 443.5 L281 443.5 L283.2 443.6 L285.5 443.6 L287.8 443.6 L290.1 443.6 L292.4 443.6 L294.7 443.6 L296.9 443.7 L299.2 443.7 L301.5 443.7 L303.8 443.7 L303.8 443.7 Z" fill="#f39068" stroke="#ec6331" stroke-width="0.9" stroke-linejoin="round"/>
<line x1="236.7" y1="443.7" x2="236.7" y2="438.8" stroke="#ec6331" stroke-width="0.8"/>
<line x1="245.5" y1="443.7" x2="245.5" y2="437" stroke="#ec6331" stroke-width="0.8"/>
<line x1="253.7" y1="443.7" x2="253.7" y2="438" stroke="#ec6331" stroke-width="0.8"/>
<line x1="203.3" y1="443.7" x2="303.8" y2="443.7" stroke="#ec6331" stroke-width="0.9"/>
<path d="M218.4 452.1 L218.4 452 L220.1 451.9 L221.9 451.9 L223.6 451.8 L225.3 451.8 L227.1 451.7 L228.8 451.5 L230.5 451.3 L232.3 451.1 L234 450.8 L235.7 450.5 L237.5 450 L239.2 449.5 L240.9 448.9 L242.6 448.3 L244.4 447.6 L246.1 447 L247.8 446.3 L249.6 445.8 L251.3 445.3 L253 444.9 L254.8 444.8 L256.5 444.8 L258.2 445.1 L260 445.9 L261.7 446.8 L263.4 447.9 L265.2 448.9 L266.9 449.8 L268.6 450.5 L270.4 451 L272.1 451.4 L273.8 451.6 L275.6 451.8 L277.3 451.9 L279 451.9 L280.7 452 L282.5 452 L284.2 452 L285.9 452.1 L287.7 452.1 L289.4 452.1 L291.1 452.1 L292.9 452.1 L294.6 452.1 L294.6 452.1 Z" fill="#fbc584" stroke="#f99d32" stroke-width="0.9" stroke-linejoin="round"/>
<line x1="246" y1="452.1" x2="246" y2="447" stroke="#f99d32" stroke-width="0.8"/>
<line x1="253.2" y1="452.1" x2="253.2" y2="444.9" stroke="#f99d32" stroke-width="0.8"/>
<line x1="259.5" y1="452.1" x2="259.5" y2="445.6" stroke="#f99d32" stroke-width="0.8"/>
<line x1="218.4" y1="452.1" x2="294.6" y2="452.1" stroke="#f99d32" stroke-width="0.9"/>
<path d="M225.9 460.6 L225.9 460.5 L227.8 460.5 L229.8 460.4 L231.7 460.4 L233.6 460.3 L235.6 460.3 L237.5 460.2 L239.4 460.1 L241.4 459.9 L243.3 459.7 L245.2 459.3 L247.2 458.9 L249.1 458.3 L251 457.6 L252.9 456.7 L254.9 455.8 L256.8 454.8 L258.7 453.8 L260.7 453 L262.6 452.3 L264.5 451.8 L266.5 451.7 L268.4 452 L270.3 452.9 L272.3 454.2 L274.2 455.6 L276.1 456.9 L278.1 458 L280 458.9 L281.9 459.5 L283.9 459.9 L285.8 460.1 L287.7 460.3 L289.6 460.4 L291.6 460.4 L293.5 460.5 L295.4 460.5 L297.4 460.5 L299.3 460.5 L301.2 460.5 L303.2 460.6 L305.1 460.6 L307 460.6 L309 460.6 L310.9 460.6 L310.9 460.6 Z" fill="#ebee8e" stroke="#d6da3a" stroke-width="0.9" stroke-linejoin="round"/>
<line x1="257.7" y1="460.6" x2="257.7" y2="454.4" stroke="#d6da3a" stroke-width="0.8"/>
<line x1="264.4" y1="460.6" x2="264.4" y2="451.9" stroke="#d6da3a" stroke-width="0.8"/>
<line x1="270.4" y1="460.6" x2="270.4" y2="453" stroke="#d6da3a" stroke-width="0.8"/>
<line x1="225.9" y1="460.6" x2="310.9" y2="460.6" stroke="#d6da3a" stroke-width="0.9"/>
<path d="M218.4 469.1 L218.4 468.8 L220.5 468.8 L222.6 468.7 L224.7 468.6 L226.8 468.5 L228.9 468.3 L231.1 468.1 L233.2 467.7 L235.3 467.1 L237.4 466.4 L239.5 465.5 L241.6 464.3 L243.7 463.1 L245.8 461.7 L247.9 460.3 L250 459.2 L252.1 458.3 L254.3 457.8 L256.4 457.8 L258.5 459.1 L260.6 461.4 L262.7 463.9 L264.8 465.9 L266.9 467.3 L269 468.1 L271.1 468.5 L273.2 468.7 L275.3 468.8 L277.5 468.9 L279.6 468.9 L281.7 469 L283.8 469 L285.9 469 L288 469 L290.1 469 L292.2 469 L294.3 469 L296.4 469 L298.5 469 L300.7 469 L302.8 469 L304.9 469 L307 469 L309.1 469 L311.2 469 L311.2 469.1 Z" fill="#8b8fc6" stroke="#6a70b6" stroke-width="0.9" stroke-linejoin="round"/>
<line x1="246.1" y1="469.1" x2="246.1" y2="461.5" stroke="#6a70b6" stroke-width="0.8"/>
<line x1="252.5" y1="469.1" x2="252.5" y2="458.2" stroke="#6a70b6" stroke-width="0.8"/>
<line x1="257.9" y1="469.1" x2="257.9" y2="458.8" stroke="#6a70b6" stroke-width="0.8"/>
<line x1="218.4" y1="469.1" x2="311.2" y2="469.1" stroke="#6a70b6" stroke-width="0.9"/>
<path d="M218.4 477.5 L218.4 477.3 L220.2 477.2 L222 477.1 L223.8 476.9 L225.6 476.5 L227.4 475.9 L229.2 475 L231 473.7 L232.9 471.9 L234.7 470 L236.5 468.2 L238.3 466.8 L240.1 466.2 L241.9 466.4 L243.7 467.1 L245.5 468.2 L247.3 469.6 L249.1 471.1 L250.9 472.5 L252.7 473.7 L254.5 474.7 L256.3 475.5 L258.1 476.1 L260 476.5 L261.8 476.8 L263.6 477 L265.4 477.1 L267.2 477.2 L269 477.3 L270.8 477.3 L272.6 477.3 L274.4 477.4 L276.2 477.4 L278 477.4 L279.8 477.4 L281.6 477.4 L283.4 477.5 L285.3 477.5 L287.1 477.5 L288.9 477.5 L290.7 477.5 L292.5 477.5 L294.3 477.5 L296.1 477.5 L297.9 477.5 L297.9 477.5 Z" fill="#ee6ca8" stroke="#e7408c" stroke-width="0.9" stroke-linejoin="round"/>
<line x1="236.8" y1="477.5" x2="236.8" y2="467.9" stroke="#e7408c" stroke-width="0.8"/>
<line x1="241.7" y1="477.5" x2="241.7" y2="466.4" stroke="#e7408c" stroke-width="0.8"/>
<line x1="247.2" y1="477.5" x2="247.2" y2="469.5" stroke="#e7408c" stroke-width="0.8"/>
<line x1="218.4" y1="477.5" x2="297.9" y2="477.5" stroke="#e7408c" stroke-width="0.9"/>
<path d="M217 485.9 L217 485.7 L218.9 485.6 L220.8 485.4 L222.6 485 L224.5 484.4 L226.4 483.4 L228.3 482.1 L230.1 480.4 L232 478.7 L233.9 477.2 L235.8 476.3 L237.7 476.2 L239.5 476.6 L241.4 477.3 L243.3 478.3 L245.2 479.4 L247 480.6 L248.9 481.7 L250.8 482.7 L252.7 483.5 L254.5 484.2 L256.4 484.7 L258.3 485 L260.2 485.3 L262.1 485.5 L263.9 485.6 L265.8 485.7 L267.7 485.7 L269.6 485.8 L271.4 485.8 L273.3 485.8 L275.2 485.8 L277.1 485.9 L279 485.9 L280.8 485.9 L282.7 485.9 L284.6 485.9 L286.5 485.9 L288.3 485.9 L290.2 485.9 L292.1 485.9 L294 485.9 L295.8 485.9 L297.7 485.9 L299.6 485.9 L299.6 485.9 Z" fill="#c3e5d1" stroke="#78c196" stroke-width="0.9" stroke-linejoin="round"/>
<line x1="233.7" y1="485.9" x2="233.7" y2="477.4" stroke="#78c196" stroke-width="0.8"/>
<line x1="239" y1="485.9" x2="239" y2="476.5" stroke="#78c196" stroke-width="0.8"/>
<line x1="245" y1="485.9" x2="245" y2="479.3" stroke="#78c196" stroke-width="0.8"/>
<line x1="217" y1="485.9" x2="299.6" y2="485.9" stroke="#78c196" stroke-width="0.9"/>
<path d="M203.3 494.4 L203.3 494.2 L205.4 494.1 L207.4 493.9 L209.5 493.7 L211.6 493.4 L213.6 493 L215.7 492.4 L217.8 491.8 L219.8 491 L221.9 490.3 L224 489.6 L226 488.9 L228.1 488.4 L230.2 488 L232.2 487.8 L234.3 487.8 L236.4 487.8 L238.4 487.8 L240.5 487.9 L242.6 488.1 L244.6 488.6 L246.7 489.1 L248.8 489.8 L250.8 490.5 L252.9 491.3 L254.9 492 L257 492.6 L259.1 493.1 L261.1 493.5 L263.2 493.8 L265.3 494 L267.3 494.1 L269.4 494.2 L271.5 494.3 L273.5 494.3 L275.6 494.3 L277.7 494.3 L279.7 494.4 L281.8 494.4 L283.9 494.4 L285.9 494.4 L288 494.4 L290.1 494.4 L292.1 494.4 L294.2 494.4 L294.2 494.4 Z" fill="#c3e5d1" stroke="#78c196" stroke-width="0.9" stroke-linejoin="round"/>
<line x1="227.3" y1="494.4" x2="227.3" y2="488.6" stroke="#78c196" stroke-width="0.8"/>
<line x1="236.1" y1="494.4" x2="236.1" y2="487.8" stroke="#78c196" stroke-width="0.8"/>
<line x1="245" y1="494.4" x2="245" y2="488.7" stroke="#78c196" stroke-width="0.8"/>
<line x1="203.3" y1="494.4" x2="294.2" y2="494.4" stroke="#78c196" stroke-width="0.9"/>
<text x="296.2" y="441" font-size="8.1" fill="#262626" stroke-width="0.12" textLength="21.6" lengthAdjust="spacingAndGlyphs"><tspan font-weight="bold" stroke="#1e1e1e">D1−3xF</tspan></text>
<text x="318.1" y="442.6" font-size="4.6" fill="#555" stroke-width="0.08" textLength="19" lengthAdjust="spacingAndGlyphs"><tspan font-size="4.6" fill="#555" stroke="#555">CYC-<tspan fill="#e8262c" stroke="#e8262c">AAAA</tspan></tspan></text>
<text x="296.2" y="449.8" font-size="8.1" fill="#262626" stroke-width="0.12" textLength="21.6" lengthAdjust="spacingAndGlyphs"><tspan font-weight="bold" stroke="#1e1e1e">D1−3xF</tspan></text>
<text x="318.1" y="451.4" font-size="4.6" fill="#555" stroke-width="0.08" textLength="18" lengthAdjust="spacingAndGlyphs"><tspan font-size="4.6" fill="#555" stroke="#555"><tspan fill="#e8262c" stroke="#e8262c">AAA</tspan>-YPMF</tspan></text>
<text x="296.2" y="458.6" font-size="8.1" fill="#262626" stroke-width="0.12" textLength="19.3" lengthAdjust="spacingAndGlyphs"><tspan font-style="italic">d1-50</tspan></text>
<text x="315.8" y="460.2" font-size="4.6" fill="#555" stroke-width="0.08" textLength="17.8" lengthAdjust="spacingAndGlyphs"><tspan font-size="4.6" fill="#555" stroke="#555"><tspan fill="#e8262c" stroke="#e8262c">Y</tspan>CYC-YPMF</tspan></text>
<text x="296.2" y="467.4" font-size="8.1" fill="#262626" stroke-width="0.12" textLength="19" lengthAdjust="spacingAndGlyphs"><tspan font-style="italic">d1-49</tspan></text>
<text x="315.5" y="469" font-size="4.6" fill="#555" stroke-width="0.08" textLength="9.2" lengthAdjust="spacingAndGlyphs"><tspan font-size="4.6" fill="#555" stroke="#555">G72<tspan fill="#e8262c" stroke="#e8262c">E</tspan></tspan></text>
<text x="296.2" y="476.2" font-size="8.1" fill="#262626" stroke-width="0.12" textLength="31.8" lengthAdjust="spacingAndGlyphs"><tspan font-style="italic">clsy quad</tspan></text>
<text x="296.2" y="485" font-size="8.1" fill="#262626" stroke-width="0.12" textLength="20" lengthAdjust="spacingAndGlyphs"><tspan font-style="italic">d1−51</tspan></text>
<text x="316.5" y="486.6" font-size="4.6" fill="#555" stroke-width="0.08" textLength="8.3" lengthAdjust="spacingAndGlyphs"><tspan font-size="4.6" fill="#555" stroke="#555">null</tspan></text>
<text x="296.2" y="493.8" font-size="8.1" fill="#262626" stroke-width="0.12" textLength="16.6" lengthAdjust="spacingAndGlyphs"><tspan font-style="italic">d1−3</tspan></text>
<text x="313.1" y="495.4" font-size="4.6" fill="#555" stroke-width="0.08" textLength="7.2" lengthAdjust="spacingAndGlyphs"><tspan font-size="4.6" fill="#555" stroke="#555">null</tspan></text>
<text x="192.6" y="501.9" font-size="8.8" font-weight="bold" fill="#1a1a1a"><tspan font-style="italic">clsy4</tspan>−dep n=726</text>
<rect x="190.4" y="432.3" width="147.4" height="72.2" fill="none" stroke="#333" stroke-width="1.1"/>
<line x1="166.3" y1="376.2" x2="190.5" y2="341.8" stroke="#333" stroke-width="1"/>
<line x1="166.3" y1="449" x2="190.4" y2="504.3" stroke="#333" stroke-width="1"/>
<line x1="114" y1="398.4" x2="105" y2="407.3" stroke="#e8262c" stroke-width="0.9"/><path d="M102.7 409.5 L103.9 406.1 L106.1 408.4 Z" fill="#e8262c" stroke="none" stroke-width="1"/>
<line x1="281.9" y1="361.3" x2="272.9" y2="370.3" stroke="#e8262c" stroke-width="0.9"/><path d="M270.6 372.6 L271.7 369.2 L274 371.5 Z" fill="#e8262c" stroke="none" stroke-width="1"/>
<line x1="26.2" y1="541" x2="26.2" y2="543.2" stroke="#333" stroke-width="0.8"/>
<text x="26.2" y="551.3" font-size="8.2" text-anchor="middle" fill="#4d4d4d">−15</text>
<line x1="59.6" y1="541" x2="59.6" y2="543.2" stroke="#333" stroke-width="0.8"/>
<text x="59.6" y="551.3" font-size="8.2" text-anchor="middle" fill="#4d4d4d">−10</text>
<line x1="93" y1="541" x2="93" y2="543.2" stroke="#333" stroke-width="0.8"/>
<text x="93" y="551.3" font-size="8.2" text-anchor="middle" fill="#4d4d4d">−5</text>
<line x1="126.4" y1="541" x2="126.4" y2="543.2" stroke="#333" stroke-width="0.8"/>
<text x="126.4" y="551.3" font-size="8.2" text-anchor="middle" fill="#4d4d4d">0</text>
<line x1="159.8" y1="541" x2="159.8" y2="543.2" stroke="#333" stroke-width="0.8"/>
<text x="159.8" y="551.3" font-size="8.2" text-anchor="middle" fill="#4d4d4d">5</text>
<text x="93" y="563.6" font-size="8.8" text-anchor="middle" fill="#1a1a1a">log<tspan font-size="6" dy="1.6">2</tspan><tspan dy="-1.6">(FC mut vs WT)</tspan></text>
<line x1="197.5" y1="504.5" x2="197.5" y2="506.7" stroke="#333" stroke-width="0.8"/>
<text x="197.5" y="514.8" font-size="8.2" text-anchor="middle" fill="#4d4d4d">−15</text>
<line x1="230.9" y1="504.5" x2="230.9" y2="506.7" stroke="#333" stroke-width="0.8"/>
<text x="230.9" y="514.8" font-size="8.2" text-anchor="middle" fill="#4d4d4d">−10</text>
<line x1="264.3" y1="504.5" x2="264.3" y2="506.7" stroke="#333" stroke-width="0.8"/>
<text x="264.3" y="514.8" font-size="8.2" text-anchor="middle" fill="#4d4d4d">−5</text>
<line x1="297.7" y1="504.5" x2="297.7" y2="506.7" stroke="#333" stroke-width="0.8"/>
<text x="297.7" y="514.8" font-size="8.2" text-anchor="middle" fill="#4d4d4d">0</text>
<line x1="328.8" y1="504.5" x2="328.8" y2="506.7" stroke="#333" stroke-width="0.8"/>
<text x="328.8" y="514.8" font-size="8.2" text-anchor="middle" fill="#4d4d4d">5</text>
<text x="264.3" y="525.2" font-size="8.8" text-anchor="middle" fill="#1a1a1a">log<tspan font-size="6" dy="1.6">2</tspan><tspan dy="-1.6">(FC mut vs WT)</tspan></text>
<path d="M181 262 L188 252 L200 244 L212 238 L222 232 L232 236 L240 252 L252 266 L266 282 L282 296 L298 306 L306 316 L296 321 L270 322 L240 322 L210 322 L182 321 Z" fill="#ececec" stroke="none" stroke-width="1"/>
<path d="M221.5 245.6 Q219.4 241.2 218.9 242.0 T217.7 239.7 M192.3 270.2 Q194.2 270.8 194.5 266.1 T193.4 263.6 M195.7 259.8 Q197.5 256.8 197.7 255.3 T199.5 253.0 M220.3 284.7 Q218.8 284.0 215.0 286.3 T212.4 284.3 M233.3 300.1 Q236.1 304.4 237.0 305.4 T240.3 303.5 M252.6 310.8 Q251.7 314.0 249.7 317.7 T246.8 321.1" fill="none" stroke="#a6a6a6" stroke-width="2.8" stroke-linecap="round"/>
<path d="M221.5 245.6 Q219.4 241.2 218.9 242.0 T217.7 239.7 M192.3 270.2 Q194.2 270.8 194.5 266.1 T193.4 263.6 M195.7 259.8 Q197.5 256.8 197.7 255.3 T199.5 253.0 M220.3 284.7 Q218.8 284.0 215.0 286.3 T212.4 284.3 M233.3 300.1 Q236.1 304.4 237.0 305.4 T240.3 303.5 M252.6 310.8 Q251.7 314.0 249.7 317.7 T246.8 321.1" fill="none" stroke="#f6f6f6" stroke-width="1.5" stroke-linecap="round"/>
<path d="M216.6 266.7 Q213.6 262.6 214.6 263.1 T213.1 261.1 M188.4 301.1 Q192.4 300.5 192.0 304.9 T194.8 306.4 M237.1 281.4 Q238.8 278.2 243.2 276.0 T247.6 278.1 M225.8 311.6 Q226.5 309.4 230.4 310.3 T231.2 307.6 M241.6 285.0 Q240.7 287.4 241.3 289.0 T241.7 291.4 M245.4 287.6 Q246.2 287.9 243.5 283.8 T245.4 282.0" fill="none" stroke="#a6a6a6" stroke-width="2.8" stroke-linecap="round"/>
<path d="M216.6 266.7 Q213.6 262.6 214.6 263.1 T213.1 261.1 M188.4 301.1 Q192.4 300.5 192.0 304.9 T194.8 306.4 M237.1 281.4 Q238.8 278.2 243.2 276.0 T247.6 278.1 M225.8 311.6 Q226.5 309.4 230.4 310.3 T231.2 307.6 M241.6 285.0 Q240.7 287.4 241.3 289.0 T241.7 291.4 M245.4 287.6 Q246.2 287.9 243.5 283.8 T245.4 282.0" fill="none" stroke="#f6f6f6" stroke-width="1.5" stroke-linecap="round"/>
<path d="M230.9 241.3 Q227.7 237.7 228.0 238.1 T225.8 239.4 M199.6 254.7 Q200.0 260.0 196.2 259.5 T198.2 262.4 M239.2 275.5 Q239.8 278.7 243.1 277.9 T245.8 278.0 M199.3 280.9 Q204.8 282.6 205.9 282.0 T205.4 286.0 M213.6 265.0 Q217.3 267.4 217.6 271.8 T219.5 276.1 M208.9 305.0 Q214.9 306.1 217.1 304.3 T220.2 308.1" fill="none" stroke="#a6a6a6" stroke-width="2.8" stroke-linecap="round"/>
<path d="M230.9 241.3 Q227.7 237.7 228.0 238.1 T225.8 239.4 M199.6 254.7 Q200.0 260.0 196.2 259.5 T198.2 262.4 M239.2 275.5 Q239.8 278.7 243.1 277.9 T245.8 278.0 M199.3 280.9 Q204.8 282.6 205.9 282.0 T205.4 286.0 M213.6 265.0 Q217.3 267.4 217.6 271.8 T219.5 276.1 M208.9 305.0 Q214.9 306.1 217.1 304.3 T220.2 308.1" fill="none" stroke="#f6f6f6" stroke-width="1.5" stroke-linecap="round"/>
<path d="M209.3 278.6 Q206.7 278.8 206.8 281.9 T208.7 283.5 M267.6 318.1 Q266.2 318.7 259.4 320.9 T257.6 316.0 M208.6 252.4 Q211.8 256.8 210.2 257.2 T210.0 260.2 M240.9 290.8 Q244.1 290.4 242.3 286.6 T244.2 284.8 M203.3 303.0 Q200.7 305.9 199.3 310.0 T195.0 307.9 M202.3 243.4 Q202.6 248.9 207.2 250.4 T205.4 255.2" fill="none" stroke="#a6a6a6" stroke-width="2.8" stroke-linecap="round"/>
<path d="M209.3 278.6 Q206.7 278.8 206.8 281.9 T208.7 283.5 M267.6 318.1 Q266.2 318.7 259.4 320.9 T257.6 316.0 M208.6 252.4 Q211.8 256.8 210.2 257.2 T210.0 260.2 M240.9 290.8 Q244.1 290.4 242.3 286.6 T244.2 284.8 M203.3 303.0 Q200.7 305.9 199.3 310.0 T195.0 307.9 M202.3 243.4 Q202.6 248.9 207.2 250.4 T205.4 255.2" fill="none" stroke="#f6f6f6" stroke-width="1.5" stroke-linecap="round"/>
<path d="M224.8 281.4 Q227.1 283.0 227.6 284.4 T225.9 286.1 M290.0 306.4 Q289.0 309.4 291.2 311.5 T293.7 313.4 M213.4 269.7 Q216.1 273.3 219.2 276.0 T224.0 277.8 M247.5 279.1 Q247.6 281.3 253.6 279.8 T256.0 276.9 M202.5 274.6 Q202.1 271.6 201.5 267.9 T198.8 264.8 M215.6 301.5 Q214.7 301.0 208.8 301.2 T206.2 298.0" fill="none" stroke="#a6a6a6" stroke-width="2.8" stroke-linecap="round"/>
<path d="M224.8 281.4 Q227.1 283.0 227.6 284.4 T225.9 286.1 M290.0 306.4 Q289.0 309.4 291.2 311.5 T293.7 313.4 M213.4 269.7 Q216.1 273.3 219.2 276.0 T224.0 277.8 M247.5 279.1 Q247.6 281.3 253.6 279.8 T256.0 276.9 M202.5 274.6 Q202.1 271.6 201.5 267.9 T198.8 264.8 M215.6 301.5 Q214.7 301.0 208.8 301.2 T206.2 298.0" fill="none" stroke="#f6f6f6" stroke-width="1.5" stroke-linecap="round"/>
<path d="M257.6 277.5 Q254.0 277.1 250.1 276.9 T245.7 277.3 M196.2 271.8 Q199.6 274.6 200.9 274.1 T202.8 271.6 M270.5 291.4 Q271.5 297.4 275.8 298.0 T272.1 301.4 M230.8 275.9 Q234.4 275.7 238.9 275.3 T240.9 270.9 M223.4 249.6 Q222.1 252.7 220.2 256.5 T224.3 258.6 M197.2 270.0 Q198.5 270.4 204.1 265.7 T205.2 261.0" fill="none" stroke="#a6a6a6" stroke-width="2.8" stroke-linecap="round"/>
<path d="M257.6 277.5 Q254.0 277.1 250.1 276.9 T245.7 277.3 M196.2 271.8 Q199.6 274.6 200.9 274.1 T202.8 271.6 M270.5 291.4 Q271.5 297.4 275.8 298.0 T272.1 301.4 M230.8 275.9 Q234.4 275.7 238.9 275.3 T240.9 270.9 M223.4 249.6 Q222.1 252.7 220.2 256.5 T224.3 258.6 M197.2 270.0 Q198.5 270.4 204.1 265.7 T205.2 261.0" fill="none" stroke="#f6f6f6" stroke-width="1.5" stroke-linecap="round"/>
<path d="M252.3 295.0 Q253.7 293.6 256.0 297.3 T257.0 299.7 M223.4 281.8 Q225.9 279.0 228.2 279.4 T227.9 276.2 M220.0 259.5 Q218.2 255.8 220.3 254.0 T220.5 250.7 M242.9 307.1 Q243.2 308.2 237.8 311.2 T233.9 311.5 M224.4 236.9 Q224.5 236.5 227.4 240.1 T227.4 242.7 M191.6 307.7 Q192.5 303.8 196.6 302.4 T196.9 298.0" fill="none" stroke="#a6a6a6" stroke-width="2.8" stroke-linecap="round"/>
<path d="M252.3 295.0 Q253.7 293.6 256.0 297.3 T257.0 299.7 M223.4 281.8 Q225.9 279.0 228.2 279.4 T227.9 276.2 M220.0 259.5 Q218.2 255.8 220.3 254.0 T220.5 250.7 M242.9 307.1 Q243.2 308.2 237.8 311.2 T233.9 311.5 M224.4 236.9 Q224.5 236.5 227.4 240.1 T227.4 242.7 M191.6 307.7 Q192.5 303.8 196.6 302.4 T196.9 298.0" fill="none" stroke="#f6f6f6" stroke-width="1.5" stroke-linecap="round"/>
<path d="M219.7 264.1 Q222.7 262.3 225.6 264.1 T229.1 263.9 M214.0 240.1 Q211.1 239.7 210.6 242.6 T212.0 244.7 M272.7 305.1 Q276.9 309.5 277.0 310.2 T279.5 313.3 M280.7 299.3 Q274.8 300.7 274.0 299.2 T270.6 297.2 M212.5 238.7 Q213.6 245.4 211.8 246.3 T215.2 249.4 M242.7 266.4 Q239.8 267.8 235.4 267.4 T232.1 264.5" fill="none" stroke="#a6a6a6" stroke-width="2.8" stroke-linecap="round"/>
<path d="M219.7 264.1 Q222.7 262.3 225.6 264.1 T229.1 263.9 M214.0 240.1 Q211.1 239.7 210.6 242.6 T212.0 244.7 M272.7 305.1 Q276.9 309.5 277.0 310.2 T279.5 313.3 M280.7 299.3 Q274.8 300.7 274.0 299.2 T270.6 297.2 M212.5 238.7 Q213.6 245.4 211.8 246.3 T215.2 249.4 M242.7 266.4 Q239.8 267.8 235.4 267.4 T232.1 264.5" fill="none" stroke="#f6f6f6" stroke-width="1.5" stroke-linecap="round"/>
<path d="M212.7 298.9 Q209.0 300.7 210.4 305.3 T214.3 306.7 M265.0 294.3 Q263.6 291.7 262.5 289.4 T261.2 286.4 M209.9 312.8 Q207.8 312.7 205.8 313.2 T206.1 315.6 M218.7 244.7 Q214.2 248.5 215.6 249.3 T212.3 248.9 M227.5 267.4 Q230.6 266.0 234.5 267.3 T238.2 265.5 M214.2 278.0 Q217.6 282.6 216.4 283.4 T213.3 285.1" fill="none" stroke="#a6a6a6" stroke-width="2.8" stroke-linecap="round"/>
<path d="M212.7 298.9 Q209.0 300.7 210.4 305.3 T214.3 306.7 M265.0 294.3 Q263.6 291.7 262.5 289.4 T261.2 286.4 M209.9 312.8 Q207.8 312.7 205.8 313.2 T206.1 315.6 M218.7 244.7 Q214.2 248.5 215.6 249.3 T212.3 248.9 M227.5 267.4 Q230.6 266.0 234.5 267.3 T238.2 265.5 M214.2 278.0 Q217.6 282.6 216.4 283.4 T213.3 285.1" fill="none" stroke="#f6f6f6" stroke-width="1.5" stroke-linecap="round"/>
<path d="M259.9 314.2 Q260.3 314.4 266.1 311.8 T270.0 313.1 M237.4 299.7 Q238.2 295.4 234.0 295.5 T231.2 297.1 M240.0 262.9 Q237.4 267.5 237.7 270.3 T233.3 269.1 M218.6 282.2 Q214.9 286.1 214.8 285.1 T215.3 288.0 M223.7 240.2 Q226.2 244.3 224.1 245.5 T223.6 248.6 M232.6 269.2 Q227.1 267.5 226.8 268.4 T223.5 269.6" fill="none" stroke="#a6a6a6" stroke-width="2.8" stroke-linecap="round"/>
<path d="M259.9 314.2 Q260.3 314.4 266.1 311.8 T270.0 313.1 M237.4 299.7 Q238.2 295.4 234.0 295.5 T231.2 297.1 M240.0 262.9 Q237.4 267.5 237.7 270.3 T233.3 269.1 M218.6 282.2 Q214.9 286.1 214.8 285.1 T215.3 288.0 M223.7 240.2 Q226.2 244.3 224.1 245.5 T223.6 248.6 M232.6 269.2 Q227.1 267.5 226.8 268.4 T223.5 269.6" fill="none" stroke="#f6f6f6" stroke-width="1.5" stroke-linecap="round"/>
<path d="M243.9 288.7 Q244.1 286.1 247.2 284.8 T247.2 281.8 M236.7 317.9 Q236.4 315.7 241.6 311.0 T237.6 308.0 M229.9 315.4 Q230.3 309.4 233.7 308.1 T238.3 310.1 M200.3 279.0 Q199.4 276.6 196.7 271.1 T198.2 266.1 M238.2 281.6 Q244.5 283.5 245.8 283.6 T249.7 280.9 M219.0 243.5 Q216.6 244.5 218.9 250.7 T216.3 254.1" fill="none" stroke="#a6a6a6" stroke-width="2.8" stroke-linecap="round"/>
<path d="M243.9 288.7 Q244.1 286.1 247.2 284.8 T247.2 281.8 M236.7 317.9 Q236.4 315.7 241.6 311.0 T237.6 308.0 M229.9 315.4 Q230.3 309.4 233.7 308.1 T238.3 310.1 M200.3 279.0 Q199.4 276.6 196.7 271.1 T198.2 266.1 M238.2 281.6 Q244.5 283.5 245.8 283.6 T249.7 280.9 M219.0 243.5 Q216.6 244.5 218.9 250.7 T216.3 254.1" fill="none" stroke="#f6f6f6" stroke-width="1.5" stroke-linecap="round"/>
<path d="M246.6 284.5 Q241.7 284.9 242.7 287.8 T239.8 288.9 M238.6 318.3 Q234.4 313.5 233.4 311.7 T230.0 307.9 M208.7 300.4 Q205.6 303.0 206.2 308.9 T204.8 313.9 M233.1 291.9 Q233.7 294.0 237.6 290.4 T239.9 288.6 M188.5 267.4 Q194.9 267.5 195.3 262.4 T200.3 262.9 M222.2 248.7 Q226.7 246.5 229.3 245.7 T227.8 241.3" fill="none" stroke="#a6a6a6" stroke-width="2.8" stroke-linecap="round"/>
<path d="M246.6 284.5 Q241.7 284.9 242.7 287.8 T239.8 288.9 M238.6 318.3 Q234.4 313.5 233.4 311.7 T230.0 307.9 M208.7 300.4 Q205.6 303.0 206.2 308.9 T204.8 313.9 M233.1 291.9 Q233.7 294.0 237.6 290.4 T239.9 288.6 M188.5 267.4 Q194.9 267.5 195.3 262.4 T200.3 262.9 M222.2 248.7 Q226.7 246.5 229.3 245.7 T227.8 241.3" fill="none" stroke="#f6f6f6" stroke-width="1.5" stroke-linecap="round"/>
<path d="M227.7 261.9 Q227.8 266.3 229.7 265.4 T231.9 266.2 M184.8 269.0 Q183.5 262.7 187.8 261.7 T183.6 259.5 M274.4 312.9 Q273.7 313.7 271.6 317.4 T268.7 316.0 M275.5 314.5 Q271.0 311.1 269.7 308.0 T265.6 311.3 M203.9 304.2 Q204.2 299.2 203.3 296.1 T206.8 292.7 M220.9 264.6 Q222.9 260.9 221.8 260.3 T220.0 258.4" fill="none" stroke="#a6a6a6" stroke-width="2.8" stroke-linecap="round"/>
<path d="M227.7 261.9 Q227.8 266.3 229.7 265.4 T231.9 266.2 M184.8 269.0 Q183.5 262.7 187.8 261.7 T183.6 259.5 M274.4 312.9 Q273.7 313.7 271.6 317.4 T268.7 316.0 M275.5 314.5 Q271.0 311.1 269.7 308.0 T265.6 311.3 M203.9 304.2 Q204.2 299.2 203.3 296.1 T206.8 292.7 M220.9 264.6 Q222.9 260.9 221.8 260.3 T220.0 258.4" fill="none" stroke="#f6f6f6" stroke-width="1.5" stroke-linecap="round"/>
<path d="M243.3 295.9 Q241.6 297.8 238.4 297.6 T235.9 299.3 M274.5 308.2 Q272.1 306.7 272.1 304.3 T273.6 301.9 M227.6 298.4 Q226.4 303.2 229.3 303.4 T232.1 304.7 M230.5 321.3 Q228.9 324.1 225.4 321.1 T223.8 318.4 M193.8 274.7 Q192.8 269.8 197.2 267.3 T202.1 268.2 M195.9 249.1 Q198.5 250.7 202.7 247.9 T204.2 251.8" fill="none" stroke="#a6a6a6" stroke-width="2.8" stroke-linecap="round"/>
<path d="M243.3 295.9 Q241.6 297.8 238.4 297.6 T235.9 299.3 M274.5 308.2 Q272.1 306.7 272.1 304.3 T273.6 301.9 M227.6 298.4 Q226.4 303.2 229.3 303.4 T232.1 304.7 M230.5 321.3 Q228.9 324.1 225.4 321.1 T223.8 318.4 M193.8 274.7 Q192.8 269.8 197.2 267.3 T202.1 268.2 M195.9 249.1 Q198.5 250.7 202.7 247.9 T204.2 251.8" fill="none" stroke="#f6f6f6" stroke-width="1.5" stroke-linecap="round"/>
<path d="M208.2 265.2 Q210.4 268.0 211.4 269.1 T214.4 269.4 M221.9 293.0 Q224.8 295.9 224.1 298.2 T227.4 298.9 M230.4 281.5 Q230.2 279.3 227.6 278.1 T224.9 278.6 M216.4 259.7 Q218.2 258.4 221.7 258.1 T225.1 257.8 M226.5 249.7 Q228.5 246.8 225.8 244.8 T222.8 245.2 M249.9 289.7 Q251.0 288.5 253.7 287.3 T256.3 286.8" fill="none" stroke="#a6a6a6" stroke-width="2.8" stroke-linecap="round"/>
<path d="M208.2 265.2 Q210.4 268.0 211.4 269.1 T214.4 269.4 M221.9 293.0 Q224.8 295.9 224.1 298.2 T227.4 298.9 M230.4 281.5 Q230.2 279.3 227.6 278.1 T224.9 278.6 M216.4 259.7 Q218.2 258.4 221.7 258.1 T225.1 257.8 M226.5 249.7 Q228.5 246.8 225.8 244.8 T222.8 245.2 M249.9 289.7 Q251.0 288.5 253.7 287.3 T256.3 286.8" fill="none" stroke="#f6f6f6" stroke-width="1.5" stroke-linecap="round"/>
<path d="M199.2 257.5 Q194.9 258.8 190.7 256.4 T188.4 261.0 M196.8 316.9 Q202.6 315.7 203.2 315.9 T203.1 312.0 M231.6 308.2 Q232.1 306.1 233.9 303.9 T232.7 301.1 M228.9 243.1 Q226.3 247.3 229.1 250.7 T224.7 252.1 M255.9 281.5 Q254.5 279.1 252.1 277.5 T249.2 275.8 M258.4 276.1 Q258.5 278.0 259.1 283.8 T255.7 287.1" fill="none" stroke="#a6a6a6" stroke-width="2.8" stroke-linecap="round"/>
<path d="M199.2 257.5 Q194.9 258.8 190.7 256.4 T188.4 261.0 M196.8 316.9 Q202.6 315.7 203.2 315.9 T203.1 312.0 M231.6 308.2 Q232.1 306.1 233.9 303.9 T232.7 301.1 M228.9 243.1 Q226.3 247.3 229.1 250.7 T224.7 252.1 M255.9 281.5 Q254.5 279.1 252.1 277.5 T249.2 275.8 M258.4 276.1 Q258.5 278.0 259.1 283.8 T255.7 287.1" fill="none" stroke="#f6f6f6" stroke-width="1.5" stroke-linecap="round"/>
<path d="M197.1 270.8 Q196.9 273.3 202.3 274.1 T205.3 276.3 M191.3 298.0 Q191.9 294.1 192.4 291.6 T188.7 290.3 M272.5 305.3 Q276.8 312.0 275.6 313.7 T277.6 318.7 M201.6 303.0 Q205.1 300.0 205.6 301.1 T207.1 299.1 M203.8 246.5 Q205.2 246.8 210.6 243.6 T213.5 247.0 M195.4 279.8 Q193.8 278.1 191.6 275.4 T193.2 272.3" fill="none" stroke="#a6a6a6" stroke-width="2.8" stroke-linecap="round"/>
<path d="M197.1 270.8 Q196.9 273.3 202.3 274.1 T205.3 276.3 M191.3 298.0 Q191.9 294.1 192.4 291.6 T188.7 290.3 M272.5 305.3 Q276.8 312.0 275.6 313.7 T277.6 318.7 M201.6 303.0 Q205.1 300.0 205.6 301.1 T207.1 299.1 M203.8 246.5 Q205.2 246.8 210.6 243.6 T213.5 247.0 M195.4 279.8 Q193.8 278.1 191.6 275.4 T193.2 272.3" fill="none" stroke="#f6f6f6" stroke-width="1.5" stroke-linecap="round"/>
<path d="M230.3 303.8 Q229.0 309.8 229.5 312.7 T227.7 317.8 M199.7 287.4 Q194.5 287.2 193.7 290.2 T191.1 287.2 M181.3 263.9 Q184.1 266.3 185.9 267.5 T189.3 266.8 M206.5 288.2 Q202.7 286.4 201.9 288.9 T201.0 286.2 M193.0 289.4 Q194.3 283.6 198.4 283.7 T200.5 279.4 M261.6 282.6 Q262.1 286.9 257.4 288.4 T255.5 292.4" fill="none" stroke="#a6a6a6" stroke-width="2.8" stroke-linecap="round"/>
<path d="M230.3 303.8 Q229.0 309.8 229.5 312.7 T227.7 317.8 M199.7 287.4 Q194.5 287.2 193.7 290.2 T191.1 287.2 M181.3 263.9 Q184.1 266.3 185.9 267.5 T189.3 266.8 M206.5 288.2 Q202.7 286.4 201.9 288.9 T201.0 286.2 M193.0 289.4 Q194.3 283.6 198.4 283.7 T200.5 279.4 M261.6 282.6 Q262.1 286.9 257.4 288.4 T255.5 292.4" fill="none" stroke="#f6f6f6" stroke-width="1.5" stroke-linecap="round"/>
<path d="M212.1 313.3 Q213.7 311.6 218.5 315.1 T222.5 315.0 M219.7 259.0 Q225.0 257.3 227.7 261.6 T229.5 266.3 M286.6 299.1 Q281.1 297.5 279.0 300.7 T274.7 302.4 M222.9 299.5 Q220.1 295.9 220.2 291.7 T221.8 287.1 M235.5 303.0 Q235.7 300.9 230.2 302.2 T227.6 300.4 M213.5 253.2 Q212.3 251.2 213.2 244.5 T216.8 240.7" fill="none" stroke="#a6a6a6" stroke-width="2.8" stroke-linecap="round"/>
<path d="M212.1 313.3 Q213.7 311.6 218.5 315.1 T222.5 315.0 M219.7 259.0 Q225.0 257.3 227.7 261.6 T229.5 266.3 M286.6 299.1 Q281.1 297.5 279.0 300.7 T274.7 302.4 M222.9 299.5 Q220.1 295.9 220.2 291.7 T221.8 287.1 M235.5 303.0 Q235.7 300.9 230.2 302.2 T227.6 300.4 M213.5 253.2 Q212.3 251.2 213.2 244.5 T216.8 240.7" fill="none" stroke="#f6f6f6" stroke-width="1.5" stroke-linecap="round"/>
<path d="M222.1 253.5 Q226.1 254.4 228.0 249.6 T232.3 249.8 M239.7 307.6 Q239.7 304.1 237.0 299.7 T234.5 295.4 M219.5 251.1 Q215.8 246.7 216.3 248.0 T217.6 245.7 M194.3 315.6 Q190.3 318.7 191.7 319.5 T193.9 321.2 M260.2 294.7 Q259.2 294.5 259.9 290.4 T260.4 287.9 M283.4 312.2 Q289.9 311.5 291.1 315.6 T290.2 320.5" fill="none" stroke="#a6a6a6" stroke-width="2.8" stroke-linecap="round"/>
<path d="M222.1 253.5 Q226.1 254.4 228.0 249.6 T232.3 249.8 M239.7 307.6 Q239.7 304.1 237.0 299.7 T234.5 295.4 M219.5 251.1 Q215.8 246.7 216.3 248.0 T217.6 245.7 M194.3 315.6 Q190.3 318.7 191.7 319.5 T193.9 321.2 M260.2 294.7 Q259.2 294.5 259.9 290.4 T260.4 287.9 M283.4 312.2 Q289.9 311.5 291.1 315.6 T290.2 320.5" fill="none" stroke="#f6f6f6" stroke-width="1.5" stroke-linecap="round"/>
<path d="M206.7 242.1 Q211.5 244.9 214.8 243.8 T216.5 248.5 M220.9 270.1 Q224.8 269.7 226.1 270.8 T228.8 269.1 M221.1 318.8 Q214.2 318.1 212.8 318.6 T208.3 316.6 M235.6 301.6 Q231.7 306.8 231.3 307.7 T228.3 311.1 M192.4 305.8 Q194.9 310.4 194.3 309.3 T196.7 309.6 M207.8 295.0 Q203.0 296.7 203.3 295.0 T200.8 293.9" fill="none" stroke="#a6a6a6" stroke-width="2.8" stroke-linecap="round"/>
<path d="M206.7 242.1 Q211.5 244.9 214.8 243.8 T216.5 248.5 M220.9 270.1 Q224.8 269.7 226.1 270.8 T228.8 269.1 M221.1 318.8 Q214.2 318.1 212.8 318.6 T208.3 316.6 M235.6 301.6 Q231.7 306.8 231.3 307.7 T228.3 311.1 M192.4 305.8 Q194.9 310.4 194.3 309.3 T196.7 309.6 M207.8 295.0 Q203.0 296.7 203.3 295.0 T200.8 293.9" fill="none" stroke="#f6f6f6" stroke-width="1.5" stroke-linecap="round"/>
<path d="M268.1 302.8 Q265.5 303.1 264.1 298.7 T261.1 297.0 M191.8 312.0 Q196.7 312.4 196.7 312.8 T199.2 311.0 M228.4 311.6 Q230.3 316.2 229.1 317.8 T229.1 321.6 M221.8 246.0 Q221.9 242.6 225.9 239.9 T230.2 239.0 M196.8 273.6 Q197.5 273.1 200.7 270.2 T200.2 267.1 M200.5 254.3 Q197.9 255.3 197.4 260.1 T199.7 263.4" fill="none" stroke="#a6a6a6" stroke-width="2.8" stroke-linecap="round"/>
<path d="M268.1 302.8 Q265.5 303.1 264.1 298.7 T261.1 297.0 M191.8 312.0 Q196.7 312.4 196.7 312.8 T199.2 311.0 M228.4 311.6 Q230.3 316.2 229.1 317.8 T229.1 321.6 M221.8 246.0 Q221.9 242.6 225.9 239.9 T230.2 239.0 M196.8 273.6 Q197.5 273.1 200.7 270.2 T200.2 267.1 M200.5 254.3 Q197.9 255.3 197.4 260.1 T199.7 263.4" fill="none" stroke="#f6f6f6" stroke-width="1.5" stroke-linecap="round"/>
<path d="M235.4 249.7 Q233.2 245.1 232.4 246.2 T229.7 246.4 M230.9 303.2 Q229.5 298.0 228.6 297.1 T228.9 293.2 M273.6 313.7 Q270.0 313.6 267.4 316.6 T263.5 315.2 M271.3 311.2 Q272.9 308.3 272.4 303.8 T276.7 302.5 M237.7 260.2 Q237.9 259.8 234.6 256.9 T232.3 255.5 M233.9 273.0 Q234.3 269.0 229.6 268.8 T228.7 265.3" fill="none" stroke="#a6a6a6" stroke-width="2.8" stroke-linecap="round"/>
<path d="M235.4 249.7 Q233.2 245.1 232.4 246.2 T229.7 246.4 M230.9 303.2 Q229.5 298.0 228.6 297.1 T228.9 293.2 M273.6 313.7 Q270.0 313.6 267.4 316.6 T263.5 315.2 M271.3 311.2 Q272.9 308.3 272.4 303.8 T276.7 302.5 M237.7 260.2 Q237.9 259.8 234.6 256.9 T232.3 255.5 M233.9 273.0 Q234.3 269.0 229.6 268.8 T228.7 265.3" fill="none" stroke="#f6f6f6" stroke-width="1.5" stroke-linecap="round"/>
<path d="M262.8 302.0 Q257.6 304.4 257.9 306.2 T255.2 303.4 M201.1 302.4 Q204.6 301.4 207.2 300.0 T206.9 296.0 M260.9 306.6 Q256.2 307.3 254.9 305.8 T254.9 302.2 M230.1 300.6 Q230.6 302.4 236.5 306.8 T241.6 308.5 M233.3 269.8 Q230.7 268.6 231.5 264.4 T228.4 262.8 M208.4 304.1 Q208.1 307.6 204.4 307.3 T205.3 310.2" fill="none" stroke="#a6a6a6" stroke-width="2.8" stroke-linecap="round"/>
<path d="M262.8 302.0 Q257.6 304.4 257.9 306.2 T255.2 303.4 M201.1 302.4 Q204.6 301.4 207.2 300.0 T206.9 296.0 M260.9 306.6 Q256.2 307.3 254.9 305.8 T254.9 302.2 M230.1 300.6 Q230.6 302.4 236.5 306.8 T241.6 308.5 M233.3 269.8 Q230.7 268.6 231.5 264.4 T228.4 262.8 M208.4 304.1 Q208.1 307.6 204.4 307.3 T205.3 310.2" fill="none" stroke="#f6f6f6" stroke-width="1.5" stroke-linecap="round"/>
<path d="M260.8 305.7 Q262.4 300.5 263.4 299.9 T262.5 296.2 M228.0 254.8 Q227.1 254.6 223.6 257.0 T225.0 259.6 M211.6 259.2 Q209.5 258.7 205.5 260.0 T202.0 258.8 M212.3 241.1 Q212.9 241.1 215.5 245.2 T214.8 248.2 M202.0 312.2 Q201.3 311.4 195.8 307.2 T194.2 302.8 M214.1 253.1 Q215.9 253.4 218.2 258.0 T221.5 256.1" fill="none" stroke="#a6a6a6" stroke-width="2.8" stroke-linecap="round"/>
<path d="M260.8 305.7 Q262.4 300.5 263.4 299.9 T262.5 296.2 M228.0 254.8 Q227.1 254.6 223.6 257.0 T225.0 259.6 M211.6 259.2 Q209.5 258.7 205.5 260.0 T202.0 258.8 M212.3 241.1 Q212.9 241.1 215.5 245.2 T214.8 248.2 M202.0 312.2 Q201.3 311.4 195.8 307.2 T194.2 302.8 M214.1 253.1 Q215.9 253.4 218.2 258.0 T221.5 256.1" fill="none" stroke="#f6f6f6" stroke-width="1.5" stroke-linecap="round"/>
<path d="M242.4 276.8 Q240.4 275.6 234.4 274.8 T233.2 279.6 M251.3 291.9 Q255.7 286.9 254.5 286.9 T255.6 283.6 M260.6 289.3 Q266.7 288.9 267.6 290.5 T270.6 293.4 M241.6 312.8 Q244.3 315.8 249.0 314.4 T252.7 317.0 M226.8 274.7 Q222.5 273.6 219.0 273.5 T215.6 276.7 M250.3 306.4 Q249.2 309.0 248.1 314.3 T248.3 319.1" fill="none" stroke="#a6a6a6" stroke-width="2.8" stroke-linecap="round"/>
<path d="M242.4 276.8 Q240.4 275.6 234.4 274.8 T233.2 279.6 M251.3 291.9 Q255.7 286.9 254.5 286.9 T255.6 283.6 M260.6 289.3 Q266.7 288.9 267.6 290.5 T270.6 293.4 M241.6 312.8 Q244.3 315.8 249.0 314.4 T252.7 317.0 M226.8 274.7 Q222.5 273.6 219.0 273.5 T215.6 276.7 M250.3 306.4 Q249.2 309.0 248.1 314.3 T248.3 319.1" fill="none" stroke="#f6f6f6" stroke-width="1.5" stroke-linecap="round"/>
<path d="M244.3 319.7 Q241.0 315.3 239.8 313.2 T235.5 311.2 M254.3 289.1 Q257.1 287.4 255.2 285.0 T257.2 283.5 M187.2 259.0 Q190.3 260.1 192.2 259.2 T192.7 262.1 M279.6 313.9 Q278.1 312.2 274.2 309.3 T272.3 305.5 M277.8 314.3 Q277.9 312.2 274.6 309.4 T276.0 306.2 M213.3 259.2 Q211.6 263.1 208.3 261.8 T205.8 264.0" fill="none" stroke="#a6a6a6" stroke-width="2.8" stroke-linecap="round"/>
<path d="M244.3 319.7 Q241.0 315.3 239.8 313.2 T235.5 311.2 M254.3 289.1 Q257.1 287.4 255.2 285.0 T257.2 283.5 M187.2 259.0 Q190.3 260.1 192.2 259.2 T192.7 262.1 M279.6 313.9 Q278.1 312.2 274.2 309.3 T272.3 305.5 M277.8 314.3 Q277.9 312.2 274.6 309.4 T276.0 306.2 M213.3 259.2 Q211.6 263.1 208.3 261.8 T205.8 264.0" fill="none" stroke="#f6f6f6" stroke-width="1.5" stroke-linecap="round"/>
<path d="M187.8 283.1 Q190.5 286.2 192.3 284.2 T193.2 286.8 M229.4 285.3 Q233.0 281.2 237.6 281.9 T242.4 279.5 M181.6 293.5 Q187.0 294.4 188.0 299.7 T192.5 296.9" fill="none" stroke="#a6a6a6" stroke-width="2.8" stroke-linecap="round"/>
<path d="M187.8 283.1 Q190.5 286.2 192.3 284.2 T193.2 286.8 M229.4 285.3 Q233.0 281.2 237.6 281.9 T242.4 279.5 M181.6 293.5 Q187.0 294.4 188.0 299.7 T192.5 296.9" fill="none" stroke="#f6f6f6" stroke-width="1.5" stroke-linecap="round"/>
<path d="M181.2 302.8 Q178.6 307.0 181.4 308.0 T184.1 309.5 M188.2 279.6 Q186.0 279.4 185.2 275.8 T182.8 274.0 M187.1 286.2 Q189.4 287.8 188.1 289.9 T187.0 291.8 M181.8 308.4 Q184.4 308.9 182.3 304.8 T183.2 302.7 M182.8 267.7 Q186.4 268.3 185.5 269.3 T187.0 270.6 M187.0 281.6 Q188.3 280.4 183.7 282.7 T182.9 280.7" fill="none" stroke="#7a7a7a" stroke-width="2.0" stroke-linecap="round"/>
<path d="M181.2 302.8 Q178.6 307.0 181.4 308.0 T184.1 309.5 M188.2 279.6 Q186.0 279.4 185.2 275.8 T182.8 274.0 M187.1 286.2 Q189.4 287.8 188.1 289.9 T187.0 291.8 M181.8 308.4 Q184.4 308.9 182.3 304.8 T183.2 302.7 M182.8 267.7 Q186.4 268.3 185.5 269.3 T187.0 270.6 M187.0 281.6 Q188.3 280.4 183.7 282.7 T182.9 280.7" fill="none" stroke="#c8c8c8" stroke-width="1.0" stroke-linecap="round"/>
<path d="M187.8 262.9 Q186.9 262.5 186.1 266.2 T187.7 267.9 M183.1 265.3 Q180.6 261.2 181.8 262.6 T182.2 260.8 M181.9 316.4 Q182.2 316.3 184.5 312.3 T185.8 309.6 M182.3 312.6 Q180.7 316.7 181.9 316.8 T184.0 318.2 M186.1 265.0 Q185.5 264.9 188.4 269.8 T187.6 272.9 M182.6 262.7 Q180.2 266.6 182.6 268.1 T185.9 268.4" fill="none" stroke="#7a7a7a" stroke-width="2.0" stroke-linecap="round"/>
<path d="M187.8 262.9 Q186.9 262.5 186.1 266.2 T187.7 267.9 M183.1 265.3 Q180.6 261.2 181.8 262.6 T182.2 260.8 M181.9 316.4 Q182.2 316.3 184.5 312.3 T185.8 309.6 M182.3 312.6 Q180.7 316.7 181.9 316.8 T184.0 318.2 M186.1 265.0 Q185.5 264.9 188.4 269.8 T187.6 272.9 M182.6 262.7 Q180.2 266.6 182.6 268.1 T185.9 268.4" fill="none" stroke="#c8c8c8" stroke-width="1.0" stroke-linecap="round"/>
<path d="M182.2 294.5 Q184.8 291.1 184.4 291.8 T186.1 290.6 M184.5 283.3 Q188.4 283.1 186.9 279.5 T187.6 276.8 M181.5 289.6 Q183.8 289.7 187.1 288.1 T188.8 285.1 M186.8 273.3 Q188.5 272.3 185.1 269.8 T184.4 267.7 M182.1 294.6 Q184.1 294.2 186.5 293.4 T187.9 291.1 M182.3 264.1 Q182.4 263.9 185.0 266.9 T187.0 268.1" fill="none" stroke="#7a7a7a" stroke-width="2.0" stroke-linecap="round"/>
<path d="M182.2 294.5 Q184.8 291.1 184.4 291.8 T186.1 290.6 M184.5 283.3 Q188.4 283.1 186.9 279.5 T187.6 276.8 M181.5 289.6 Q183.8 289.7 187.1 288.1 T188.8 285.1 M186.8 273.3 Q188.5 272.3 185.1 269.8 T184.4 267.7 M182.1 294.6 Q184.1 294.2 186.5 293.4 T187.9 291.1 M182.3 264.1 Q182.4 263.9 185.0 266.9 T187.0 268.1" fill="none" stroke="#c8c8c8" stroke-width="1.0" stroke-linecap="round"/>
<path d="M214.0 236.0 q4 -2 8 0 t8 0" fill="none" stroke="#9c9c9c" stroke-width="3.0"/>
<path d="M214.0 236.0 q4 -2 8 0 t8 0" fill="none" stroke="#e4e4e4" stroke-width="1.8"/>
<path d="M215.2 239.4 q4 -2 8 0 t8 0" fill="none" stroke="#9c9c9c" stroke-width="3.0"/>
<path d="M215.2 239.4 q4 -2 8 0 t8 0" fill="none" stroke="#e4e4e4" stroke-width="1.8"/>
<path d="M216.4 242.8 q4 -2 8 0 t8 0" fill="none" stroke="#9c9c9c" stroke-width="3.0"/>
<path d="M216.4 242.8 q4 -2 8 0 t8 0" fill="none" stroke="#e4e4e4" stroke-width="1.8"/>
<path d="M217.6 246.2 q4 -2 8 0 t8 0" fill="none" stroke="#9c9c9c" stroke-width="3.0"/>
<path d="M217.6 246.2 q4 -2 8 0 t8 0" fill="none" stroke="#e4e4e4" stroke-width="1.8"/>
<path d="M218.8 249.6 q4 -2 8 0 t8 0" fill="none" stroke="#9c9c9c" stroke-width="3.0"/>
<path d="M218.8 249.6 q4 -2 8 0 t8 0" fill="none" stroke="#e4e4e4" stroke-width="1.8"/>
<path d="M230.4 241.1 Q233.0 236.6 233.8 235.7 T236.6 233.0 M261.5 237.2 Q257.3 234.7 255.4 235.3 T251.6 234.5 M237.1 239.6 Q233.8 243.9 232.4 243.8 T234.9 246.7 M237.9 241.6 Q234.1 243.4 232.8 241.9 T232.6 238.8 M262.9 223.1 Q262.2 227.5 260.1 227.7 T257.2 229.2 M267.1 239.8 Q266.7 238.0 266.6 232.9 T269.5 229.8" fill="none" stroke="#86c2c2" stroke-width="3.0" stroke-linecap="round"/>
<path d="M230.4 241.1 Q233.0 236.6 233.8 235.7 T236.6 233.0 M261.5 237.2 Q257.3 234.7 255.4 235.3 T251.6 234.5 M237.1 239.6 Q233.8 243.9 232.4 243.8 T234.9 246.7 M237.9 241.6 Q234.1 243.4 232.8 241.9 T232.6 238.8 M262.9 223.1 Q262.2 227.5 260.1 227.7 T257.2 229.2 M267.1 239.8 Q266.7 238.0 266.6 232.9 T269.5 229.8" fill="none" stroke="#d3f0f0" stroke-width="1.7" stroke-linecap="round"/>
<path d="M250.9 260.3 Q250.6 259.7 245.8 257.8 T245.1 254.5 M245.0 236.8 Q241.0 238.0 238.3 238.6 T235.8 241.9 M245.2 230.8 Q245.7 225.3 246.9 223.6 T248.0 219.3 M241.2 222.7 Q240.9 220.2 235.6 219.8 T233.1 222.6 M250.9 258.3 Q251.4 255.4 251.8 252.2 T255.4 252.9 M260.3 233.9 Q261.0 237.5 256.3 238.9 T255.5 242.6" fill="none" stroke="#86c2c2" stroke-width="3.0" stroke-linecap="round"/>
<path d="M250.9 260.3 Q250.6 259.7 245.8 257.8 T245.1 254.5 M245.0 236.8 Q241.0 238.0 238.3 238.6 T235.8 241.9 M245.2 230.8 Q245.7 225.3 246.9 223.6 T248.0 219.3 M241.2 222.7 Q240.9 220.2 235.6 219.8 T233.1 222.6 M250.9 258.3 Q251.4 255.4 251.8 252.2 T255.4 252.9 M260.3 233.9 Q261.0 237.5 256.3 238.9 T255.5 242.6" fill="none" stroke="#d3f0f0" stroke-width="1.7" stroke-linecap="round"/>
<path d="M252.3 220.6 Q250.7 224.8 248.3 224.5 T245.5 226.4 M248.0 244.7 Q252.6 242.7 253.4 244.6 T256.6 244.8 M267.3 239.6 Q272.1 244.9 273.1 244.4 T274.3 248.8 M270.4 235.4 Q271.9 235.6 273.3 239.7 T274.9 242.3 M235.1 245.0 Q233.8 240.6 230.8 241.7 T232.8 239.1 M255.3 246.7 Q254.9 250.4 257.3 252.4 T257.9 255.9" fill="none" stroke="#86c2c2" stroke-width="3.0" stroke-linecap="round"/>
<path d="M252.3 220.6 Q250.7 224.8 248.3 224.5 T245.5 226.4 M248.0 244.7 Q252.6 242.7 253.4 244.6 T256.6 244.8 M267.3 239.6 Q272.1 244.9 273.1 244.4 T274.3 248.8 M270.4 235.4 Q271.9 235.6 273.3 239.7 T274.9 242.3 M235.1 245.0 Q233.8 240.6 230.8 241.7 T232.8 239.1 M255.3 246.7 Q254.9 250.4 257.3 252.4 T257.9 255.9" fill="none" stroke="#d3f0f0" stroke-width="1.7" stroke-linecap="round"/>
<path d="M231.3 220.6 Q233.5 225.1 234.2 226.0 T232.4 229.1 M264.5 230.8 Q262.5 225.8 263.4 225.6 T260.3 224.6 M271.2 242.8 Q266.8 247.5 267.8 247.5 T266.9 250.9 M269.8 238.3 Q269.6 234.0 271.1 233.5 T269.0 231.4 M254.1 221.3 Q248.8 218.4 248.7 220.1 T245.3 220.4 M267.3 232.2 Q265.8 231.7 267.4 236.9 T269.3 239.1" fill="none" stroke="#86c2c2" stroke-width="3.0" stroke-linecap="round"/>
<path d="M231.3 220.6 Q233.5 225.1 234.2 226.0 T232.4 229.1 M264.5 230.8 Q262.5 225.8 263.4 225.6 T260.3 224.6 M271.2 242.8 Q266.8 247.5 267.8 247.5 T266.9 250.9 M269.8 238.3 Q269.6 234.0 271.1 233.5 T269.0 231.4 M254.1 221.3 Q248.8 218.4 248.7 220.1 T245.3 220.4 M267.3 232.2 Q265.8 231.7 267.4 236.9 T269.3 239.1" fill="none" stroke="#d3f0f0" stroke-width="1.7" stroke-linecap="round"/>
<path d="M259.2 231.7 Q259.7 236.5 263.0 237.4 T266.9 236.1 M232.4 236.4 Q233.4 234.6 236.1 230.2 T233.9 226.5 M251.2 226.5 Q247.6 229.5 246.9 227.8 T244.4 226.8 M255.4 232.9 Q257.7 233.9 255.5 239.4 T258.7 241.6 M251.7 241.0 Q252.1 244.9 250.7 248.0 T251.8 252.1 M241.5 233.9 Q242.5 236.1 245.6 236.4 T245.3 239.2" fill="none" stroke="#86c2c2" stroke-width="3.0" stroke-linecap="round"/>
<path d="M259.2 231.7 Q259.7 236.5 263.0 237.4 T266.9 236.1 M232.4 236.4 Q233.4 234.6 236.1 230.2 T233.9 226.5 M251.2 226.5 Q247.6 229.5 246.9 227.8 T244.4 226.8 M255.4 232.9 Q257.7 233.9 255.5 239.4 T258.7 241.6 M251.7 241.0 Q252.1 244.9 250.7 248.0 T251.8 252.1 M241.5 233.9 Q242.5 236.1 245.6 236.4 T245.3 239.2" fill="none" stroke="#d3f0f0" stroke-width="1.7" stroke-linecap="round"/>
<path d="M243.6 235.0 Q243.8 231.2 239.9 229.3 T235.9 228.5 M257.4 224.4 Q261.6 224.1 263.2 229.4 T263.6 234.0 M228.0 223.5 Q226.1 224.8 229.7 228.4 T231.7 230.8 M260.2 232.1 Q262.6 229.3 267.6 232.1 T270.3 235.5 M240.1 220.1 Q243.9 220.6 245.4 218.3 T247.2 221.2 M267.5 244.9 Q265.1 245.6 263.5 246.1 T261.1 245.3" fill="none" stroke="#86c2c2" stroke-width="3.0" stroke-linecap="round"/>
<path d="M243.6 235.0 Q243.8 231.2 239.9 229.3 T235.9 228.5 M257.4 224.4 Q261.6 224.1 263.2 229.4 T263.6 234.0 M228.0 223.5 Q226.1 224.8 229.7 228.4 T231.7 230.8 M260.2 232.1 Q262.6 229.3 267.6 232.1 T270.3 235.5 M240.1 220.1 Q243.9 220.6 245.4 218.3 T247.2 221.2 M267.5 244.9 Q265.1 245.6 263.5 246.1 T261.1 245.3" fill="none" stroke="#d3f0f0" stroke-width="1.7" stroke-linecap="round"/>
<path d="M261.1 253.1 Q261.7 256.4 260.7 259.2 T257.0 259.2 M238.5 218.7 Q235.6 218.8 234.9 223.1 T235.9 226.4 M261.3 246.8 Q261.2 251.9 261.7 251.8 T261.8 254.8 M243.6 229.8 Q244.3 230.1 247.0 226.7 T249.4 225.4 M253.4 251.0 Q254.8 255.5 256.7 256.8 T257.4 260.7 M240.5 232.6 Q239.2 235.8 241.6 236.7 T243.7 238.1" fill="none" stroke="#86c2c2" stroke-width="3.0" stroke-linecap="round"/>
<path d="M261.1 253.1 Q261.7 256.4 260.7 259.2 T257.0 259.2 M238.5 218.7 Q235.6 218.8 234.9 223.1 T235.9 226.4 M261.3 246.8 Q261.2 251.9 261.7 251.8 T261.8 254.8 M243.6 229.8 Q244.3 230.1 247.0 226.7 T249.4 225.4 M253.4 251.0 Q254.8 255.5 256.7 256.8 T257.4 260.7 M240.5 232.6 Q239.2 235.8 241.6 236.7 T243.7 238.1" fill="none" stroke="#d3f0f0" stroke-width="1.7" stroke-linecap="round"/>
<path d="M248.4 221.2 Q245.1 221.2 245.8 226.4 T245.6 230.0 M261.9 261.1 Q259.4 258.4 257.8 259.4 T255.3 258.4 M272.0 245.6 Q267.8 241.3 266.6 240.1 T265.3 235.6 M264.7 254.6 Q266.1 259.5 263.4 259.2 T261.5 261.3 M267.5 250.1 Q265.3 251.5 265.3 254.3 T262.5 254.5 M253.6 233.0 Q255.2 231.6 256.0 228.7 T253.6 226.9" fill="none" stroke="#86c2c2" stroke-width="3.0" stroke-linecap="round"/>
<path d="M248.4 221.2 Q245.1 221.2 245.8 226.4 T245.6 230.0 M261.9 261.1 Q259.4 258.4 257.8 259.4 T255.3 258.4 M272.0 245.6 Q267.8 241.3 266.6 240.1 T265.3 235.6 M264.7 254.6 Q266.1 259.5 263.4 259.2 T261.5 261.3 M267.5 250.1 Q265.3 251.5 265.3 254.3 T262.5 254.5 M253.6 233.0 Q255.2 231.6 256.0 228.7 T253.6 226.9" fill="none" stroke="#d3f0f0" stroke-width="1.7" stroke-linecap="round"/>
<path d="M241.0 242.7 Q243.6 247.2 246.9 246.0 T250.3 243.8 M248.0 224.8 Q249.8 224.5 247.3 220.8 T249.2 219.4 M247.3 229.0 Q244.7 226.1 244.1 223.9 T241.5 221.4 M259.3 254.0 Q260.9 253.1 263.1 251.4 T264.0 248.7 M243.4 225.0 Q248.5 228.8 248.0 227.7 T250.9 228.9 M259.9 236.6 Q263.3 237.8 265.6 240.0 T269.6 240.5" fill="none" stroke="#86c2c2" stroke-width="3.0" stroke-linecap="round"/>
<path d="M241.0 242.7 Q243.6 247.2 246.9 246.0 T250.3 243.8 M248.0 224.8 Q249.8 224.5 247.3 220.8 T249.2 219.4 M247.3 229.0 Q244.7 226.1 244.1 223.9 T241.5 221.4 M259.3 254.0 Q260.9 253.1 263.1 251.4 T264.0 248.7 M243.4 225.0 Q248.5 228.8 248.0 227.7 T250.9 228.9 M259.9 236.6 Q263.3 237.8 265.6 240.0 T269.6 240.5" fill="none" stroke="#d3f0f0" stroke-width="1.7" stroke-linecap="round"/>
<path d="M252.5 242.0 Q253.1 243.6 249.0 244.7 T249.2 247.3 M254.6 221.2 Q250.9 218.4 248.3 220.7 T247.1 224.3 M248.0 255.7 Q242.4 257.6 241.5 253.6 T239.7 249.8 M267.5 234.0 Q271.0 235.3 271.2 240.9 T272.6 245.4" fill="none" stroke="#86c2c2" stroke-width="3.0" stroke-linecap="round"/>
<path d="M252.5 242.0 Q253.1 243.6 249.0 244.7 T249.2 247.3 M254.6 221.2 Q250.9 218.4 248.3 220.7 T247.1 224.3 M248.0 255.7 Q242.4 257.6 241.5 253.6 T239.7 249.8 M267.5 234.0 Q271.0 235.3 271.2 240.9 T272.6 245.4" fill="none" stroke="#d3f0f0" stroke-width="1.7" stroke-linecap="round"/>
<circle cx="251" cy="234.8" r="2.2" fill="#6a6cc0" stroke="#3a3c80" stroke-width="0.4"/>
<line x1="251" y1="233" x2="254.5" y2="226.5" stroke="#222" stroke-width="0.5"/>
<text x="246.3" y="224.3" font-size="6.2" font-weight="bold" text-anchor="start" fill="#9c9cec">Gly72</text>
<path d="M269.4 266.6 Q271.6 268.2 276.3 267.3 T279.2 264.2 M278.4 292.4 Q277.9 291.8 272.4 286.7 T269.5 282.5 M274.4 286.2 Q271.9 283.9 271.0 278.8 T266.1 279.2 M262.8 275.4 Q264.6 271.8 264.3 271.1 T267.0 271.5 M267.3 270.3 Q266.2 265.1 270.9 264.5 T268.3 261.2 M296.4 257.3 Q293.1 254.2 291.3 255.4 T289.4 252.8" fill="none" stroke="#b98bcb" stroke-width="3.0" stroke-linecap="round"/>
<path d="M269.4 266.6 Q271.6 268.2 276.3 267.3 T279.2 264.2 M278.4 292.4 Q277.9 291.8 272.4 286.7 T269.5 282.5 M274.4 286.2 Q271.9 283.9 271.0 278.8 T266.1 279.2 M262.8 275.4 Q264.6 271.8 264.3 271.1 T267.0 271.5 M267.3 270.3 Q266.2 265.1 270.9 264.5 T268.3 261.2 M296.4 257.3 Q293.1 254.2 291.3 255.4 T289.4 252.8" fill="none" stroke="#e4bdee" stroke-width="1.7" stroke-linecap="round"/>
<path d="M300.0 274.9 Q295.6 270.2 297.0 267.5 T301.2 265.1 M265.2 273.1 Q266.1 272.1 270.8 267.4 T267.7 263.7 M290.6 267.6 Q287.6 270.2 285.9 268.4 T284.2 266.0 M287.3 251.8 Q286.6 251.3 284.9 256.3 T281.9 255.7 M285.8 264.7 Q286.2 263.0 292.0 265.5 T291.6 269.3 M290.2 261.6 Q290.1 265.0 289.3 268.1 T291.5 271.2" fill="none" stroke="#b98bcb" stroke-width="3.0" stroke-linecap="round"/>
<path d="M300.0 274.9 Q295.6 270.2 297.0 267.5 T301.2 265.1 M265.2 273.1 Q266.1 272.1 270.8 267.4 T267.7 263.7 M290.6 267.6 Q287.6 270.2 285.9 268.4 T284.2 266.0 M287.3 251.8 Q286.6 251.3 284.9 256.3 T281.9 255.7 M285.8 264.7 Q286.2 263.0 292.0 265.5 T291.6 269.3 M290.2 261.6 Q290.1 265.0 289.3 268.1 T291.5 271.2" fill="none" stroke="#e4bdee" stroke-width="1.7" stroke-linecap="round"/>
<path d="M295.0 291.6 Q294.7 286.8 296.1 284.5 T298.5 280.9 M282.4 279.8 Q277.8 281.5 278.4 285.2 T277.1 289.0 M281.1 266.4 Q279.0 266.0 281.3 271.5 T282.9 274.2 M299.8 270.7 Q294.6 269.2 293.4 273.0 T291.1 276.4 M272.5 263.4 Q271.0 262.6 271.5 256.7 T275.3 255.5 M286.0 252.0 Q286.6 256.8 289.0 258.2 T285.3 260.1" fill="none" stroke="#b98bcb" stroke-width="3.0" stroke-linecap="round"/>
<path d="M295.0 291.6 Q294.7 286.8 296.1 284.5 T298.5 280.9 M282.4 279.8 Q277.8 281.5 278.4 285.2 T277.1 289.0 M281.1 266.4 Q279.0 266.0 281.3 271.5 T282.9 274.2 M299.8 270.7 Q294.6 269.2 293.4 273.0 T291.1 276.4 M272.5 263.4 Q271.0 262.6 271.5 256.7 T275.3 255.5 M286.0 252.0 Q286.6 256.8 289.0 258.2 T285.3 260.1" fill="none" stroke="#e4bdee" stroke-width="1.7" stroke-linecap="round"/>
<path d="M278.6 291.4 Q280.1 291.3 284.4 294.1 T283.9 297.9 M270.9 283.2 Q272.1 288.3 272.1 289.1 T275.3 290.5 M273.7 285.5 Q270.9 280.4 270.1 280.6 T269.9 277.0 M292.8 264.5 Q296.4 263.3 296.7 267.1 T299.2 265.6 M297.1 269.2 Q294.6 268.9 290.3 267.5 T286.5 265.8 M279.8 261.9 Q272.5 261.1 271.1 260.6 T268.5 265.1" fill="none" stroke="#b98bcb" stroke-width="3.0" stroke-linecap="round"/>
<path d="M278.6 291.4 Q280.1 291.3 284.4 294.1 T283.9 297.9 M270.9 283.2 Q272.1 288.3 272.1 289.1 T275.3 290.5 M273.7 285.5 Q270.9 280.4 270.1 280.6 T269.9 277.0 M292.8 264.5 Q296.4 263.3 296.7 267.1 T299.2 265.6 M297.1 269.2 Q294.6 268.9 290.3 267.5 T286.5 265.8 M279.8 261.9 Q272.5 261.1 271.1 260.6 T268.5 265.1" fill="none" stroke="#e4bdee" stroke-width="1.7" stroke-linecap="round"/>
<path d="M266.5 284.9 Q270.3 282.2 270.8 282.6 T269.6 280.0 M288.5 265.2 Q291.9 259.9 290.5 259.2 T289.6 255.6 M289.0 268.1 Q289.9 269.0 291.8 264.9 T293.9 263.3 M267.8 286.0 Q264.3 284.2 264.3 281.7 T266.9 279.6 M290.8 277.9 Q285.7 281.2 284.2 279.9 T281.7 276.6 M275.3 287.0 Q279.9 283.9 278.5 283.3 T281.3 284.2" fill="none" stroke="#b98bcb" stroke-width="3.0" stroke-linecap="round"/>
<path d="M266.5 284.9 Q270.3 282.2 270.8 282.6 T269.6 280.0 M288.5 265.2 Q291.9 259.9 290.5 259.2 T289.6 255.6 M289.0 268.1 Q289.9 269.0 291.8 264.9 T293.9 263.3 M267.8 286.0 Q264.3 284.2 264.3 281.7 T266.9 279.6 M290.8 277.9 Q285.7 281.2 284.2 279.9 T281.7 276.6 M275.3 287.0 Q279.9 283.9 278.5 283.3 T281.3 284.2" fill="none" stroke="#e4bdee" stroke-width="1.7" stroke-linecap="round"/>
<path d="M266.1 282.1 Q269.8 286.0 270.9 285.2 T269.8 288.4 M269.3 287.6 Q266.9 285.2 267.7 283.7 T266.8 281.4 M281.4 254.8 Q277.1 257.3 277.0 256.9 T274.1 256.5 M282.0 253.6 Q279.2 254.5 278.1 258.8 T274.6 257.2 M293.1 261.6 Q291.5 264.1 295.5 266.4 T298.5 265.6 M277.6 275.8 Q277.2 277.6 275.0 278.9 T272.6 279.5" fill="none" stroke="#b98bcb" stroke-width="3.0" stroke-linecap="round"/>
<path d="M266.1 282.1 Q269.8 286.0 270.9 285.2 T269.8 288.4 M269.3 287.6 Q266.9 285.2 267.7 283.7 T266.8 281.4 M281.4 254.8 Q277.1 257.3 277.0 256.9 T274.1 256.5 M282.0 253.6 Q279.2 254.5 278.1 258.8 T274.6 257.2 M293.1 261.6 Q291.5 264.1 295.5 266.4 T298.5 265.6 M277.6 275.8 Q277.2 277.6 275.0 278.9 T272.6 279.5" fill="none" stroke="#e4bdee" stroke-width="1.7" stroke-linecap="round"/>
<path d="M284.3 282.5 Q287.9 281.0 292.7 281.6 T296.8 284.4 M276.6 267.3 Q271.6 269.2 272.6 269.8 T271.1 267.4 M287.3 266.8 Q289.5 271.0 287.6 271.8 T290.5 272.7 M291.3 264.2 Q292.1 258.5 287.2 258.9 T283.4 257.6 M293.8 290.7 Q288.8 291.2 286.9 290.2 T287.2 286.1 M293.7 266.9 Q293.7 265.1 292.3 261.1 T291.7 257.6" fill="none" stroke="#b98bcb" stroke-width="3.0" stroke-linecap="round"/>
<path d="M284.3 282.5 Q287.9 281.0 292.7 281.6 T296.8 284.4 M276.6 267.3 Q271.6 269.2 272.6 269.8 T271.1 267.4 M287.3 266.8 Q289.5 271.0 287.6 271.8 T290.5 272.7 M291.3 264.2 Q292.1 258.5 287.2 258.9 T283.4 257.6 M293.8 290.7 Q288.8 291.2 286.9 290.2 T287.2 286.1 M293.7 266.9 Q293.7 265.1 292.3 261.1 T291.7 257.6" fill="none" stroke="#e4bdee" stroke-width="1.7" stroke-linecap="round"/>
<path d="M273.5 279.4 Q269.6 281.2 268.5 278.1 T266.1 276.3 M280.7 284.1 Q275.4 286.2 274.4 283.2 T271.6 285.8 M283.4 274.2 Q277.4 275.4 275.4 272.8 T271.6 275.8 M280.1 280.0 Q279.3 275.6 284.1 272.5 T289.1 273.0 M296.6 274.1 Q297.4 275.9 292.3 275.4 T290.2 276.9 M279.6 271.9 Q281.8 267.4 281.9 264.5 T278.5 261.3" fill="none" stroke="#b98bcb" stroke-width="3.0" stroke-linecap="round"/>
<path d="M273.5 279.4 Q269.6 281.2 268.5 278.1 T266.1 276.3 M280.7 284.1 Q275.4 286.2 274.4 283.2 T271.6 285.8 M283.4 274.2 Q277.4 275.4 275.4 272.8 T271.6 275.8 M280.1 280.0 Q279.3 275.6 284.1 272.5 T289.1 273.0 M296.6 274.1 Q297.4 275.9 292.3 275.4 T290.2 276.9 M279.6 271.9 Q281.8 267.4 281.9 264.5 T278.5 261.3" fill="none" stroke="#e4bdee" stroke-width="1.7" stroke-linecap="round"/>
<path d="M283.0 259.9 Q278.1 260.2 279.1 264.0 T277.8 267.2 M285.4 250.9 Q286.0 252.8 288.7 257.7 T292.9 259.5 M296.9 265.6 Q292.5 270.7 291.7 270.2 T288.4 267.7 M292.2 266.6 Q292.3 263.5 289.3 261.7 T286.1 262.9" fill="none" stroke="#b98bcb" stroke-width="3.0" stroke-linecap="round"/>
<path d="M283.0 259.9 Q278.1 260.2 279.1 264.0 T277.8 267.2 M285.4 250.9 Q286.0 252.8 288.7 257.7 T292.9 259.5 M296.9 265.6 Q292.5 270.7 291.7 270.2 T288.4 267.7 M292.2 266.6 Q292.3 263.5 289.3 261.7 T286.1 262.9" fill="none" stroke="#e4bdee" stroke-width="1.7" stroke-linecap="round"/>
<circle cx="276" cy="271.5" r="2.2" fill="#f0521e" stroke="#c03a10" stroke-width="0.4"/>
<circle cx="280" cy="270" r="2.4" fill="#f0521e" stroke="#c03a10" stroke-width="0.4"/>
<circle cx="284" cy="268.5" r="2.4" fill="#f0521e" stroke="#c03a10" stroke-width="0.4"/>
<circle cx="287" cy="271" r="2.5" fill="#f0521e" stroke="#c03a10" stroke-width="0.4"/>
<circle cx="290" cy="274" r="2.4" fill="#f0521e" stroke="#c03a10" stroke-width="0.4"/>
<circle cx="286" cy="276" r="2.3" fill="#f0521e" stroke="#c03a10" stroke-width="0.4"/>
<circle cx="291" cy="279" r="2.4" fill="#f0521e" stroke="#c03a10" stroke-width="0.4"/>
<circle cx="288" cy="282" r="2.3" fill="#f0521e" stroke="#c03a10" stroke-width="0.4"/>
<circle cx="293" cy="283" r="2.2" fill="#f0521e" stroke="#c03a10" stroke-width="0.4"/>
<circle cx="296" cy="277" r="2.3" fill="#f0521e" stroke="#c03a10" stroke-width="0.4"/>
<circle cx="283" cy="279" r="2.2" fill="#f0521e" stroke="#c03a10" stroke-width="0.4"/>
<circle cx="281" cy="274" r="2.2" fill="#f0521e" stroke="#c03a10" stroke-width="0.4"/>
<circle cx="296" cy="271" r="2.2" fill="#f0521e" stroke="#c03a10" stroke-width="0.4"/>
<circle cx="298" cy="267" r="2.2" fill="#f8b23a" stroke="#d08a20" stroke-width="0.4"/>
<circle cx="302" cy="266" r="2.3" fill="#f8b23a" stroke="#d08a20" stroke-width="0.4"/>
<circle cx="305.5" cy="267.5" r="2.2" fill="#f8b23a" stroke="#d08a20" stroke-width="0.4"/>
<circle cx="300" cy="270" r="2.0" fill="#f8b23a" stroke="#d08a20" stroke-width="0.4"/>
<circle cx="303.5" cy="270.5" r="2.1" fill="#f8b23a" stroke="#d08a20" stroke-width="0.4"/>
<circle cx="300.5" cy="268" r="1.8" fill="#f2e03a"/>
<line x1="303.5" y1="255.5" x2="300.8" y2="267.5" stroke="#222" stroke-width="0.5"/>
<text x="292.8" y="253.3" font-size="6.4" font-weight="bold" text-anchor="start" fill="#f2e03a">Cys118</text>
<circle cx="199.7" cy="278.5" r="1.8" fill="#f6f2c6" stroke="#cfcb9a" stroke-width="0.3"/>
<circle cx="202" cy="277" r="1.6" fill="#f6f2c6" stroke="#cfcb9a" stroke-width="0.3"/>
<circle cx="201" cy="280.5" r="1.6" fill="#f6f2c6" stroke="#cfcb9a" stroke-width="0.3"/>
<circle cx="204" cy="279.5" r="1.4" fill="#f6f2c6" stroke="#cfcb9a" stroke-width="0.3"/>
<circle cx="205" cy="281" r="1.2" fill="#2a9a8a"/>
<path d="M214 271 L215.4 273 L216.7 275 L218.1 276.9 L219.5 278.7 L220.9 280.3 L222.2 281.6 L223.6 282.8 L225 283.6 L226.3 284.2 L227.7 284.5 L229.1 284.5 L230.5 284.3 L231.8 283.9 L233.2 283.2 L234.6 282.4 L235.9 281.5 L237.3 280.4 L238.7 279.4 L240.1 278.3 L241.4 277.4 L242.8 276.5 L244.2 275.8 L245.5 275.3 L246.9 275 L248.3 275 L249.7 275.2 L251 275.6 L252.4 276.4 L253.8 277.4 L255.1 278.6 L256.5 280 L257.9 281.6 L259.3 283.3 L260.6 285.1 L262 287 L263.4 288.8 L264.7 290.6 L266.1 292.3 L267.5 293.8 L268.9 295.2 L270.2 296.3 L271.6 297.2 L273 297.8 L274.3 298.1 L275.7 298.1 L277.1 297.9 L278.5 297.4 L279.8 296.6 L281.2 295.7 L282.6 294.6 L283.9 293.4 L285.3 292.1 L286.7 290.7 L288.1 289.4 L289.4 288.1 L290.8 287 L292.2 286 L293.5 285.2 L294.9 284.6 L296.3 284.3 L297.7 284.2 L299 284.4 L300.4 284.9 L301.8 285.6 L303.1 286.5 L304.5 287.7 L305.9 289 L307.3 290.5 L308.6 292.1 L310 293.7" fill="none" stroke="#3876b4" stroke-width="2.4" stroke-linejoin="round"/>
<path d="M214 277.9 L215.4 277.4 L216.7 276.7 L218.1 275.9 L219.5 275 L220.9 274 L222.2 273 L223.6 272 L225 271.2 L226.3 270.4 L227.7 269.8 L229.1 269.4 L230.5 269.3 L231.8 269.4 L233.2 269.7 L234.6 270.3 L235.9 271.2 L237.3 272.4 L238.7 273.7 L240.1 275.3 L241.4 277 L242.8 278.9 L244.2 280.8 L245.5 282.8 L246.9 284.7 L248.3 286.6 L249.7 288.3 L251 289.9 L252.4 291.3 L253.8 292.5 L255.1 293.4 L256.5 294.1 L257.9 294.4 L259.3 294.5 L260.6 294.3 L262 293.9 L263.4 293.2 L264.7 292.3 L266.1 291.3 L267.5 290.1 L268.9 288.9 L270.2 287.7 L271.6 286.4 L273 285.3 L274.3 284.3 L275.7 283.4 L277.1 282.8 L278.5 282.3 L279.8 282.1 L281.2 282.2 L282.6 282.6 L283.9 283.2 L285.3 284 L286.7 285.1 L288.1 286.4 L289.4 287.8 L290.8 289.4 L292.2 291 L293.5 292.7 L294.9 294.3 L296.3 295.9 L297.7 297.4 L299 298.7 L300.4 299.8 L301.8 300.7 L303.1 301.4 L304.5 301.7 L305.9 301.9 L307.3 301.7 L308.6 301.3 L310 300.6" fill="none" stroke="#3876b4" stroke-width="2.4" stroke-linejoin="round"/>
<line x1="216.7" y1="275" x2="216.7" y2="276.7" stroke="#5a92c8" stroke-width="1.3"/>
<line x1="220.9" y1="280.3" x2="220.9" y2="274" stroke="#5a92c8" stroke-width="1.3"/>
<line x1="225" y1="283.6" x2="225" y2="271.2" stroke="#5a92c8" stroke-width="1.3"/>
<line x1="229.1" y1="284.5" x2="229.1" y2="269.4" stroke="#5a92c8" stroke-width="1.3"/>
<line x1="233.2" y1="283.2" x2="233.2" y2="269.7" stroke="#5a92c8" stroke-width="1.3"/>
<line x1="237.3" y1="280.4" x2="237.3" y2="272.4" stroke="#5a92c8" stroke-width="1.3"/>
<line x1="241.4" y1="277.4" x2="241.4" y2="277" stroke="#5a92c8" stroke-width="1.3"/>
<line x1="245.5" y1="275.3" x2="245.5" y2="282.8" stroke="#5a92c8" stroke-width="1.3"/>
<line x1="249.7" y1="275.2" x2="249.7" y2="288.3" stroke="#5a92c8" stroke-width="1.3"/>
<line x1="253.8" y1="277.4" x2="253.8" y2="292.5" stroke="#5a92c8" stroke-width="1.3"/>
<line x1="257.9" y1="281.6" x2="257.9" y2="294.4" stroke="#5a92c8" stroke-width="1.3"/>
<line x1="262" y1="287" x2="262" y2="293.9" stroke="#5a92c8" stroke-width="1.3"/>
<line x1="266.1" y1="292.3" x2="266.1" y2="291.3" stroke="#5a92c8" stroke-width="1.3"/>
<line x1="270.2" y1="296.3" x2="270.2" y2="287.7" stroke="#5a92c8" stroke-width="1.3"/>
<line x1="274.3" y1="298.1" x2="274.3" y2="284.3" stroke="#5a92c8" stroke-width="1.3"/>
<line x1="278.5" y1="297.4" x2="278.5" y2="282.3" stroke="#5a92c8" stroke-width="1.3"/>
<line x1="282.6" y1="294.6" x2="282.6" y2="282.6" stroke="#5a92c8" stroke-width="1.3"/>
<line x1="286.7" y1="290.7" x2="286.7" y2="285.1" stroke="#5a92c8" stroke-width="1.3"/>
<line x1="290.8" y1="287" x2="290.8" y2="289.4" stroke="#5a92c8" stroke-width="1.3"/>
<line x1="294.9" y1="284.6" x2="294.9" y2="294.3" stroke="#5a92c8" stroke-width="1.3"/>
<line x1="299" y1="284.4" x2="299" y2="298.7" stroke="#5a92c8" stroke-width="1.3"/>
<line x1="303.1" y1="286.5" x2="303.1" y2="301.4" stroke="#5a92c8" stroke-width="1.3"/>
<line x1="307.3" y1="290.5" x2="307.3" y2="301.7" stroke="#5a92c8" stroke-width="1.3"/>
<path d="M304 293 L309 300 L308 307 L310 316" fill="none" stroke="#3876b4" stroke-width="2.2"/>
<path d="M312 292 L313 298 L311 305" fill="none" stroke="#3876b4" stroke-width="1.6"/>
<path d="M200 265 Q205 258 213 259 T228 258" fill="none" stroke="#3876b4" stroke-width="3.2"/>
<path d="M210 262 Q216 266 222 263" fill="none" stroke="#3876b4" stroke-width="2.4"/>
<path d="M217.5 244 Q226 252 224 262 Q220 270 211 274 Q203 280 206 290 Q208 296 216 299 Q221 306 214 313 Q206 318 209 322" fill="none" stroke="#e5141a" stroke-width="2.8"/>
<line x1="213" y1="262" x2="223" y2="259" stroke="#e5141a" stroke-width="1.6"/>
<line x1="211" y1="266" x2="222" y2="264" stroke="#e5141a" stroke-width="1.6"/>
<line x1="209" y1="270" x2="218" y2="270" stroke="#e5141a" stroke-width="1.6"/>
<line x1="206" y1="277" x2="213" y2="277" stroke="#e5141a" stroke-width="1.6"/>
<line x1="205" y1="283" x2="211" y2="283" stroke="#e5141a" stroke-width="1.6"/>
<line x1="206" y1="288" x2="212" y2="290" stroke="#e5141a" stroke-width="1.6"/>
<line x1="210" y1="296" x2="216" y2="296" stroke="#e5141a" stroke-width="1.6"/>
<line x1="209" y1="303" x2="216" y2="303" stroke="#e5141a" stroke-width="1.6"/>
<line x1="207" y1="309" x2="213" y2="309" stroke="#e5141a" stroke-width="1.6"/>
<line x1="205" y1="315" x2="210" y2="314" stroke="#e5141a" stroke-width="1.6"/>
<text x="189.8" y="233.3" font-size="8.6" font-weight="bold" fill="#fafafa" stroke="#9a9a9a" stroke-width="0.6">NRPD1</text>
<text x="186.6" y="303.5" font-size="8.8" font-weight="bold" text-anchor="start" fill="#e5141a">RNA</text>
<text x="285" y="315.1" font-size="8.8" font-weight="bold" text-anchor="start" fill="#4a8acc">DNA</text>
<text x="254.3" y="207.2" font-size="8.6" font-weight="bold" text-anchor="start" fill="#5a64b0">NRPD1</text>
<text x="254.3" y="214.2" font-size="8.7" font-weight="bold" text-anchor="start" fill="#5a64b0">clamp core</text>
<text x="294.9" y="228.7" font-size="8.6" font-weight="bold" text-anchor="start" fill="#f06a30">NRPD1</text>
<text x="294.9" y="235.9" font-size="8.7" font-weight="bold" fill="#f9a947">clamp <tspan fill="#d9dc3c">head</tspan></text>
<path d="M234.3 205.6 L233.7 203.4 L331.3 257.6 L330.4 259.4" fill="none" stroke="#333" stroke-width="0.8"/>
<line x1="282" y1="230.2" x2="281.2" y2="232.2" stroke="#333" stroke-width="0.7"/>
<text x="550.5" y="8.4" font-size="15" font-weight="bold" text-anchor="start" fill="#000">c</text>
<line x1="596.3" y1="95.4" x2="684" y2="95.4" stroke="#f4f4f4" stroke-width="0.5"/>
<line x1="596.3" y1="82.3" x2="684" y2="82.3" stroke="#ebebeb" stroke-width="0.8"/>
<line x1="596.3" y1="69.2" x2="684" y2="69.2" stroke="#f4f4f4" stroke-width="0.5"/>
<line x1="596.3" y1="56" x2="684" y2="56" stroke="#ebebeb" stroke-width="0.8"/>
<line x1="596.3" y1="42.8" x2="684" y2="42.8" stroke="#f4f4f4" stroke-width="0.5"/>
<line x1="596.3" y1="29.7" x2="684" y2="29.7" stroke="#ebebeb" stroke-width="0.8"/>
<line x1="596.3" y1="16.5" x2="684" y2="16.5" stroke="#f4f4f4" stroke-width="0.5"/>
<rect x="599" y="47" width="12.6" height="62.5" fill="#8f8f8f" stroke="none" stroke-width="1"/>
<rect x="613" y="99" width="12.6" height="10.5" fill="#b3e0c8" stroke="none" stroke-width="1"/>
<rect x="627" y="61.9" width="12.4" height="47.6" fill="#67bf4e" stroke="none" stroke-width="1"/>
<rect x="641" y="100.6" width="12.4" height="8.9" fill="#fbb552" stroke="none" stroke-width="1"/>
<rect x="655" y="104.4" width="12" height="5.1" fill="#ef6a2a" stroke="none" stroke-width="1"/>
<rect x="668.6" y="106.6" width="12.4" height="2.9" fill="#e867a6" stroke="none" stroke-width="1"/>
<line x1="605.3" y1="14.4" x2="605.3" y2="80" stroke="#333" stroke-width="0.7"/><line x1="602.9" y1="14.4" x2="607.7" y2="14.4" stroke="#333" stroke-width="0.7"/><line x1="602.9" y1="80" x2="607.7" y2="80" stroke="#333" stroke-width="0.7"/>
<circle cx="605.3" cy="33.2" r="1.2" fill="#111"/>
<circle cx="605.3" cy="57.6" r="1.2" fill="#111"/>
<line x1="619.3" y1="98.2" x2="619.3" y2="99.8" stroke="#333" stroke-width="0.7"/><line x1="617.8" y1="98.2" x2="620.8" y2="98.2" stroke="#333" stroke-width="0.7"/><line x1="617.8" y1="99.8" x2="620.8" y2="99.8" stroke="#333" stroke-width="0.7"/>
<circle cx="619.3" cy="99.2" r="1.2" fill="#111"/>
<line x1="633.2" y1="50.4" x2="633.2" y2="73.3" stroke="#333" stroke-width="0.7"/><line x1="630.8" y1="50.4" x2="635.6" y2="50.4" stroke="#333" stroke-width="0.7"/><line x1="630.8" y1="73.3" x2="635.6" y2="73.3" stroke="#333" stroke-width="0.7"/>
<circle cx="633.2" cy="36" r="1.2" fill="#111"/>
<circle cx="633.2" cy="67" r="1.2" fill="#111"/>
<circle cx="633.2" cy="68.8" r="1.2" fill="#111"/>
<circle cx="632.6" cy="69.8" r="1.2" fill="#111"/>
<line x1="647.2" y1="92.6" x2="647.2" y2="108" stroke="#333" stroke-width="0.7"/><line x1="644.8" y1="92.6" x2="649.6" y2="92.6" stroke="#333" stroke-width="0.7"/><line x1="644.8" y1="108" x2="649.6" y2="108" stroke="#333" stroke-width="0.7"/>
<circle cx="647.2" cy="92.8" r="1.2" fill="#111"/>
<circle cx="647.2" cy="100.5" r="1.2" fill="#111"/>
<circle cx="647.2" cy="102.5" r="1.2" fill="#111"/>
<circle cx="647.4" cy="103.8" r="1.2" fill="#111"/>
<line x1="661" y1="103.4" x2="661" y2="105.2" stroke="#333" stroke-width="0.7"/><line x1="659.4" y1="103.4" x2="662.6" y2="103.4" stroke="#333" stroke-width="0.7"/><line x1="659.4" y1="105.2" x2="662.6" y2="105.2" stroke="#333" stroke-width="0.7"/>
<circle cx="661" cy="104.4" r="1.2" fill="#111"/>
<circle cx="661.5" cy="104.9" r="1.2" fill="#111"/>
<line x1="674.8" y1="106" x2="674.8" y2="107.2" stroke="#333" stroke-width="0.7"/><line x1="673.3" y1="106" x2="676.3" y2="106" stroke="#333" stroke-width="0.7"/><line x1="673.3" y1="107.2" x2="676.3" y2="107.2" stroke="#333" stroke-width="0.7"/>
<circle cx="674.8" cy="106.6" r="1.2" fill="#111"/>
<line x1="596.3" y1="20.5" x2="596.3" y2="110.9" stroke="#111" stroke-width="1"/>
<line x1="595.8" y1="110.9" x2="684.5" y2="110.9" stroke="#111" stroke-width="1"/>
<line x1="593.7" y1="29.7" x2="596.3" y2="29.7" stroke="#111" stroke-width="0.9"/>
<text x="592.7" y="32.4" font-size="7.6" font-weight="bold" text-anchor="end" fill="#1a1a1a">0.075</text>
<line x1="593.7" y1="56" x2="596.3" y2="56" stroke="#111" stroke-width="0.9"/>
<text x="592.7" y="58.7" font-size="7.6" font-weight="bold" text-anchor="end" fill="#1a1a1a">0.050</text>
<line x1="593.7" y1="82.3" x2="596.3" y2="82.3" stroke="#111" stroke-width="0.9"/>
<text x="592.7" y="85" font-size="7.6" font-weight="bold" text-anchor="end" fill="#1a1a1a">0.025</text>
<text x="570" y="66.6" font-size="6.35" text-anchor="middle" fill="#1a1a1a" stroke-width="0.05" transform="rotate(-90 570 66.6)"><tspan font-weight="bold">Chop-qPCR</tspan><tspan fill="#555" stroke="#555"> (digested / undigested)</tspan></text>
<line x1="621" y1="15.9" x2="676" y2="15.9" stroke="#111" stroke-width="1.2"/>
<path d="M631 16.2 L633.4 14.1 L662.3 14.1 L662.3 18.3 L633.4 18.3 Z" fill="#fff" stroke="#111" stroke-width="0.95" stroke-linejoin="round"/>
<rect x="645.2" y="12.4" width="3.1" height="7" fill="#111" stroke="none" stroke-width="1"/>
<text x="646.5" y="25.4" font-size="6.4" font-style="italic" text-anchor="middle" fill="#333">AtSN1</text>
<text x="646.6" y="5.6" font-size="7" text-anchor="middle" fill="#222">HaeIII</text>
<line x1="643.9" y1="7" x2="646" y2="13.4" stroke="#333" stroke-width="0.6"/>
<line x1="649.4" y1="7" x2="647.4" y2="13.4" stroke="#333" stroke-width="0.6"/>
<path d="M636.2 10 L632.2 8.1 L632.2 11.9 Z" fill="#111" stroke="none" stroke-width="1"/>
<path d="M660 10 L664 8.1 L664 11.9 Z" fill="#111" stroke="none" stroke-width="1"/>
<text x="608.9" y="118" font-size="7.3" text-anchor="end" fill="#1c1c1c" stroke="#1c1c1c" stroke-width="0.1" transform="rotate(-60 608.9 118)">Col-0<tspan font-size="5.4" dy="1.5" fill="#262626">WT</tspan></text>
<text x="622.9" y="118" font-size="7.3" text-anchor="end" fill="#1c1c1c" stroke="#1c1c1c" stroke-width="0.1" transform="rotate(-60 622.9 118)"><tspan font-style="italic">nrpd1-3</tspan></text>
<text x="636.8" y="118" font-size="7.3" text-anchor="end" fill="#1c1c1c" stroke="#1c1c1c" stroke-width="0.1" transform="rotate(-60 636.8 118)">WT</text>
<text x="650.8" y="118" font-size="7.3" text-anchor="end" fill="#1c1c1c" stroke="#1c1c1c" stroke-width="0.1" transform="rotate(-60 650.8 118)"><tspan fill="#e8262c" stroke="#e8262c">AAA</tspan>-YPMF</text>
<text x="664.6" y="118" font-size="7.3" text-anchor="end" fill="#1c1c1c" stroke="#1c1c1c" stroke-width="0.1" transform="rotate(-60 664.6 118)">CYC-<tspan fill="#e8262c" stroke="#e8262c">AAAA</tspan></text>
<text x="678.4" y="118" font-size="7.3" text-anchor="end" fill="#1c1c1c" stroke="#1c1c1c" stroke-width="0.1" transform="rotate(-60 678.4 118)"><tspan font-style="italic">clsy quad</tspan></text>
<line x1="622" y1="152.9" x2="649.6" y2="152.9" stroke="#111" stroke-width="1.1"/>
<text x="636.8" y="162" font-size="7.6" text-anchor="middle" fill="#262626">NRPD1-3xF</text>
<text x="370.1" y="187.2" font-size="15" font-weight="bold" text-anchor="start" fill="#000">d</text>
<line x1="402.5" y1="273.7" x2="486" y2="273.7" stroke="#f4f4f4" stroke-width="0.5"/>
<line x1="402.5" y1="256" x2="486" y2="256" stroke="#ebebeb" stroke-width="0.8"/>
<line x1="402.5" y1="238.4" x2="486" y2="238.4" stroke="#f4f4f4" stroke-width="0.5"/>
<line x1="402.5" y1="220.7" x2="486" y2="220.7" stroke="#ebebeb" stroke-width="0.8"/>
<rect x="405.2" y="287.2" width="11.7" height="4.7" fill="#8f8f8f" stroke="none" stroke-width="1"/>
<rect x="418.7" y="231.2" width="11.2" height="60.7" fill="#b3e0c8" stroke="none" stroke-width="1"/>
<rect x="431.5" y="285" width="12.1" height="6.9" fill="#67bf4e" stroke="none" stroke-width="1"/>
<rect x="445.1" y="270.1" width="11.7" height="21.8" fill="#fbb552" stroke="none" stroke-width="1"/>
<rect x="458.5" y="242.3" width="11.6" height="49.6" fill="#ef6a2a" stroke="none" stroke-width="1"/>
<rect x="472" y="220.6" width="11.7" height="71.3" fill="#e867a6" stroke="none" stroke-width="1"/>
<line x1="410.8" y1="285" x2="410.8" y2="288.7" stroke="#333" stroke-width="0.7"/><line x1="408.4" y1="285" x2="413.2" y2="285" stroke="#333" stroke-width="0.7"/><line x1="408.4" y1="288.7" x2="413.2" y2="288.7" stroke="#333" stroke-width="0.7"/>
<circle cx="410.8" cy="286.2" r="1.2" fill="#111"/>
<circle cx="410.8" cy="287.3" r="1.2" fill="#111"/>
<circle cx="410.8" cy="288.3" r="1.2" fill="#111"/>
<circle cx="410.8" cy="286.8" r="1.2" fill="#111"/>
<line x1="424.3" y1="221.3" x2="424.3" y2="241" stroke="#333" stroke-width="0.7"/><line x1="421.9" y1="221.3" x2="426.7" y2="221.3" stroke="#333" stroke-width="0.7"/><line x1="421.9" y1="241" x2="426.7" y2="241" stroke="#333" stroke-width="0.7"/>
<circle cx="424.3" cy="205.2" r="1.2" fill="#111"/>
<circle cx="424.3" cy="207.6" r="1.2" fill="#111"/>
<circle cx="424.3" cy="226.5" r="1.2" fill="#111"/>
<circle cx="424.3" cy="233" r="1.2" fill="#111"/>
<circle cx="424.3" cy="241.4" r="1.2" fill="#111"/>
<circle cx="424.3" cy="257.2" r="1.2" fill="#111"/>
<line x1="437.6" y1="283.1" x2="437.6" y2="286.8" stroke="#333" stroke-width="0.7"/><line x1="435.2" y1="283.1" x2="440" y2="283.1" stroke="#333" stroke-width="0.7"/><line x1="435.2" y1="286.8" x2="440" y2="286.8" stroke="#333" stroke-width="0.7"/>
<circle cx="437.6" cy="280" r="1.2" fill="#111"/>
<circle cx="437.6" cy="283" r="1.2" fill="#111"/>
<circle cx="437.6" cy="284.2" r="1.2" fill="#111"/>
<circle cx="437.6" cy="285.6" r="1.2" fill="#111"/>
<line x1="451" y1="268.3" x2="451" y2="272" stroke="#333" stroke-width="0.7"/><line x1="448.6" y1="268.3" x2="453.4" y2="268.3" stroke="#333" stroke-width="0.7"/><line x1="448.6" y1="272" x2="453.4" y2="272" stroke="#333" stroke-width="0.7"/>
<circle cx="451" cy="260.5" r="1.2" fill="#111"/>
<circle cx="451" cy="266.4" r="1.2" fill="#111"/>
<circle cx="451" cy="268.4" r="1.2" fill="#111"/>
<circle cx="451" cy="270" r="1.2" fill="#111"/>
<circle cx="451" cy="272" r="1.2" fill="#111"/>
<line x1="464.3" y1="236.2" x2="464.3" y2="248.4" stroke="#333" stroke-width="0.7"/><line x1="461.9" y1="236.2" x2="466.7" y2="236.2" stroke="#333" stroke-width="0.7"/><line x1="461.9" y1="248.4" x2="466.7" y2="248.4" stroke="#333" stroke-width="0.7"/>
<circle cx="464.3" cy="224.7" r="1.2" fill="#111"/>
<circle cx="464.3" cy="231.7" r="1.2" fill="#111"/>
<circle cx="464.3" cy="234.3" r="1.2" fill="#111"/>
<circle cx="464.3" cy="244.2" r="1.2" fill="#111"/>
<circle cx="464.3" cy="249.4" r="1.2" fill="#111"/>
<circle cx="464.3" cy="258.1" r="1.2" fill="#111"/>
<line x1="477.9" y1="213.6" x2="477.9" y2="227.5" stroke="#333" stroke-width="0.7"/><line x1="475.5" y1="213.6" x2="480.3" y2="213.6" stroke="#333" stroke-width="0.7"/><line x1="475.5" y1="227.5" x2="480.3" y2="227.5" stroke="#333" stroke-width="0.7"/>
<circle cx="477.9" cy="200.6" r="1.2" fill="#111"/>
<circle cx="477.9" cy="222.8" r="1.2" fill="#111"/>
<circle cx="477.9" cy="227.5" r="1.2" fill="#111"/>
<circle cx="477.9" cy="232.1" r="1.2" fill="#111"/>
<line x1="402.5" y1="203" x2="402.5" y2="292.6" stroke="#111" stroke-width="1"/>
<line x1="402" y1="292.6" x2="485.5" y2="292.6" stroke="#111" stroke-width="1"/>
<line x1="399.9" y1="220.7" x2="402.5" y2="220.7" stroke="#111" stroke-width="0.9"/>
<text x="398.7" y="223.4" font-size="7.6" font-weight="bold" text-anchor="end" fill="#1a1a1a">0.02</text>
<line x1="399.9" y1="256" x2="402.5" y2="256" stroke="#111" stroke-width="0.9"/>
<text x="398.7" y="258.7" font-size="7.6" font-weight="bold" text-anchor="end" fill="#1a1a1a">0.01</text>
<text x="382" y="242.4" font-size="6.3" font-weight="bold" text-anchor="middle" fill="#1a1a1a" transform="rotate(-90 382 242.4)">RT-qPCR <tspan font-style="italic">(AtSN1 / UBQ10)</tspan></text>
<line x1="420.7" y1="193.9" x2="473.9" y2="193.9" stroke="#111" stroke-width="1.2"/>
<path d="M430.1 193.9 L432.6 191.7 L461.2 191.7 Q462.7 191.7 462.7 193.9 Q462.7 196.1 461.2 196.1 L432.6 196.1 Z" fill="#fff" stroke="#111" stroke-width="0.95" stroke-linejoin="round"/>
<path d="M453.2 188.3 L450 186.7 L450 189.9 Z" fill="#111" stroke="none" stroke-width="1"/>
<path d="M458.2 188.3 L461.4 186.7 L461.4 189.9 Z" fill="#111" stroke="none" stroke-width="1"/>
<text x="457" y="183.6" font-size="6.9" text-anchor="middle" fill="#222">RT-qPCR</text>
<text x="446.4" y="202" font-size="6" font-style="italic" text-anchor="middle" fill="#333">AtSN1</text>
<text x="414.4" y="300" font-size="7.3" text-anchor="end" fill="#1c1c1c" stroke="#1c1c1c" stroke-width="0.1" transform="rotate(-60 414.4 300)">Col-0<tspan font-size="5.4" dy="1.5" fill="#262626">WT</tspan></text>
<text x="427.9" y="300" font-size="7.3" text-anchor="end" fill="#1c1c1c" stroke="#1c1c1c" stroke-width="0.1" transform="rotate(-60 427.9 300)"><tspan font-style="italic">nrpd1-3</tspan></text>
<text x="441.2" y="300" font-size="7.3" text-anchor="end" fill="#1c1c1c" stroke="#1c1c1c" stroke-width="0.1" transform="rotate(-60 441.2 300)">WT</text>
<text x="454.6" y="300" font-size="7.3" text-anchor="end" fill="#1c1c1c" stroke="#1c1c1c" stroke-width="0.1" transform="rotate(-60 454.6 300)"><tspan fill="#e8262c" stroke="#e8262c">AAA</tspan>-YPMF</text>
<text x="467.9" y="300" font-size="7.3" text-anchor="end" fill="#1c1c1c" stroke="#1c1c1c" stroke-width="0.1" transform="rotate(-60 467.9 300)">CYC-<tspan fill="#e8262c" stroke="#e8262c">AAAA</tspan></text>
<text x="481.5" y="300" font-size="7.3" text-anchor="end" fill="#1c1c1c" stroke="#1c1c1c" stroke-width="0.1" transform="rotate(-60 481.5 300)"><tspan font-style="italic">clsy quad</tspan></text>
<line x1="427" y1="334" x2="456.5" y2="334" stroke="#111" stroke-width="1.1"/>
<text x="443.8" y="343.2" font-size="7.6" text-anchor="middle" fill="#262626">NRPD1-3xF</text>
<text x="504.7" y="186.3" font-size="15" font-weight="bold" text-anchor="start" fill="#000">e</text>
<line x1="530.1" y1="277.4" x2="681" y2="277.4" stroke="#f4f4f4" stroke-width="0.5"/>
<line x1="530.1" y1="263.4" x2="681" y2="263.4" stroke="#ebebeb" stroke-width="0.8"/>
<line x1="530.1" y1="249.4" x2="681" y2="249.4" stroke="#f4f4f4" stroke-width="0.5"/>
<line x1="530.1" y1="235.4" x2="681" y2="235.4" stroke="#ebebeb" stroke-width="0.8"/>
<line x1="530.1" y1="221.4" x2="681" y2="221.4" stroke="#f4f4f4" stroke-width="0.5"/>
<rect x="605.6" y="286.8" width="11.2" height="5.1" fill="#8f8f8f" stroke="none" stroke-width="1"/>
<rect x="618" y="219" width="11" height="72.9" fill="#b3e0c8" stroke="none" stroke-width="1"/>
<rect x="630.1" y="284" width="11" height="7.9" fill="#67bf4e" stroke="none" stroke-width="1"/>
<rect x="642.5" y="241.9" width="11.2" height="50" fill="#fbb552" stroke="none" stroke-width="1"/>
<rect x="654.9" y="266.4" width="11" height="25.5" fill="#ef6a2a" stroke="none" stroke-width="1"/>
<rect x="667.5" y="240.7" width="11" height="51.2" fill="#e867a6" stroke="none" stroke-width="1"/>
<rect x="532.3" y="291.2" width="11.2" height="0.7" fill="#8f8f8f" stroke="none" stroke-width="1"/>
<line x1="536.5" y1="291" x2="539.3" y2="291" stroke="#111" stroke-width="0.6"/>
<circle cx="537.9" cy="291.2" r="1.1" fill="#111"/>
<rect x="543.9" y="291.2" width="11.2" height="0.7" fill="#b3e0c8" stroke="none" stroke-width="1"/>
<line x1="548.1" y1="291" x2="550.9" y2="291" stroke="#111" stroke-width="0.6"/>
<circle cx="549.5" cy="291.2" r="1.1" fill="#111"/>
<rect x="556.3" y="291.2" width="11.2" height="0.7" fill="#67bf4e" stroke="none" stroke-width="1"/>
<line x1="560.5" y1="291" x2="563.3" y2="291" stroke="#111" stroke-width="0.6"/>
<circle cx="561.9" cy="291.2" r="1.1" fill="#111"/>
<rect x="568.5" y="291.2" width="11.2" height="0.7" fill="#fbb552" stroke="none" stroke-width="1"/>
<line x1="572.7" y1="291" x2="575.5" y2="291" stroke="#111" stroke-width="0.6"/>
<circle cx="574.1" cy="291.2" r="1.1" fill="#111"/>
<rect x="580.6" y="291.2" width="11.2" height="0.7" fill="#ef6a2a" stroke="none" stroke-width="1"/>
<line x1="584.8" y1="291" x2="587.6" y2="291" stroke="#111" stroke-width="0.6"/>
<circle cx="586.2" cy="291.2" r="1.1" fill="#111"/>
<rect x="593" y="291.2" width="11.2" height="0.7" fill="#e867a6" stroke="none" stroke-width="1"/>
<line x1="597.2" y1="291" x2="600" y2="291" stroke="#111" stroke-width="0.6"/>
<circle cx="598.6" cy="291.2" r="1.1" fill="#111"/>
<line x1="611.2" y1="285.5" x2="611.2" y2="287.3" stroke="#333" stroke-width="0.7"/><line x1="608.8" y1="285.5" x2="613.6" y2="285.5" stroke="#333" stroke-width="0.7"/><line x1="608.8" y1="287.3" x2="613.6" y2="287.3" stroke="#333" stroke-width="0.7"/>
<circle cx="611.2" cy="286.3" r="1.2" fill="#111"/>
<circle cx="611.2" cy="286.9" r="1.2" fill="#111"/>
<line x1="623.6" y1="214.3" x2="623.6" y2="222.5" stroke="#333" stroke-width="0.7"/><line x1="621.2" y1="214.3" x2="626" y2="214.3" stroke="#333" stroke-width="0.7"/><line x1="621.2" y1="222.5" x2="626" y2="222.5" stroke="#333" stroke-width="0.7"/>
<circle cx="623.6" cy="214.3" r="1.2" fill="#111"/>
<circle cx="623.6" cy="219" r="1.2" fill="#111"/>
<circle cx="623.6" cy="222" r="1.2" fill="#111"/>
<line x1="635.6" y1="283.2" x2="635.6" y2="284.8" stroke="#333" stroke-width="0.7"/><line x1="633.2" y1="283.2" x2="638" y2="283.2" stroke="#333" stroke-width="0.7"/><line x1="633.2" y1="284.8" x2="638" y2="284.8" stroke="#333" stroke-width="0.7"/>
<circle cx="635.6" cy="283.6" r="1.2" fill="#111"/>
<circle cx="635.6" cy="284.3" r="1.2" fill="#111"/>
<line x1="648.1" y1="234.2" x2="648.1" y2="249.4" stroke="#333" stroke-width="0.7"/><line x1="645.7" y1="234.2" x2="650.5" y2="234.2" stroke="#333" stroke-width="0.7"/><line x1="645.7" y1="249.4" x2="650.5" y2="249.4" stroke="#333" stroke-width="0.7"/>
<circle cx="648.1" cy="228.4" r="1.2" fill="#111"/>
<circle cx="648.1" cy="242.4" r="1.2" fill="#111"/>
<circle cx="648.1" cy="252.9" r="1.2" fill="#111"/>
<line x1="660.5" y1="259.9" x2="660.5" y2="272.3" stroke="#333" stroke-width="0.7"/><line x1="658.1" y1="259.9" x2="662.9" y2="259.9" stroke="#333" stroke-width="0.7"/><line x1="658.1" y1="272.3" x2="662.9" y2="272.3" stroke="#333" stroke-width="0.7"/>
<circle cx="660.5" cy="259.9" r="1.2" fill="#111"/>
<circle cx="660.5" cy="268.1" r="1.2" fill="#111"/>
<circle cx="660.5" cy="269.3" r="1.2" fill="#111"/>
<line x1="672.9" y1="233" x2="672.9" y2="248.9" stroke="#333" stroke-width="0.7"/><line x1="670.5" y1="233" x2="675.3" y2="233" stroke="#333" stroke-width="0.7"/><line x1="670.5" y1="248.9" x2="675.3" y2="248.9" stroke="#333" stroke-width="0.7"/>
<circle cx="672.9" cy="231.2" r="1.2" fill="#111"/>
<circle cx="672.9" cy="240.5" r="1.2" fill="#111"/>
<circle cx="672.9" cy="248.9" r="1.2" fill="#111"/>
<line x1="530.1" y1="203.4" x2="530.1" y2="292.6" stroke="#111" stroke-width="1"/>
<line x1="529.6" y1="292.6" x2="680.5" y2="292.6" stroke="#111" stroke-width="1"/>
<line x1="527.5" y1="263.4" x2="530.1" y2="263.4" stroke="#111" stroke-width="0.9"/>
<text x="526.3" y="266.1" font-size="7.6" font-weight="bold" text-anchor="end" fill="#1a1a1a">10</text>
<line x1="527.5" y1="235.4" x2="530.1" y2="235.4" stroke="#111" stroke-width="0.9"/>
<text x="526.3" y="238.1" font-size="7.6" font-weight="bold" text-anchor="end" fill="#1a1a1a">20</text>
<text x="515.9" y="242.4" font-size="6.3" font-weight="bold" text-anchor="middle" fill="#1a1a1a" transform="rotate(-90 515.9 242.4)">RT-qPCR <tspan font-style="italic">(ONSEN / UBQ10)</tspan></text>
<text x="593.2" y="188.7" font-size="7" text-anchor="middle" fill="#222">14 days</text>
<text x="648.5" y="188.7" font-size="7" text-anchor="middle" fill="#222">24 h</text>
<rect x="549.4" y="190.9" width="89.1" height="8.4" fill="#dedede" stroke="#333" stroke-width="0.8"/>
<rect x="638.5" y="190.9" width="20.3" height="8.4" fill="#d5e6f6" stroke="#333" stroke-width="0.8"/>
<text x="593.7" y="197.7" font-size="7.4" text-anchor="middle" fill="#333">21/18°C</text>
<text x="648.6" y="197.7" font-size="7.4" font-weight="bold" text-anchor="middle" fill="#111">21°</text>
<rect x="549.4" y="201.2" width="89.1" height="8.1" fill="#dedede" stroke="#333" stroke-width="0.8"/>
<rect x="638.5" y="201.2" width="20.3" height="8.1" fill="#fcc58f" stroke="#333" stroke-width="0.8"/>
<text x="593.7" y="207.7" font-size="7.4" text-anchor="middle" fill="#333">21/18°C</text>
<text x="648.6" y="207.7" font-size="7.4" font-weight="bold" text-anchor="middle" fill="#111">37°</text>
<text x="541.5" y="300" font-size="7.3" text-anchor="end" fill="#1c1c1c" stroke="#1c1c1c" stroke-width="0.1" transform="rotate(-60 541.5 300)">Col-0<tspan font-size="5.4" dy="1.5" fill="#262626">WT</tspan></text>
<text x="553.1" y="300" font-size="7.3" text-anchor="end" fill="#1c1c1c" stroke="#1c1c1c" stroke-width="0.1" transform="rotate(-60 553.1 300)"><tspan font-style="italic">nrpd1-3</tspan></text>
<text x="565.5" y="300" font-size="7.3" text-anchor="end" fill="#1c1c1c" stroke="#1c1c1c" stroke-width="0.1" transform="rotate(-60 565.5 300)">WT</text>
<text x="577.7" y="300" font-size="7.3" text-anchor="end" fill="#1c1c1c" stroke="#1c1c1c" stroke-width="0.1" transform="rotate(-60 577.7 300)"><tspan fill="#e8262c" stroke="#e8262c">AAA</tspan>-YPMF</text>
<text x="589.8" y="300" font-size="7.3" text-anchor="end" fill="#1c1c1c" stroke="#1c1c1c" stroke-width="0.1" transform="rotate(-60 589.8 300)">CYC-<tspan fill="#e8262c" stroke="#e8262c">AAAA</tspan></text>
<text x="602.2" y="300" font-size="7.3" text-anchor="end" fill="#1c1c1c" stroke="#1c1c1c" stroke-width="0.1" transform="rotate(-60 602.2 300)"><tspan font-style="italic">clsy quad</tspan></text>
<text x="614.8" y="300" font-size="7.3" text-anchor="end" fill="#1c1c1c" stroke="#1c1c1c" stroke-width="0.1" transform="rotate(-60 614.8 300)">Col-0<tspan font-size="5.4" dy="1.5" fill="#262626">WT</tspan></text>
<text x="627.2" y="300" font-size="7.3" text-anchor="end" fill="#1c1c1c" stroke="#1c1c1c" stroke-width="0.1" transform="rotate(-60 627.2 300)"><tspan font-style="italic">nrpd1-3</tspan></text>
<text x="639.2" y="300" font-size="7.3" text-anchor="end" fill="#1c1c1c" stroke="#1c1c1c" stroke-width="0.1" transform="rotate(-60 639.2 300)">WT</text>
<text x="651.7" y="300" font-size="7.3" text-anchor="end" fill="#1c1c1c" stroke="#1c1c1c" stroke-width="0.1" transform="rotate(-60 651.7 300)"><tspan fill="#e8262c" stroke="#e8262c">AAA</tspan>-YPMF</text>
<text x="664.1" y="300" font-size="7.3" text-anchor="end" fill="#1c1c1c" stroke="#1c1c1c" stroke-width="0.1" transform="rotate(-60 664.1 300)">CYC-<tspan fill="#e8262c" stroke="#e8262c">AAAA</tspan></text>
<text x="676.5" y="300" font-size="7.3" text-anchor="end" fill="#1c1c1c" stroke="#1c1c1c" stroke-width="0.1" transform="rotate(-60 676.5 300)"><tspan font-style="italic">clsy quad</tspan></text>
<line x1="549.4" y1="334" x2="577.5" y2="334" stroke="#111" stroke-width="1.1"/>
<text x="563" y="343.2" font-size="7.6" text-anchor="middle" fill="#262626">NRPD1-3xF</text>
<line x1="621.5" y1="334" x2="649.9" y2="334" stroke="#111" stroke-width="1.1"/>
<text x="636.4" y="343.2" font-size="7.6" text-anchor="middle" fill="#262626">NRPD1-3xF</text>
<rect x="527.8" y="347.8" width="76.5" height="8.8" fill="#d5e6f6" stroke="none" stroke-width="1"/>
<rect x="604.3" y="347.8" width="75.3" height="8.8" fill="#fcc58f" stroke="none" stroke-width="1"/>
<text x="566" y="355" font-size="7.6" text-anchor="middle" fill="#222">24 h at <tspan font-weight="bold">21°C</tspan></text>
<text x="641.5" y="355" font-size="7.6" text-anchor="middle" fill="#222">24 h at <tspan font-weight="bold">37°C</tspan></text>
<text x="370.5" y="375.8" font-size="15" font-weight="bold" text-anchor="start" fill="#000">f</text>
<text x="438.8" y="387.9" font-size="8.8" text-anchor="end" fill="#1e1e1e">One CLSY</text>
<text x="438.8" y="398.1" font-size="8.8" text-anchor="end" fill="#1e1e1e">per Pol IV</text>
<text x="438.8" y="408.3" font-size="8.8" text-anchor="end" fill="#1e1e1e">complex</text>
<path d="M466.4 382.3 C466.8 380.5 467.6 377.5 469.5 376 C471.4 374.5 475.1 373.2 478 373.1 C480.9 373 484.7 374.1 486.6 375.6 C488.5 377.1 489.4 380.2 489.6 382 C489.8 383.8 488.8 385.7 488 386.6 C487.2 387.5 485.6 387.6 484.6 387.4 C483.6 387.2 482.7 385.4 482 385.4 C481.3 385.4 480 386.6 480.2 387.3 C480.4 388 482.4 388.8 483 389.6 C483.6 390.4 484.4 391.7 483.6 392 C482.9 392.3 480.7 391.9 478.5 391.4 C476.3 390.9 472.5 390 470.6 389.2 C468.7 388.4 467.9 387.8 467.2 386.6 C466.5 385.5 466 384.1 466.4 382.3 Z" fill="#fcfbe4" stroke="#222" stroke-width="0.8"/>
<text x="476.8" y="382.9" font-size="7.4" font-weight="bold" text-anchor="middle" fill="#222" textLength="17.4" lengthAdjust="spacingAndGlyphs">SHH1</text>
<path d="M451.7 396.4 C452.5 394.5 455 390.8 457.5 389.2 C460 387.6 463.3 386.9 466.5 386.8 C469.7 386.7 474 387.3 476.5 388.6 C479 389.9 480.8 392.5 481.4 394.6 C481.9 396.7 481.3 399.4 479.8 401.2 C478.3 403 475.4 404.2 472.5 405.6 C469.6 407 464.9 409.5 462.6 409.3 C460.3 409.1 460.4 405.7 458.8 404.2 C457.2 402.7 454 401.7 452.8 400.4 C451.6 399.1 450.9 398.3 451.7 396.4 Z" fill="#a9d6d9" stroke="#222" stroke-width="0.8"/>
<text x="466.3" y="400.1" font-size="9.2" font-weight="bold" text-anchor="middle" fill="#111" textLength="27.4" lengthAdjust="spacingAndGlyphs">CLSY1</text>
<path d="M506.8 382.3 C507.2 380.5 508 377.5 509.9 376 C511.8 374.5 515.5 373.2 518.4 373.1 C521.2 373 525.1 374.1 527 375.6 C528.9 377.1 529.8 380.2 530 382 C530.2 383.8 529.2 385.7 528.4 386.6 C527.6 387.5 526 387.6 525 387.4 C524 387.2 523.1 385.4 522.4 385.4 C521.7 385.4 520.4 386.6 520.6 387.3 C520.8 388 522.8 388.8 523.4 389.6 C524 390.4 524.8 391.7 524 392 C523.2 392.3 521.1 391.9 518.9 391.4 C516.7 390.9 512.9 390 511 389.2 C509.1 388.4 508.3 387.8 507.6 386.6 C506.9 385.5 506.4 384.1 506.8 382.3 Z" fill="#fcfbe4" stroke="#222" stroke-width="0.8"/>
<text x="517.2" y="382.9" font-size="7.4" font-weight="bold" text-anchor="middle" fill="#222" textLength="17.4" lengthAdjust="spacingAndGlyphs">SHH1</text>
<path d="M492.1 396.4 C492.9 394.5 495.4 390.8 497.9 389.2 C500.4 387.6 503.7 386.9 506.9 386.8 C510.1 386.7 514.4 387.3 516.9 388.6 C519.4 389.9 521.2 392.5 521.8 394.6 C522.3 396.7 521.7 399.4 520.2 401.2 C518.7 403 515.8 404.2 512.9 405.6 C510 407 505.3 409.5 503 409.3 C500.7 409.1 500.8 405.7 499.2 404.2 C497.6 402.7 494.4 401.7 493.2 400.4 C492 399.1 491.3 398.3 492.1 396.4 Z" fill="#6dba62" stroke="#222" stroke-width="0.8"/>
<text x="506.7" y="400.1" font-size="9.2" font-weight="bold" text-anchor="middle" fill="#111" textLength="27.4" lengthAdjust="spacingAndGlyphs">CLSY2</text>
<path d="M532.8 396.4 C533.6 394.5 536.1 390.8 538.6 389.2 C541.1 387.6 544.4 386.9 547.6 386.8 C550.8 386.7 555.1 387.3 557.6 388.6 C560.1 389.9 562 392.5 562.5 394.6 C563 396.7 562.4 399.4 560.9 401.2 C559.4 403 556.5 404.2 553.6 405.6 C550.7 407 546 409.5 543.7 409.3 C541.4 409.1 541.5 405.7 539.9 404.2 C538.3 402.7 535.1 401.7 533.9 400.4 C532.7 399.1 532 398.3 532.8 396.4 Z" fill="#8a8ec9" stroke="#222" stroke-width="0.8"/>
<text x="547.4" y="400.1" font-size="9.2" font-weight="bold" text-anchor="middle" fill="#111" textLength="27.4" lengthAdjust="spacingAndGlyphs">CLSY3</text>
<path d="M568 396.4 C568.8 394.5 571.3 390.8 573.8 389.2 C576.3 387.6 579.6 386.9 582.8 386.8 C586 386.7 590.3 387.3 592.8 388.6 C595.3 389.9 597.1 392.5 597.7 394.6 C598.2 396.7 597.6 399.4 596.1 401.2 C594.6 403 591.7 404.2 588.8 405.6 C585.9 407 581.2 409.5 578.9 409.3 C576.6 409.1 576.7 405.7 575.1 404.2 C573.5 402.7 570.3 401.7 569.1 400.4 C567.9 399.1 567.2 398.3 568 396.4 Z" fill="#d7a2d2" stroke="#222" stroke-width="0.8"/>
<text x="582.6" y="400.1" font-size="9.2" font-weight="bold" text-anchor="middle" fill="#111" textLength="27.4" lengthAdjust="spacingAndGlyphs">CLSY4</text>
<path d="M452.8 410.6 Q452.8 414.6 455.5 414.6 L522.8 414.6 Q525.4 414.6 525.4 417.6 Q525.4 414.6 528 414.6 L595.6 414.6 Q598.3 414.6 598.3 410.2" fill="none" stroke="#333" stroke-width="0.9"/>
<path d="M414.4 471.2 L424 466.8" fill="none" stroke="#a0a0a0" stroke-width="3" stroke-linecap="round"/>
<path d="M440 463.5 L446 467" fill="none" stroke="#a0a0a0" stroke-width="3"/>
<path d="M463 472 Q470 468 474 462" fill="none" stroke="#a0a0a0" stroke-width="3"/>
<path d="M466 470 Q472 466 476 466" fill="none" stroke="#a0a0a0" stroke-width="2.4"/>
<path d="M505 467.6 Q518 466.5 530 461" fill="none" stroke="#a0a0a0" stroke-width="3"/>
<path d="M510 462.5 L529 457.5" fill="none" stroke="#a0a0a0" stroke-width="2.6"/>
<path d="M543 466 Q548 469 553 470.5" fill="none" stroke="#a0a0a0" stroke-width="3"/>
<path d="M621 470.5 L633.6 465.8" fill="none" stroke="#a0a0a0" stroke-width="3.2"/>
<rect x="424.3" y="445" width="18.4" height="19.4" fill="#d9ecf8" stroke="none" stroke-width="1"/>
<ellipse cx="424.3" cy="454.7" rx="2.8" ry="10.5" fill="#e9f5fc" stroke="#2f5fbf" stroke-width="1.3"/>
<line x1="424.3" y1="446.2" x2="424.3" y2="463.2" stroke="#bcd8ee" stroke-width="0.6"/>
<rect x="426.7" y="443.6" width="8.1" height="22.2" rx="4" fill="#a0a0a0"/>
<line x1="430.8" y1="446.2" x2="430.8" y2="463.2" stroke="#b8b8b8" stroke-width="0.9"/>
<rect x="435.7" y="443.6" width="8.1" height="22.2" rx="4" fill="#a0a0a0"/>
<line x1="439.8" y1="446.2" x2="439.8" y2="463.2" stroke="#b8b8b8" stroke-width="0.9"/>
<path d="M442.7 444.2 A2.8 10.5 0 0 1 442.7 465.2" fill="none" stroke="#2f5fbf" stroke-width="1.3"/>
<rect x="443.6" y="458.6" width="18.6" height="19.2" fill="#d9ecf8" stroke="none" stroke-width="1"/>
<ellipse cx="443.6" cy="468.2" rx="2.8" ry="10.4" fill="#e9f5fc" stroke="#2f5fbf" stroke-width="1.3"/>
<line x1="443.6" y1="459.8" x2="443.6" y2="476.6" stroke="#bcd8ee" stroke-width="0.6"/>
<rect x="446" y="457.2" width="8.2" height="22" rx="4.1" fill="#a0a0a0"/>
<line x1="450.1" y1="459.8" x2="450.1" y2="476.6" stroke="#b8b8b8" stroke-width="0.9"/>
<rect x="455.1" y="457.2" width="8.2" height="22" rx="4.1" fill="#a0a0a0"/>
<line x1="459.2" y1="459.8" x2="459.2" y2="476.6" stroke="#b8b8b8" stroke-width="0.9"/>
<path d="M462.2 457.8 A2.8 10.4 0 0 1 462.2 478.6" fill="none" stroke="#2f5fbf" stroke-width="1.3"/>
<rect x="531.1" y="446.2" width="16.6" height="20.3" fill="#d9ecf8" stroke="none" stroke-width="1"/>
<ellipse cx="531.1" cy="456.4" rx="2.8" ry="11" fill="#e9f5fc" stroke="#2f5fbf" stroke-width="1.3"/>
<line x1="531.1" y1="447.4" x2="531.1" y2="465.3" stroke="#bcd8ee" stroke-width="0.6"/>
<rect x="533.5" y="444.8" width="7.2" height="23.1" rx="3.6" fill="#a0a0a0"/>
<line x1="537.1" y1="447.4" x2="537.1" y2="465.3" stroke="#b8b8b8" stroke-width="0.9"/>
<rect x="541.6" y="444.8" width="7.2" height="23.1" rx="3.6" fill="#a0a0a0"/>
<line x1="545.2" y1="447.4" x2="545.2" y2="465.3" stroke="#b8b8b8" stroke-width="0.9"/>
<path d="M547.7 445.4 A2.8 11 0 0 1 547.7 467.3" fill="none" stroke="#2f5fbf" stroke-width="1.3"/>
<path d="M552.1 468.4 L619.6 468.4 L622.4 472.1 L619.6 475.8 L552.1 475.8 Z" fill="#7a2a8a" stroke="none" stroke-width="1"/>
<path d="M572.3 470.3 L602 470.3 L602 474.3 L572.3 474.3 L575.3 472.3 Z" fill="#fff" stroke="none" stroke-width="1"/>
<line x1="547.4" y1="456.5" x2="547.4" y2="463.5" stroke="#e8262c" stroke-width="0.9"/>
<circle cx="547.4" cy="456.5" r="1.9" fill="#e8262c"/>
<line x1="555.3" y1="461" x2="555.3" y2="468.4" stroke="#e8262c" stroke-width="0.9"/>
<circle cx="555.3" cy="461" r="1.9" fill="#e8262c"/>
<line x1="560.9" y1="463.5" x2="560.9" y2="468.4" stroke="#e8262c" stroke-width="0.9"/>
<circle cx="560.9" cy="463.5" r="1.9" fill="#e8262c"/>
<line x1="568.4" y1="463.5" x2="568.4" y2="468.4" stroke="#e8262c" stroke-width="0.9"/>
<circle cx="568.4" cy="463.5" r="1.9" fill="#e8262c"/>
<line x1="575.3" y1="463.5" x2="575.3" y2="468.4" stroke="#e8262c" stroke-width="0.9"/>
<circle cx="575.3" cy="463.5" r="1.9" fill="#e8262c"/>
<line x1="581.9" y1="463.5" x2="581.9" y2="468.4" stroke="#e8262c" stroke-width="0.9"/>
<circle cx="581.9" cy="463.5" r="1.9" fill="#e8262c"/>
<line x1="588.9" y1="463.5" x2="588.9" y2="468.4" stroke="#e8262c" stroke-width="0.9"/>
<circle cx="588.9" cy="463.5" r="1.9" fill="#e8262c"/>
<line x1="595.4" y1="463.5" x2="595.4" y2="468.4" stroke="#e8262c" stroke-width="0.9"/>
<circle cx="595.4" cy="463.5" r="1.9" fill="#e8262c"/>
<ellipse cx="487.2" cy="485" rx="15.7" ry="10.2" fill="#fcfbe4" stroke="#111" stroke-width="1.15"/>
<path d="M470.2 461 C470.4 458.7 470.9 456 472.6 454.2 C474.3 452.4 476.9 451.1 480.4 450.2 C483.9 449.3 489.7 448.6 493.6 448.6 C497.5 448.6 500.9 449.3 503.8 450.4 C506.7 451.5 509.2 453.2 510.8 455 C512.4 456.8 513.1 458.7 513.3 461 C513.5 463.3 513.1 466.6 511.8 469 C510.5 471.4 509.1 474.2 505.3 475.4 C501.5 476.6 493.8 476.6 489.2 476.3 C484.6 476 480.4 474.8 477.5 473.4 C474.6 472 472.9 469.9 471.7 467.8 C470.5 465.7 470 463.3 470.2 461 Z" fill="#f7cdc8" stroke="#111" stroke-width="0.9"/>
<path d="M472.8 463 Q474 453.5 486 451" fill="none" stroke="#111" stroke-width="0.6"/>
<path d="M474.5 467 Q476 457 482 454 Q486 452.5 487 456" fill="none" stroke="#111" stroke-width="0.6"/>
<text x="490.6" y="466.4" font-size="9.6" font-weight="bold" text-anchor="middle" fill="#111" textLength="27.5" lengthAdjust="spacingAndGlyphs">NRPD1</text>
<path d="M478.5 473.5 Q471 479 473.5 487 Q476.5 492 485 490.6 Q497 489 511.5 489.4" fill="none" stroke="#e8262c" stroke-width="1.4"/>
<path d="M482 493.2 Q496 491.6 510.5 492.4" fill="none" stroke="#e8262c" stroke-width="1.3"/>
<text x="487.4" y="486.4" font-size="9" font-weight="bold" text-anchor="middle" fill="#111">RDR2</text>
<rect x="503.6" y="451.4" width="9.6" height="9.2" rx="2" fill="#c9a3d6" stroke="#555" stroke-width="0.5" stroke-dasharray="1 0.7"/>
<text x="507.4" y="458.4" font-size="7" font-weight="bold" text-anchor="middle" fill="#553366">*</text>
<ellipse cx="529.6" cy="433.4" rx="10.5" ry="7.2" fill="#fff" stroke="#333" stroke-width="0.7"/>
<text x="530.3" y="436.4" font-size="6.6" text-anchor="middle" fill="#555">SHH1</text>
<ellipse cx="520.8" cy="449.4" rx="13.9" ry="10.4" fill="#fff" stroke="#333" stroke-width="0.7" transform="rotate(-12 520.8 449.4)"/>
<text x="520.8" y="452.4" font-size="8.2" text-anchor="middle" fill="#333">CLSY1</text>
<line x1="538.5" y1="441.5" x2="540.8" y2="448.6" stroke="#f0a030" stroke-width="1"/>
<circle cx="534.6" cy="439.3" r="1.8" fill="#f0a030" stroke="#222" stroke-width="0.8"/>
<circle cx="538.3" cy="441.6" r="1.8" fill="#f0a030" stroke="#222" stroke-width="0.8"/>
<text x="543.4" y="442.5" font-size="6.8" fill="#222">H3K9<tspan fill="#f0a030">me2</tspan></text>
<text x="480.2" y="431.6" font-size="8.9" text-anchor="middle" fill="#1e1e1e">CYC-YPMF motif</text>
<line x1="503.6" y1="434.4" x2="506.7" y2="455.5" stroke="#111" stroke-width="0.7"/>
<text x="489.6" y="444.7" font-size="9.2" font-weight="bold" text-anchor="middle" fill="#111">Pol IV</text>
<text x="560.9" y="456.5" font-size="8" text-anchor="start" fill="#1e1e1e">DNA methylation</text>
<text x="574.9" y="486.4" font-size="7.9" text-anchor="start" fill="#1e1e1e">Silent transposon</text>
<ellipse cx="556.8" cy="482.4" rx="15" ry="7.4" fill="#e3e3e3" stroke="#111" stroke-width="1.15"/>
<text x="557" y="485.3" font-size="8.4" font-weight="bold" text-anchor="middle" fill="#111">DRM2</text>
<line x1="486.2" y1="497.5" x2="486.2" y2="511" stroke="#111" stroke-width="1.4"/><path d="M486.2 515.2 L483.9 511 L488.5 511 Z" fill="#111" stroke="none" stroke-width="1"/>
<text x="467.6" y="521.8" font-size="8" text-anchor="end" fill="#e8262c">~30 nt dsRNA</text>
<path d="M470.3 517.4 Q488 516.6 505 517.8" fill="none" stroke="#e8262c" stroke-width="1.1"/>
<path d="M470.3 520.3 Q488 519.6 503 520.6" fill="none" stroke="#e8262c" stroke-width="1.1"/>
<ellipse cx="470" cy="533.4" rx="13.6" ry="7.4" fill="#e3e3e3" stroke="#111" stroke-width="1.15"/>
<text x="470" y="536.3" font-size="8.2" font-weight="bold" text-anchor="middle" fill="#111">DCL3</text>
<line x1="487.4" y1="524.7" x2="491.2" y2="539.5" stroke="#111" stroke-width="1.4"/><path d="M492.2 543.6 L488.9 540.1 L493.4 539 Z" fill="#111" stroke="none" stroke-width="1"/>
<text x="480.7" y="551.4" font-size="8" text-anchor="end" fill="#e8262c">24 nt siRNA duplex</text>
<line x1="483.2" y1="547.2" x2="502.3" y2="546.6" stroke="#e8262c" stroke-width="1.1"/>
<line x1="483.2" y1="550.1" x2="499.5" y2="549.6" stroke="#e8262c" stroke-width="1.1"/>
<line x1="506.3" y1="548.3" x2="518.4" y2="543.4" stroke="#111" stroke-width="1.4"/><path d="M522.3 541.8 L519.3 545.5 L517.5 541.2 Z" fill="#111" stroke="none" stroke-width="1"/>
<ellipse cx="534.5" cy="532.8" rx="14" ry="9.2" fill="#e3e3e3" stroke="#111" stroke-width="1.15"/>
<text x="534.5" y="535.6" font-size="8.2" font-weight="bold" text-anchor="middle" fill="#111">AGO4</text>
<line x1="525.4" y1="537" x2="542.8" y2="537" stroke="#e8262c" stroke-width="1.5"/>
<line x1="543.6" y1="521.6" x2="547.9" y2="511.7" stroke="#111" stroke-width="1.4"/><path d="M549.6 507.8 L550 512.6 L545.8 510.7 Z" fill="#111" stroke="none" stroke-width="1"/>
<line x1="550.6" y1="505.4" x2="554.6" y2="495.5" stroke="#111" stroke-width="1.4"/><path d="M556.2 491.6 L556.8 496.4 L552.5 494.6 Z" fill="#111" stroke="none" stroke-width="1"/>
</svg></body></html>
